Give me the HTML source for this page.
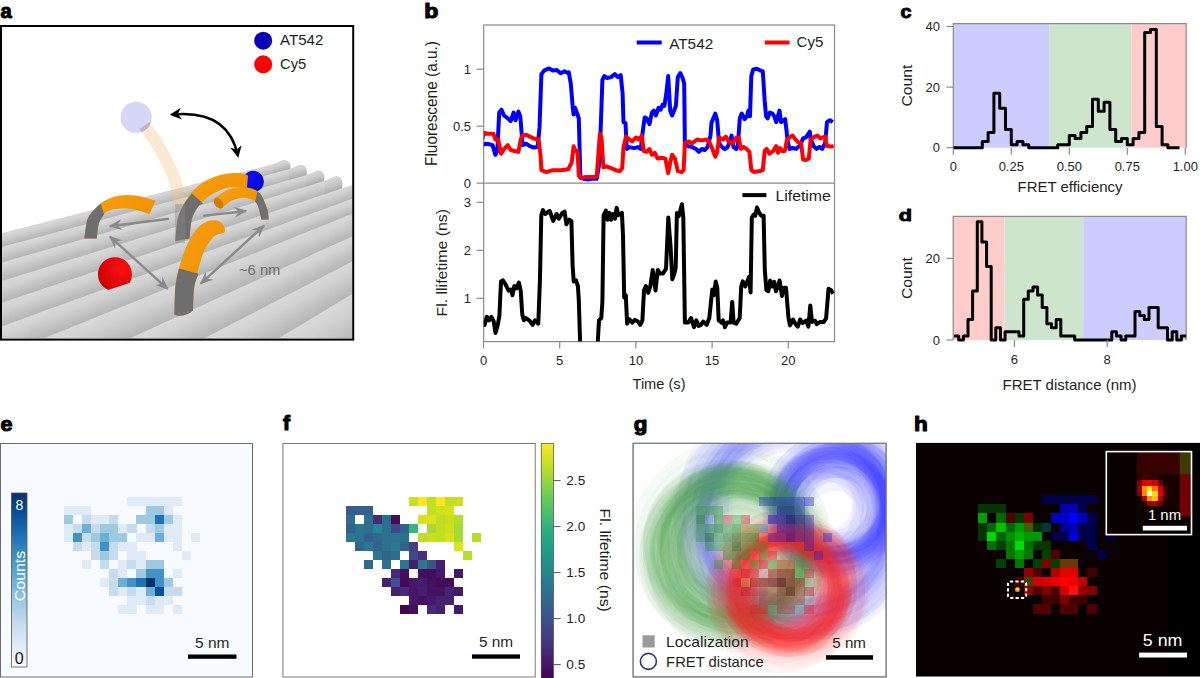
<!DOCTYPE html>
<html><head><meta charset="utf-8"><style>
html,body{margin:0;padding:0;background:#fff;}
body{width:1200px;height:678px;overflow:hidden;}
svg{display:block;font-family:"Liberation Sans",sans-serif;}
</style></head><body>
<svg width="1200" height="678" viewBox="0 0 1200 678">
<rect x="0" y="0" width="1200" height="678" fill="#fff"/>
<defs><clipPath id="ca"><rect x="1.8" y="27" width="350.4" height="311.6"/></clipPath>
<linearGradient id="tubeO" x1="0" y1="0" x2="0" y2="1"><stop offset="0" stop-color="#f5a01a"/><stop offset="1" stop-color="#e08a00"/></linearGradient>
<radialGradient id="sphB" cx="0.4" cy="0.35" r="0.7"><stop offset="0" stop-color="#1010ff"/><stop offset="1" stop-color="#0000c8"/></radialGradient>
<radialGradient id="sphR" cx="0.7" cy="0.35" r="0.8"><stop offset="0" stop-color="#ff1010"/><stop offset="1" stop-color="#c80000"/></radialGradient>
<marker id="ahg" viewBox="0 0 10 10" refX="9" refY="5" markerWidth="5.5" markerHeight="4.6" preserveAspectRatio="none" orient="auto-start-reverse"><path d="M0,0 L10,5 L0,10 L3.4,5 z" fill="#8a8a8a"/></marker>
<marker id="ahk" viewBox="0 0 10 10" refX="8" refY="5" markerWidth="4.5" markerHeight="4.5" orient="auto-start-reverse"><path d="M0,0 L10,5 L0,10 L3,5 z" fill="#000"/></marker>
</defs>
<g clip-path="url(#ca)">
<linearGradient id="cg0_0" gradientUnits="userSpaceOnUse" x1="7.5" y1="231.6" x2="10.8" y2="244.6"><stop offset="0" stop-color="#d9d9d9"/><stop offset="0.3" stop-color="#d2d2d2"/><stop offset="1" stop-color="#b5b5b5"/></linearGradient>
<path d="M-0.5,233.6 L15.5,229.6 L15.5,247.3 L-0.5,251.6 Z" fill="url(#cg0_0)"/>
<linearGradient id="cg0_1" gradientUnits="userSpaceOnUse" x1="22.5" y1="227.8" x2="25.7" y2="240.6"><stop offset="0" stop-color="#d9d9d9"/><stop offset="0.3" stop-color="#d2d2d2"/><stop offset="1" stop-color="#b5b5b5"/></linearGradient>
<path d="M14.5,229.8 L30.5,225.8 L30.5,243.2 L14.5,247.6 Z" fill="url(#cg0_1)"/>
<linearGradient id="cg0_2" gradientUnits="userSpaceOnUse" x1="37.5" y1="224.0" x2="40.7" y2="236.5"><stop offset="0" stop-color="#d9d9d9"/><stop offset="0.3" stop-color="#d2d2d2"/><stop offset="1" stop-color="#b5b5b5"/></linearGradient>
<path d="M29.5,226.0 L45.5,221.9 L45.5,239.2 L29.5,243.5 Z" fill="url(#cg0_2)"/>
<linearGradient id="cg0_3" gradientUnits="userSpaceOnUse" x1="52.5" y1="220.2" x2="55.6" y2="232.5"><stop offset="0" stop-color="#d9d9d9"/><stop offset="0.3" stop-color="#d2d2d2"/><stop offset="1" stop-color="#b5b5b5"/></linearGradient>
<path d="M44.5,222.2 L60.5,218.1 L60.5,235.1 L44.5,239.4 Z" fill="url(#cg0_3)"/>
<linearGradient id="cg0_4" gradientUnits="userSpaceOnUse" x1="67.5" y1="216.4" x2="70.6" y2="228.4"><stop offset="0" stop-color="#d9d9d9"/><stop offset="0.3" stop-color="#d2d2d2"/><stop offset="1" stop-color="#b5b5b5"/></linearGradient>
<path d="M59.5,218.4 L75.5,214.3 L75.5,231.0 L59.5,235.4 Z" fill="url(#cg0_4)"/>
<linearGradient id="cg0_5" gradientUnits="userSpaceOnUse" x1="82.5" y1="212.5" x2="85.5" y2="224.4"><stop offset="0" stop-color="#d9d9d9"/><stop offset="0.3" stop-color="#d2d2d2"/><stop offset="1" stop-color="#b5b5b5"/></linearGradient>
<path d="M74.5,214.6 L90.5,210.5 L90.5,227.0 L74.5,231.3 Z" fill="url(#cg0_5)"/>
<linearGradient id="cg0_6" gradientUnits="userSpaceOnUse" x1="97.5" y1="208.7" x2="100.4" y2="220.3"><stop offset="0" stop-color="#d9d9d9"/><stop offset="0.3" stop-color="#d2d2d2"/><stop offset="1" stop-color="#b5b5b5"/></linearGradient>
<path d="M89.5,210.8 L105.5,206.7 L105.5,222.9 L89.5,227.2 Z" fill="url(#cg0_6)"/>
<linearGradient id="cg0_7" gradientUnits="userSpaceOnUse" x1="112.5" y1="204.9" x2="115.4" y2="216.3"><stop offset="0" stop-color="#d9d9d9"/><stop offset="0.3" stop-color="#d2d2d2"/><stop offset="1" stop-color="#b5b5b5"/></linearGradient>
<path d="M104.5,207.0 L120.5,202.9 L120.5,218.8 L104.5,223.2 Z" fill="url(#cg0_7)"/>
<linearGradient id="cg0_8" gradientUnits="userSpaceOnUse" x1="127.5" y1="201.1" x2="130.3" y2="212.2"><stop offset="0" stop-color="#d9d9d9"/><stop offset="0.3" stop-color="#d2d2d2"/><stop offset="1" stop-color="#b5b5b5"/></linearGradient>
<path d="M119.5,203.1 L135.5,199.1 L135.5,214.8 L119.5,219.1 Z" fill="url(#cg0_8)"/>
<linearGradient id="cg0_9" gradientUnits="userSpaceOnUse" x1="142.5" y1="197.3" x2="145.3" y2="208.2"><stop offset="0" stop-color="#d9d9d9"/><stop offset="0.3" stop-color="#d2d2d2"/><stop offset="1" stop-color="#b5b5b5"/></linearGradient>
<path d="M134.5,199.3 L150.5,195.3 L150.5,210.7 L134.5,215.1 Z" fill="url(#cg0_9)"/>
<linearGradient id="cg0_10" gradientUnits="userSpaceOnUse" x1="157.5" y1="193.5" x2="160.2" y2="204.1"><stop offset="0" stop-color="#d9d9d9"/><stop offset="0.3" stop-color="#d2d2d2"/><stop offset="1" stop-color="#b5b5b5"/></linearGradient>
<path d="M149.5,195.5 L165.5,191.5 L165.5,206.6 L149.5,211.0 Z" fill="url(#cg0_10)"/>
<linearGradient id="cg0_11" gradientUnits="userSpaceOnUse" x1="172.5" y1="189.7" x2="175.1" y2="200.1"><stop offset="0" stop-color="#d9d9d9"/><stop offset="0.3" stop-color="#d2d2d2"/><stop offset="1" stop-color="#b5b5b5"/></linearGradient>
<path d="M164.5,191.7 L180.5,187.7 L180.5,202.6 L164.5,206.9 Z" fill="url(#cg0_11)"/>
<linearGradient id="cg0_12" gradientUnits="userSpaceOnUse" x1="187.5" y1="185.9" x2="190.1" y2="196.0"><stop offset="0" stop-color="#d9d9d9"/><stop offset="0.3" stop-color="#d2d2d2"/><stop offset="1" stop-color="#b5b5b5"/></linearGradient>
<path d="M179.5,187.9 L195.5,183.8 L195.5,198.5 L179.5,202.9 Z" fill="url(#cg0_12)"/>
<linearGradient id="cg0_13" gradientUnits="userSpaceOnUse" x1="202.5" y1="182.1" x2="205.0" y2="192.0"><stop offset="0" stop-color="#d9d9d9"/><stop offset="0.3" stop-color="#d2d2d2"/><stop offset="1" stop-color="#b5b5b5"/></linearGradient>
<path d="M194.5,184.1 L210.5,180.0 L210.5,194.5 L194.5,198.8 Z" fill="url(#cg0_13)"/>
<linearGradient id="cg0_14" gradientUnits="userSpaceOnUse" x1="217.5" y1="178.3" x2="220.0" y2="187.9"><stop offset="0" stop-color="#d9d9d9"/><stop offset="0.3" stop-color="#d2d2d2"/><stop offset="1" stop-color="#b5b5b5"/></linearGradient>
<path d="M209.5,180.3 L225.5,176.2 L225.5,190.4 L209.5,194.7 Z" fill="url(#cg0_14)"/>
<linearGradient id="cg0_15" gradientUnits="userSpaceOnUse" x1="232.5" y1="174.4" x2="234.9" y2="183.9"><stop offset="0" stop-color="#d9d9d9"/><stop offset="0.3" stop-color="#d2d2d2"/><stop offset="1" stop-color="#b5b5b5"/></linearGradient>
<path d="M224.5,176.5 L240.5,172.4 L240.5,186.3 L224.5,190.7 Z" fill="url(#cg0_15)"/>
<linearGradient id="cg0_16" gradientUnits="userSpaceOnUse" x1="247.5" y1="170.6" x2="249.8" y2="179.8"><stop offset="0" stop-color="#d9d9d9"/><stop offset="0.3" stop-color="#d2d2d2"/><stop offset="1" stop-color="#b5b5b5"/></linearGradient>
<path d="M239.5,172.7 L255.5,168.6 L255.5,182.3 L239.5,186.6 Z" fill="url(#cg0_16)"/>
<linearGradient id="cg0_17" gradientUnits="userSpaceOnUse" x1="262.5" y1="166.8" x2="264.8" y2="175.8"><stop offset="0" stop-color="#d9d9d9"/><stop offset="0.3" stop-color="#d2d2d2"/><stop offset="1" stop-color="#b5b5b5"/></linearGradient>
<path d="M254.5,168.9 L270.5,164.8 L270.5,178.2 L254.5,182.5 Z" fill="url(#cg0_17)"/>
<linearGradient id="cg0_18" gradientUnits="userSpaceOnUse" x1="271.5" y1="164.5" x2="273.7" y2="173.4"><stop offset="0" stop-color="#d9d9d9"/><stop offset="0.3" stop-color="#d2d2d2"/><stop offset="1" stop-color="#b5b5b5"/></linearGradient>
<path d="M269.5,165.0 L273.5,164.0 L273.5,177.4 L269.5,178.5 Z" fill="url(#cg0_18)"/>
<linearGradient id="cgc0" gradientUnits="userSpaceOnUse" x1="283.0" y1="161.6" x2="285.2" y2="170.3"><stop offset="0" stop-color="#d6d6d6"/><stop offset="0.3" stop-color="#cecece"/><stop offset="1" stop-color="#adadad"/></linearGradient>
<path d="M272.5,164.3 L283.0,160.1 C288.0,159.1 292.0,163.6 290.0,169.9 L290.0,173.9 L272.5,178.7 Z" fill="url(#cgc0)"/>
<linearGradient id="cg1_0" gradientUnits="userSpaceOnUse" x1="7.5" y1="245.5" x2="11.4" y2="259.8"><stop offset="0" stop-color="#d9d9d9"/><stop offset="0.3" stop-color="#d2d2d2"/><stop offset="1" stop-color="#b5b5b5"/></linearGradient>
<path d="M-0.5,247.6 L15.5,243.3 L15.5,262.6 L-0.5,267.1 Z" fill="url(#cg1_0)"/>
<linearGradient id="cg1_1" gradientUnits="userSpaceOnUse" x1="22.5" y1="241.4" x2="26.3" y2="255.5"><stop offset="0" stop-color="#d9d9d9"/><stop offset="0.3" stop-color="#d2d2d2"/><stop offset="1" stop-color="#b5b5b5"/></linearGradient>
<path d="M14.5,243.6 L30.5,239.2 L30.5,258.2 L14.5,262.8 Z" fill="url(#cg1_1)"/>
<linearGradient id="cg1_2" gradientUnits="userSpaceOnUse" x1="37.5" y1="237.3" x2="41.3" y2="251.2"><stop offset="0" stop-color="#d9d9d9"/><stop offset="0.3" stop-color="#d2d2d2"/><stop offset="1" stop-color="#b5b5b5"/></linearGradient>
<path d="M29.5,239.5 L45.5,235.2 L45.5,253.9 L29.5,258.5 Z" fill="url(#cg1_2)"/>
<linearGradient id="cg1_3" gradientUnits="userSpaceOnUse" x1="52.5" y1="233.3" x2="56.2" y2="246.9"><stop offset="0" stop-color="#d9d9d9"/><stop offset="0.3" stop-color="#d2d2d2"/><stop offset="1" stop-color="#b5b5b5"/></linearGradient>
<path d="M44.5,235.4 L60.5,231.1 L60.5,249.6 L44.5,254.2 Z" fill="url(#cg1_3)"/>
<linearGradient id="cg1_4" gradientUnits="userSpaceOnUse" x1="67.5" y1="229.2" x2="71.1" y2="242.6"><stop offset="0" stop-color="#d9d9d9"/><stop offset="0.3" stop-color="#d2d2d2"/><stop offset="1" stop-color="#b5b5b5"/></linearGradient>
<path d="M59.5,231.4 L75.5,227.0 L75.5,245.3 L59.5,249.9 Z" fill="url(#cg1_4)"/>
<linearGradient id="cg1_5" gradientUnits="userSpaceOnUse" x1="82.5" y1="225.1" x2="86.1" y2="238.4"><stop offset="0" stop-color="#d9d9d9"/><stop offset="0.3" stop-color="#d2d2d2"/><stop offset="1" stop-color="#b5b5b5"/></linearGradient>
<path d="M74.5,227.3 L90.5,223.0 L90.5,241.0 L74.5,245.6 Z" fill="url(#cg1_5)"/>
<linearGradient id="cg1_6" gradientUnits="userSpaceOnUse" x1="97.5" y1="221.1" x2="101.0" y2="234.1"><stop offset="0" stop-color="#d9d9d9"/><stop offset="0.3" stop-color="#d2d2d2"/><stop offset="1" stop-color="#b5b5b5"/></linearGradient>
<path d="M89.5,223.2 L105.5,218.9 L105.5,236.7 L89.5,241.3 Z" fill="url(#cg1_6)"/>
<linearGradient id="cg1_7" gradientUnits="userSpaceOnUse" x1="112.5" y1="217.0" x2="116.0" y2="229.8"><stop offset="0" stop-color="#d9d9d9"/><stop offset="0.3" stop-color="#d2d2d2"/><stop offset="1" stop-color="#b5b5b5"/></linearGradient>
<path d="M104.5,219.2 L120.5,214.8 L120.5,232.4 L104.5,237.0 Z" fill="url(#cg1_7)"/>
<linearGradient id="cg1_8" gradientUnits="userSpaceOnUse" x1="127.5" y1="212.9" x2="130.9" y2="225.5"><stop offset="0" stop-color="#d9d9d9"/><stop offset="0.3" stop-color="#d2d2d2"/><stop offset="1" stop-color="#b5b5b5"/></linearGradient>
<path d="M119.5,215.1 L135.5,210.8 L135.5,228.1 L119.5,232.7 Z" fill="url(#cg1_8)"/>
<linearGradient id="cg1_9" gradientUnits="userSpaceOnUse" x1="142.5" y1="208.9" x2="145.8" y2="221.2"><stop offset="0" stop-color="#d9d9d9"/><stop offset="0.3" stop-color="#d2d2d2"/><stop offset="1" stop-color="#b5b5b5"/></linearGradient>
<path d="M134.5,211.1 L150.5,206.7 L150.5,223.8 L134.5,228.4 Z" fill="url(#cg1_9)"/>
<linearGradient id="cg1_10" gradientUnits="userSpaceOnUse" x1="157.5" y1="204.8" x2="160.8" y2="216.9"><stop offset="0" stop-color="#d9d9d9"/><stop offset="0.3" stop-color="#d2d2d2"/><stop offset="1" stop-color="#b5b5b5"/></linearGradient>
<path d="M149.5,207.0 L165.5,202.6 L165.5,219.5 L149.5,224.1 Z" fill="url(#cg1_10)"/>
<linearGradient id="cg1_11" gradientUnits="userSpaceOnUse" x1="172.5" y1="200.8" x2="175.7" y2="212.6"><stop offset="0" stop-color="#d9d9d9"/><stop offset="0.3" stop-color="#d2d2d2"/><stop offset="1" stop-color="#b5b5b5"/></linearGradient>
<path d="M164.5,202.9 L180.5,198.6 L180.5,215.2 L164.5,219.8 Z" fill="url(#cg1_11)"/>
<linearGradient id="cg1_12" gradientUnits="userSpaceOnUse" x1="187.5" y1="196.7" x2="190.7" y2="208.3"><stop offset="0" stop-color="#d9d9d9"/><stop offset="0.3" stop-color="#d2d2d2"/><stop offset="1" stop-color="#b5b5b5"/></linearGradient>
<path d="M179.5,198.9 L195.5,194.5 L195.5,210.9 L179.5,215.5 Z" fill="url(#cg1_12)"/>
<linearGradient id="cg1_13" gradientUnits="userSpaceOnUse" x1="202.5" y1="192.6" x2="205.6" y2="204.0"><stop offset="0" stop-color="#d9d9d9"/><stop offset="0.3" stop-color="#d2d2d2"/><stop offset="1" stop-color="#b5b5b5"/></linearGradient>
<path d="M194.5,194.8 L210.5,190.5 L210.5,206.6 L194.5,211.2 Z" fill="url(#cg1_13)"/>
<linearGradient id="cg1_14" gradientUnits="userSpaceOnUse" x1="217.5" y1="188.6" x2="220.5" y2="199.8"><stop offset="0" stop-color="#d9d9d9"/><stop offset="0.3" stop-color="#d2d2d2"/><stop offset="1" stop-color="#b5b5b5"/></linearGradient>
<path d="M209.5,190.7 L225.5,186.4 L225.5,202.3 L209.5,206.9 Z" fill="url(#cg1_14)"/>
<linearGradient id="cg1_15" gradientUnits="userSpaceOnUse" x1="232.5" y1="184.5" x2="235.5" y2="195.5"><stop offset="0" stop-color="#d9d9d9"/><stop offset="0.3" stop-color="#d2d2d2"/><stop offset="1" stop-color="#b5b5b5"/></linearGradient>
<path d="M224.5,186.7 L240.5,182.3 L240.5,198.0 L224.5,202.6 Z" fill="url(#cg1_15)"/>
<linearGradient id="cg1_16" gradientUnits="userSpaceOnUse" x1="247.5" y1="180.4" x2="250.4" y2="191.2"><stop offset="0" stop-color="#d9d9d9"/><stop offset="0.3" stop-color="#d2d2d2"/><stop offset="1" stop-color="#b5b5b5"/></linearGradient>
<path d="M239.5,182.6 L255.5,178.3 L255.5,193.7 L239.5,198.3 Z" fill="url(#cg1_16)"/>
<linearGradient id="cg1_17" gradientUnits="userSpaceOnUse" x1="262.5" y1="176.4" x2="265.4" y2="186.9"><stop offset="0" stop-color="#d9d9d9"/><stop offset="0.3" stop-color="#d2d2d2"/><stop offset="1" stop-color="#b5b5b5"/></linearGradient>
<path d="M254.5,178.5 L270.5,174.2 L270.5,189.4 L254.5,194.0 Z" fill="url(#cg1_17)"/>
<linearGradient id="cg1_18" gradientUnits="userSpaceOnUse" x1="277.5" y1="172.3" x2="280.3" y2="182.6"><stop offset="0" stop-color="#d9d9d9"/><stop offset="0.3" stop-color="#d2d2d2"/><stop offset="1" stop-color="#b5b5b5"/></linearGradient>
<path d="M269.5,174.5 L285.5,170.1 L285.5,185.1 L269.5,189.7 Z" fill="url(#cg1_18)"/>
<linearGradient id="cg1_19" gradientUnits="userSpaceOnUse" x1="287.2" y1="169.7" x2="290.0" y2="179.8"><stop offset="0" stop-color="#d9d9d9"/><stop offset="0.3" stop-color="#d2d2d2"/><stop offset="1" stop-color="#b5b5b5"/></linearGradient>
<path d="M284.5,170.4 L290.0,168.9 L290.0,183.8 L284.5,185.3 Z" fill="url(#cg1_19)"/>
<linearGradient id="cgc1" gradientUnits="userSpaceOnUse" x1="299.5" y1="166.3" x2="302.2" y2="176.3"><stop offset="0" stop-color="#d6d6d6"/><stop offset="0.3" stop-color="#cecece"/><stop offset="1" stop-color="#adadad"/></linearGradient>
<path d="M289.0,169.2 L299.5,164.8 C304.5,163.8 308.5,168.3 306.5,176.0 L306.5,180.0 L289.0,185.1 Z" fill="url(#cgc1)"/>
<linearGradient id="cg2_0" gradientUnits="userSpaceOnUse" x1="7.5" y1="260.8" x2="12.4" y2="277.8"><stop offset="0" stop-color="#d9d9d9"/><stop offset="0.3" stop-color="#d2d2d2"/><stop offset="1" stop-color="#b5b5b5"/></linearGradient>
<path d="M-0.5,263.1 L15.5,258.6 L15.5,280.7 L-0.5,285.7 Z" fill="url(#cg2_0)"/>
<linearGradient id="cg2_1" gradientUnits="userSpaceOnUse" x1="22.5" y1="256.5" x2="27.3" y2="273.2"><stop offset="0" stop-color="#d9d9d9"/><stop offset="0.3" stop-color="#d2d2d2"/><stop offset="1" stop-color="#b5b5b5"/></linearGradient>
<path d="M14.5,258.8 L30.5,254.2 L30.5,276.0 L14.5,281.0 Z" fill="url(#cg2_1)"/>
<linearGradient id="cg2_2" gradientUnits="userSpaceOnUse" x1="37.5" y1="252.2" x2="42.2" y2="268.5"><stop offset="0" stop-color="#d9d9d9"/><stop offset="0.3" stop-color="#d2d2d2"/><stop offset="1" stop-color="#b5b5b5"/></linearGradient>
<path d="M29.5,254.5 L45.5,249.9 L45.5,271.4 L29.5,276.4 Z" fill="url(#cg2_2)"/>
<linearGradient id="cg2_3" gradientUnits="userSpaceOnUse" x1="52.5" y1="247.9" x2="57.1" y2="263.9"><stop offset="0" stop-color="#d9d9d9"/><stop offset="0.3" stop-color="#d2d2d2"/><stop offset="1" stop-color="#b5b5b5"/></linearGradient>
<path d="M44.5,250.2 L60.5,245.6 L60.5,266.7 L44.5,271.7 Z" fill="url(#cg2_3)"/>
<linearGradient id="cg2_4" gradientUnits="userSpaceOnUse" x1="67.5" y1="243.6" x2="72.0" y2="259.3"><stop offset="0" stop-color="#d9d9d9"/><stop offset="0.3" stop-color="#d2d2d2"/><stop offset="1" stop-color="#b5b5b5"/></linearGradient>
<path d="M59.5,245.9 L75.5,241.3 L75.5,262.1 L59.5,267.1 Z" fill="url(#cg2_4)"/>
<linearGradient id="cg2_5" gradientUnits="userSpaceOnUse" x1="82.5" y1="239.3" x2="86.9" y2="254.7"><stop offset="0" stop-color="#d9d9d9"/><stop offset="0.3" stop-color="#d2d2d2"/><stop offset="1" stop-color="#b5b5b5"/></linearGradient>
<path d="M74.5,241.6 L90.5,237.0 L90.5,257.4 L74.5,262.4 Z" fill="url(#cg2_5)"/>
<linearGradient id="cg2_6" gradientUnits="userSpaceOnUse" x1="97.5" y1="235.0" x2="101.8" y2="250.0"><stop offset="0" stop-color="#d9d9d9"/><stop offset="0.3" stop-color="#d2d2d2"/><stop offset="1" stop-color="#b5b5b5"/></linearGradient>
<path d="M89.5,237.3 L105.5,232.7 L105.5,252.8 L89.5,257.8 Z" fill="url(#cg2_6)"/>
<linearGradient id="cg2_7" gradientUnits="userSpaceOnUse" x1="112.5" y1="230.7" x2="116.7" y2="245.4"><stop offset="0" stop-color="#d9d9d9"/><stop offset="0.3" stop-color="#d2d2d2"/><stop offset="1" stop-color="#b5b5b5"/></linearGradient>
<path d="M104.5,233.0 L120.5,228.4 L120.5,248.1 L104.5,253.1 Z" fill="url(#cg2_7)"/>
<linearGradient id="cg2_8" gradientUnits="userSpaceOnUse" x1="127.5" y1="226.4" x2="131.6" y2="240.8"><stop offset="0" stop-color="#d9d9d9"/><stop offset="0.3" stop-color="#d2d2d2"/><stop offset="1" stop-color="#b5b5b5"/></linearGradient>
<path d="M119.5,228.7 L135.5,224.1 L135.5,243.5 L119.5,248.5 Z" fill="url(#cg2_8)"/>
<linearGradient id="cg2_9" gradientUnits="userSpaceOnUse" x1="142.5" y1="222.1" x2="146.5" y2="236.2"><stop offset="0" stop-color="#d9d9d9"/><stop offset="0.3" stop-color="#d2d2d2"/><stop offset="1" stop-color="#b5b5b5"/></linearGradient>
<path d="M134.5,224.4 L150.5,219.8 L150.5,238.8 L134.5,243.8 Z" fill="url(#cg2_9)"/>
<linearGradient id="cg2_10" gradientUnits="userSpaceOnUse" x1="157.5" y1="217.8" x2="161.4" y2="231.5"><stop offset="0" stop-color="#d9d9d9"/><stop offset="0.3" stop-color="#d2d2d2"/><stop offset="1" stop-color="#b5b5b5"/></linearGradient>
<path d="M149.5,220.1 L165.5,215.5 L165.5,234.2 L149.5,239.2 Z" fill="url(#cg2_10)"/>
<linearGradient id="cg2_11" gradientUnits="userSpaceOnUse" x1="172.5" y1="213.5" x2="176.4" y2="226.9"><stop offset="0" stop-color="#d9d9d9"/><stop offset="0.3" stop-color="#d2d2d2"/><stop offset="1" stop-color="#b5b5b5"/></linearGradient>
<path d="M164.5,215.8 L180.5,211.2 L180.5,229.5 L164.5,234.5 Z" fill="url(#cg2_11)"/>
<linearGradient id="cg2_12" gradientUnits="userSpaceOnUse" x1="187.5" y1="209.2" x2="191.3" y2="222.3"><stop offset="0" stop-color="#d9d9d9"/><stop offset="0.3" stop-color="#d2d2d2"/><stop offset="1" stop-color="#b5b5b5"/></linearGradient>
<path d="M179.5,211.5 L195.5,206.9 L195.5,224.9 L179.5,229.9 Z" fill="url(#cg2_12)"/>
<linearGradient id="cg2_13" gradientUnits="userSpaceOnUse" x1="202.5" y1="204.9" x2="206.2" y2="217.7"><stop offset="0" stop-color="#d9d9d9"/><stop offset="0.3" stop-color="#d2d2d2"/><stop offset="1" stop-color="#b5b5b5"/></linearGradient>
<path d="M194.5,207.2 L210.5,202.6 L210.5,220.2 L194.5,225.2 Z" fill="url(#cg2_13)"/>
<linearGradient id="cg2_14" gradientUnits="userSpaceOnUse" x1="217.5" y1="200.6" x2="221.1" y2="213.0"><stop offset="0" stop-color="#d9d9d9"/><stop offset="0.3" stop-color="#d2d2d2"/><stop offset="1" stop-color="#b5b5b5"/></linearGradient>
<path d="M209.5,202.9 L225.5,198.3 L225.5,215.6 L209.5,220.6 Z" fill="url(#cg2_14)"/>
<linearGradient id="cg2_15" gradientUnits="userSpaceOnUse" x1="232.5" y1="196.3" x2="236.0" y2="208.4"><stop offset="0" stop-color="#d9d9d9"/><stop offset="0.3" stop-color="#d2d2d2"/><stop offset="1" stop-color="#b5b5b5"/></linearGradient>
<path d="M224.5,198.6 L240.5,194.0 L240.5,210.9 L224.5,215.9 Z" fill="url(#cg2_15)"/>
<linearGradient id="cg2_16" gradientUnits="userSpaceOnUse" x1="247.5" y1="192.0" x2="250.9" y2="203.8"><stop offset="0" stop-color="#d9d9d9"/><stop offset="0.3" stop-color="#d2d2d2"/><stop offset="1" stop-color="#b5b5b5"/></linearGradient>
<path d="M239.5,194.3 L255.5,189.7 L255.5,206.3 L239.5,211.3 Z" fill="url(#cg2_16)"/>
<linearGradient id="cg2_17" gradientUnits="userSpaceOnUse" x1="262.5" y1="187.7" x2="265.8" y2="199.2"><stop offset="0" stop-color="#d9d9d9"/><stop offset="0.3" stop-color="#d2d2d2"/><stop offset="1" stop-color="#b5b5b5"/></linearGradient>
<path d="M254.5,190.0 L270.5,185.4 L270.5,201.6 L254.5,206.6 Z" fill="url(#cg2_17)"/>
<linearGradient id="cg2_18" gradientUnits="userSpaceOnUse" x1="277.5" y1="183.4" x2="280.7" y2="194.6"><stop offset="0" stop-color="#d9d9d9"/><stop offset="0.3" stop-color="#d2d2d2"/><stop offset="1" stop-color="#b5b5b5"/></linearGradient>
<path d="M269.5,185.7 L285.5,181.1 L285.5,197.0 L269.5,202.0 Z" fill="url(#cg2_18)"/>
<linearGradient id="cg2_19" gradientUnits="userSpaceOnUse" x1="292.5" y1="179.1" x2="295.6" y2="189.9"><stop offset="0" stop-color="#d9d9d9"/><stop offset="0.3" stop-color="#d2d2d2"/><stop offset="1" stop-color="#b5b5b5"/></linearGradient>
<path d="M284.5,181.3 L300.5,176.8 L300.5,192.3 L284.5,197.3 Z" fill="url(#cg2_19)"/>
<linearGradient id="cg2_20" gradientUnits="userSpaceOnUse" x1="303.5" y1="175.9" x2="306.6" y2="186.5"><stop offset="0" stop-color="#d9d9d9"/><stop offset="0.3" stop-color="#d2d2d2"/><stop offset="1" stop-color="#b5b5b5"/></linearGradient>
<path d="M299.5,177.0 L307.5,174.7 L307.5,190.2 L299.5,192.7 Z" fill="url(#cg2_20)"/>
<linearGradient id="cgc2" gradientUnits="userSpaceOnUse" x1="317.0" y1="172.0" x2="320.0" y2="182.4"><stop offset="0" stop-color="#d6d6d6"/><stop offset="0.3" stop-color="#cecece"/><stop offset="1" stop-color="#adadad"/></linearGradient>
<path d="M306.5,175.0 L317.0,170.5 C322.0,169.5 326.0,174.0 324.0,182.1 L324.0,186.1 L306.5,191.5 Z" fill="url(#cgc2)"/>
<linearGradient id="cg3_0" gradientUnits="userSpaceOnUse" x1="7.5" y1="279.2" x2="13.6" y2="298.9"><stop offset="0" stop-color="#d9d9d9"/><stop offset="0.3" stop-color="#d2d2d2"/><stop offset="1" stop-color="#b5b5b5"/></linearGradient>
<path d="M-0.5,281.7 L15.5,276.7 L15.5,302.1 L-0.5,307.5 Z" fill="url(#cg3_0)"/>
<linearGradient id="cg3_1" gradientUnits="userSpaceOnUse" x1="22.5" y1="274.5" x2="28.5" y2="293.9"><stop offset="0" stop-color="#d9d9d9"/><stop offset="0.3" stop-color="#d2d2d2"/><stop offset="1" stop-color="#b5b5b5"/></linearGradient>
<path d="M14.5,277.0 L30.5,272.0 L30.5,297.1 L14.5,302.4 Z" fill="url(#cg3_1)"/>
<linearGradient id="cg3_2" gradientUnits="userSpaceOnUse" x1="37.5" y1="269.9" x2="43.4" y2="288.9"><stop offset="0" stop-color="#d9d9d9"/><stop offset="0.3" stop-color="#d2d2d2"/><stop offset="1" stop-color="#b5b5b5"/></linearGradient>
<path d="M29.5,272.4 L45.5,267.4 L45.5,292.0 L29.5,297.4 Z" fill="url(#cg3_2)"/>
<linearGradient id="cg3_3" gradientUnits="userSpaceOnUse" x1="52.5" y1="265.2" x2="58.3" y2="283.9"><stop offset="0" stop-color="#d9d9d9"/><stop offset="0.3" stop-color="#d2d2d2"/><stop offset="1" stop-color="#b5b5b5"/></linearGradient>
<path d="M44.5,267.7 L60.5,262.7 L60.5,287.0 L44.5,292.3 Z" fill="url(#cg3_3)"/>
<linearGradient id="cg3_4" gradientUnits="userSpaceOnUse" x1="67.5" y1="260.6" x2="73.2" y2="278.9"><stop offset="0" stop-color="#d9d9d9"/><stop offset="0.3" stop-color="#d2d2d2"/><stop offset="1" stop-color="#b5b5b5"/></linearGradient>
<path d="M59.5,263.1 L75.5,258.1 L75.5,281.9 L59.5,287.3 Z" fill="url(#cg3_4)"/>
<linearGradient id="cg3_5" gradientUnits="userSpaceOnUse" x1="82.5" y1="255.9" x2="88.1" y2="273.9"><stop offset="0" stop-color="#d9d9d9"/><stop offset="0.3" stop-color="#d2d2d2"/><stop offset="1" stop-color="#b5b5b5"/></linearGradient>
<path d="M74.5,258.4 L90.5,253.4 L90.5,276.9 L74.5,282.3 Z" fill="url(#cg3_5)"/>
<linearGradient id="cg3_6" gradientUnits="userSpaceOnUse" x1="97.5" y1="251.3" x2="102.9" y2="268.9"><stop offset="0" stop-color="#d9d9d9"/><stop offset="0.3" stop-color="#d2d2d2"/><stop offset="1" stop-color="#b5b5b5"/></linearGradient>
<path d="M89.5,253.8 L105.5,248.8 L105.5,271.9 L89.5,277.2 Z" fill="url(#cg3_6)"/>
<linearGradient id="cg3_7" gradientUnits="userSpaceOnUse" x1="112.5" y1="246.6" x2="117.8" y2="263.8"><stop offset="0" stop-color="#d9d9d9"/><stop offset="0.3" stop-color="#d2d2d2"/><stop offset="1" stop-color="#b5b5b5"/></linearGradient>
<path d="M104.5,249.1 L120.5,244.1 L120.5,266.8 L104.5,272.2 Z" fill="url(#cg3_7)"/>
<linearGradient id="cg3_8" gradientUnits="userSpaceOnUse" x1="127.5" y1="242.0" x2="132.7" y2="258.8"><stop offset="0" stop-color="#d9d9d9"/><stop offset="0.3" stop-color="#d2d2d2"/><stop offset="1" stop-color="#b5b5b5"/></linearGradient>
<path d="M119.5,244.5 L135.5,239.5 L135.5,261.8 L119.5,267.1 Z" fill="url(#cg3_8)"/>
<linearGradient id="cg3_9" gradientUnits="userSpaceOnUse" x1="142.5" y1="237.3" x2="147.6" y2="253.8"><stop offset="0" stop-color="#d9d9d9"/><stop offset="0.3" stop-color="#d2d2d2"/><stop offset="1" stop-color="#b5b5b5"/></linearGradient>
<path d="M134.5,239.8 L150.5,234.8 L150.5,256.7 L134.5,262.1 Z" fill="url(#cg3_9)"/>
<linearGradient id="cg3_10" gradientUnits="userSpaceOnUse" x1="157.5" y1="232.7" x2="162.5" y2="248.8"><stop offset="0" stop-color="#d9d9d9"/><stop offset="0.3" stop-color="#d2d2d2"/><stop offset="1" stop-color="#b5b5b5"/></linearGradient>
<path d="M149.5,235.2 L165.5,230.2 L165.5,251.7 L149.5,257.1 Z" fill="url(#cg3_10)"/>
<linearGradient id="cg3_11" gradientUnits="userSpaceOnUse" x1="172.5" y1="228.0" x2="177.4" y2="243.8"><stop offset="0" stop-color="#d9d9d9"/><stop offset="0.3" stop-color="#d2d2d2"/><stop offset="1" stop-color="#b5b5b5"/></linearGradient>
<path d="M164.5,230.5 L180.5,225.5 L180.5,246.7 L164.5,252.0 Z" fill="url(#cg3_11)"/>
<linearGradient id="cg3_12" gradientUnits="userSpaceOnUse" x1="187.5" y1="223.4" x2="192.3" y2="238.8"><stop offset="0" stop-color="#d9d9d9"/><stop offset="0.3" stop-color="#d2d2d2"/><stop offset="1" stop-color="#b5b5b5"/></linearGradient>
<path d="M179.5,225.9 L195.5,220.9 L195.5,241.6 L179.5,247.0 Z" fill="url(#cg3_12)"/>
<linearGradient id="cg3_13" gradientUnits="userSpaceOnUse" x1="202.5" y1="218.7" x2="207.2" y2="233.8"><stop offset="0" stop-color="#d9d9d9"/><stop offset="0.3" stop-color="#d2d2d2"/><stop offset="1" stop-color="#b5b5b5"/></linearGradient>
<path d="M194.5,221.2 L210.5,216.2 L210.5,236.6 L194.5,241.9 Z" fill="url(#cg3_13)"/>
<linearGradient id="cg3_14" gradientUnits="userSpaceOnUse" x1="217.5" y1="214.1" x2="222.1" y2="228.8"><stop offset="0" stop-color="#d9d9d9"/><stop offset="0.3" stop-color="#d2d2d2"/><stop offset="1" stop-color="#b5b5b5"/></linearGradient>
<path d="M209.5,216.6 L225.5,211.6 L225.5,231.5 L209.5,236.9 Z" fill="url(#cg3_14)"/>
<linearGradient id="cg3_15" gradientUnits="userSpaceOnUse" x1="232.5" y1="209.4" x2="237.0" y2="223.8"><stop offset="0" stop-color="#d9d9d9"/><stop offset="0.3" stop-color="#d2d2d2"/><stop offset="1" stop-color="#b5b5b5"/></linearGradient>
<path d="M224.5,211.9 L240.5,206.9 L240.5,226.5 L224.5,231.9 Z" fill="url(#cg3_15)"/>
<linearGradient id="cg3_16" gradientUnits="userSpaceOnUse" x1="247.5" y1="204.8" x2="251.8" y2="218.8"><stop offset="0" stop-color="#d9d9d9"/><stop offset="0.3" stop-color="#d2d2d2"/><stop offset="1" stop-color="#b5b5b5"/></linearGradient>
<path d="M239.5,207.3 L255.5,202.3 L255.5,221.5 L239.5,226.8 Z" fill="url(#cg3_16)"/>
<linearGradient id="cg3_17" gradientUnits="userSpaceOnUse" x1="262.5" y1="200.1" x2="266.7" y2="213.8"><stop offset="0" stop-color="#d9d9d9"/><stop offset="0.3" stop-color="#d2d2d2"/><stop offset="1" stop-color="#b5b5b5"/></linearGradient>
<path d="M254.5,202.6 L270.5,197.6 L270.5,216.4 L254.5,221.8 Z" fill="url(#cg3_17)"/>
<linearGradient id="cg3_18" gradientUnits="userSpaceOnUse" x1="277.5" y1="195.5" x2="281.6" y2="208.8"><stop offset="0" stop-color="#d9d9d9"/><stop offset="0.3" stop-color="#d2d2d2"/><stop offset="1" stop-color="#b5b5b5"/></linearGradient>
<path d="M269.5,198.0 L285.5,193.0 L285.5,211.4 L269.5,216.7 Z" fill="url(#cg3_18)"/>
<linearGradient id="cg3_19" gradientUnits="userSpaceOnUse" x1="292.5" y1="190.8" x2="296.5" y2="203.8"><stop offset="0" stop-color="#d9d9d9"/><stop offset="0.3" stop-color="#d2d2d2"/><stop offset="1" stop-color="#b5b5b5"/></linearGradient>
<path d="M284.5,193.3 L300.5,188.3 L300.5,206.3 L284.5,211.7 Z" fill="url(#cg3_19)"/>
<linearGradient id="cg3_20" gradientUnits="userSpaceOnUse" x1="307.5" y1="186.2" x2="311.4" y2="198.8"><stop offset="0" stop-color="#d9d9d9"/><stop offset="0.3" stop-color="#d2d2d2"/><stop offset="1" stop-color="#b5b5b5"/></linearGradient>
<path d="M299.5,188.7 L315.5,183.7 L315.5,201.3 L299.5,206.7 Z" fill="url(#cg3_20)"/>
<linearGradient id="cg3_21" gradientUnits="userSpaceOnUse" x1="320.0" y1="182.3" x2="323.8" y2="194.6"><stop offset="0" stop-color="#d9d9d9"/><stop offset="0.3" stop-color="#d2d2d2"/><stop offset="1" stop-color="#b5b5b5"/></linearGradient>
<path d="M314.5,184.0 L325.5,180.6 L325.5,197.9 L314.5,201.6 Z" fill="url(#cg3_21)"/>
<linearGradient id="cgc3" gradientUnits="userSpaceOnUse" x1="335.0" y1="177.7" x2="338.7" y2="189.6"><stop offset="0" stop-color="#d6d6d6"/><stop offset="0.3" stop-color="#cecece"/><stop offset="1" stop-color="#adadad"/></linearGradient>
<path d="M324.5,180.9 L335.0,176.2 C340.0,175.2 344.0,179.7 342.0,189.4 L342.0,193.4 L324.5,199.3 Z" fill="url(#cgc3)"/>
<linearGradient id="cg4_0" gradientUnits="userSpaceOnUse" x1="7.5" y1="300.8" x2="14.6" y2="321.9"><stop offset="0" stop-color="#d9d9d9"/><stop offset="0.3" stop-color="#d2d2d2"/><stop offset="1" stop-color="#b5b5b5"/></linearGradient>
<path d="M-0.5,303.5 L15.5,298.1 L15.5,325.4 L-0.5,331.2 Z" fill="url(#cg4_0)"/>
<linearGradient id="cg4_1" gradientUnits="userSpaceOnUse" x1="22.5" y1="295.7" x2="29.5" y2="316.5"><stop offset="0" stop-color="#d9d9d9"/><stop offset="0.3" stop-color="#d2d2d2"/><stop offset="1" stop-color="#b5b5b5"/></linearGradient>
<path d="M14.5,298.4 L30.5,293.1 L30.5,319.9 L14.5,325.7 Z" fill="url(#cg4_1)"/>
<linearGradient id="cg4_2" gradientUnits="userSpaceOnUse" x1="37.5" y1="290.7" x2="44.3" y2="311.1"><stop offset="0" stop-color="#d9d9d9"/><stop offset="0.3" stop-color="#d2d2d2"/><stop offset="1" stop-color="#b5b5b5"/></linearGradient>
<path d="M29.5,293.4 L45.5,288.0 L45.5,314.4 L29.5,320.3 Z" fill="url(#cg4_2)"/>
<linearGradient id="cg4_3" gradientUnits="userSpaceOnUse" x1="52.5" y1="285.7" x2="59.2" y2="305.6"><stop offset="0" stop-color="#d9d9d9"/><stop offset="0.3" stop-color="#d2d2d2"/><stop offset="1" stop-color="#b5b5b5"/></linearGradient>
<path d="M44.5,288.3 L60.5,283.0 L60.5,309.0 L44.5,314.8 Z" fill="url(#cg4_3)"/>
<linearGradient id="cg4_4" gradientUnits="userSpaceOnUse" x1="67.5" y1="280.6" x2="74.1" y2="300.2"><stop offset="0" stop-color="#d9d9d9"/><stop offset="0.3" stop-color="#d2d2d2"/><stop offset="1" stop-color="#b5b5b5"/></linearGradient>
<path d="M59.5,283.3 L75.5,277.9 L75.5,303.5 L59.5,309.3 Z" fill="url(#cg4_4)"/>
<linearGradient id="cg4_5" gradientUnits="userSpaceOnUse" x1="82.5" y1="275.6" x2="89.0" y2="294.8"><stop offset="0" stop-color="#d9d9d9"/><stop offset="0.3" stop-color="#d2d2d2"/><stop offset="1" stop-color="#b5b5b5"/></linearGradient>
<path d="M74.5,278.3 L90.5,272.9 L90.5,298.1 L74.5,303.9 Z" fill="url(#cg4_5)"/>
<linearGradient id="cg4_6" gradientUnits="userSpaceOnUse" x1="97.5" y1="270.5" x2="103.8" y2="289.4"><stop offset="0" stop-color="#d9d9d9"/><stop offset="0.3" stop-color="#d2d2d2"/><stop offset="1" stop-color="#b5b5b5"/></linearGradient>
<path d="M89.5,273.2 L105.5,267.9 L105.5,292.6 L89.5,298.4 Z" fill="url(#cg4_6)"/>
<linearGradient id="cg4_7" gradientUnits="userSpaceOnUse" x1="112.5" y1="265.5" x2="118.7" y2="284.0"><stop offset="0" stop-color="#d9d9d9"/><stop offset="0.3" stop-color="#d2d2d2"/><stop offset="1" stop-color="#b5b5b5"/></linearGradient>
<path d="M104.5,268.2 L120.5,262.8 L120.5,287.1 L104.5,293.0 Z" fill="url(#cg4_7)"/>
<linearGradient id="cg4_8" gradientUnits="userSpaceOnUse" x1="127.5" y1="260.5" x2="133.6" y2="278.5"><stop offset="0" stop-color="#d9d9d9"/><stop offset="0.3" stop-color="#d2d2d2"/><stop offset="1" stop-color="#b5b5b5"/></linearGradient>
<path d="M119.5,263.1 L135.5,257.8 L135.5,281.7 L119.5,287.5 Z" fill="url(#cg4_8)"/>
<linearGradient id="cg4_9" gradientUnits="userSpaceOnUse" x1="142.5" y1="255.4" x2="148.5" y2="273.1"><stop offset="0" stop-color="#d9d9d9"/><stop offset="0.3" stop-color="#d2d2d2"/><stop offset="1" stop-color="#b5b5b5"/></linearGradient>
<path d="M134.5,258.1 L150.5,252.7 L150.5,276.2 L134.5,282.0 Z" fill="url(#cg4_9)"/>
<linearGradient id="cg4_10" gradientUnits="userSpaceOnUse" x1="157.5" y1="250.4" x2="163.3" y2="267.7"><stop offset="0" stop-color="#d9d9d9"/><stop offset="0.3" stop-color="#d2d2d2"/><stop offset="1" stop-color="#b5b5b5"/></linearGradient>
<path d="M149.5,253.1 L165.5,247.7 L165.5,270.8 L149.5,276.6 Z" fill="url(#cg4_10)"/>
<linearGradient id="cg4_11" gradientUnits="userSpaceOnUse" x1="172.5" y1="245.3" x2="178.2" y2="262.3"><stop offset="0" stop-color="#d9d9d9"/><stop offset="0.3" stop-color="#d2d2d2"/><stop offset="1" stop-color="#b5b5b5"/></linearGradient>
<path d="M164.5,248.0 L180.5,242.7 L180.5,265.3 L164.5,271.1 Z" fill="url(#cg4_11)"/>
<linearGradient id="cg4_12" gradientUnits="userSpaceOnUse" x1="187.5" y1="240.3" x2="193.1" y2="256.9"><stop offset="0" stop-color="#d9d9d9"/><stop offset="0.3" stop-color="#d2d2d2"/><stop offset="1" stop-color="#b5b5b5"/></linearGradient>
<path d="M179.5,243.0 L195.5,237.6 L195.5,259.8 L179.5,265.7 Z" fill="url(#cg4_12)"/>
<linearGradient id="cg4_13" gradientUnits="userSpaceOnUse" x1="202.5" y1="235.3" x2="207.9" y2="251.5"><stop offset="0" stop-color="#d9d9d9"/><stop offset="0.3" stop-color="#d2d2d2"/><stop offset="1" stop-color="#b5b5b5"/></linearGradient>
<path d="M194.5,237.9 L210.5,232.6 L210.5,254.4 L194.5,260.2 Z" fill="url(#cg4_13)"/>
<linearGradient id="cg4_14" gradientUnits="userSpaceOnUse" x1="217.5" y1="230.2" x2="222.8" y2="246.0"><stop offset="0" stop-color="#d9d9d9"/><stop offset="0.3" stop-color="#d2d2d2"/><stop offset="1" stop-color="#b5b5b5"/></linearGradient>
<path d="M209.5,232.9 L225.5,227.5 L225.5,248.9 L209.5,254.7 Z" fill="url(#cg4_14)"/>
<linearGradient id="cg4_15" gradientUnits="userSpaceOnUse" x1="232.5" y1="225.2" x2="237.7" y2="240.6"><stop offset="0" stop-color="#d9d9d9"/><stop offset="0.3" stop-color="#d2d2d2"/><stop offset="1" stop-color="#b5b5b5"/></linearGradient>
<path d="M224.5,227.9 L240.5,222.5 L240.5,243.5 L224.5,249.3 Z" fill="url(#cg4_15)"/>
<linearGradient id="cg4_16" gradientUnits="userSpaceOnUse" x1="247.5" y1="220.1" x2="252.6" y2="235.2"><stop offset="0" stop-color="#d9d9d9"/><stop offset="0.3" stop-color="#d2d2d2"/><stop offset="1" stop-color="#b5b5b5"/></linearGradient>
<path d="M239.5,222.8 L255.5,217.5 L255.5,238.0 L239.5,243.8 Z" fill="url(#cg4_16)"/>
<linearGradient id="cg4_17" gradientUnits="userSpaceOnUse" x1="262.5" y1="215.1" x2="267.4" y2="229.8"><stop offset="0" stop-color="#d9d9d9"/><stop offset="0.3" stop-color="#d2d2d2"/><stop offset="1" stop-color="#b5b5b5"/></linearGradient>
<path d="M254.5,217.8 L270.5,212.4 L270.5,232.5 L254.5,238.4 Z" fill="url(#cg4_17)"/>
<linearGradient id="cg4_18" gradientUnits="userSpaceOnUse" x1="277.5" y1="210.1" x2="282.3" y2="224.4"><stop offset="0" stop-color="#d9d9d9"/><stop offset="0.3" stop-color="#d2d2d2"/><stop offset="1" stop-color="#b5b5b5"/></linearGradient>
<path d="M269.5,212.7 L285.5,207.4 L285.5,227.1 L269.5,232.9 Z" fill="url(#cg4_18)"/>
<linearGradient id="cg4_19" gradientUnits="userSpaceOnUse" x1="292.5" y1="205.0" x2="297.2" y2="219.0"><stop offset="0" stop-color="#d9d9d9"/><stop offset="0.3" stop-color="#d2d2d2"/><stop offset="1" stop-color="#b5b5b5"/></linearGradient>
<path d="M284.5,207.7 L300.5,202.3 L300.5,221.6 L284.5,227.4 Z" fill="url(#cg4_19)"/>
<linearGradient id="cg4_20" gradientUnits="userSpaceOnUse" x1="307.5" y1="200.0" x2="312.1" y2="213.5"><stop offset="0" stop-color="#d9d9d9"/><stop offset="0.3" stop-color="#d2d2d2"/><stop offset="1" stop-color="#b5b5b5"/></linearGradient>
<path d="M299.5,202.7 L315.5,197.3 L315.5,216.2 L299.5,222.0 Z" fill="url(#cg4_20)"/>
<linearGradient id="cg4_21" gradientUnits="userSpaceOnUse" x1="322.5" y1="194.9" x2="326.9" y2="208.1"><stop offset="0" stop-color="#d9d9d9"/><stop offset="0.3" stop-color="#d2d2d2"/><stop offset="1" stop-color="#b5b5b5"/></linearGradient>
<path d="M314.5,197.6 L330.5,192.3 L330.5,210.7 L314.5,216.5 Z" fill="url(#cg4_21)"/>
<linearGradient id="cg4_22" gradientUnits="userSpaceOnUse" x1="337.5" y1="189.9" x2="341.8" y2="202.7"><stop offset="0" stop-color="#d9d9d9"/><stop offset="0.3" stop-color="#d2d2d2"/><stop offset="1" stop-color="#b5b5b5"/></linearGradient>
<path d="M329.5,192.6 L345.5,187.2 L345.5,205.2 L329.5,211.1 Z" fill="url(#cg4_22)"/>
<linearGradient id="cg4_23" gradientUnits="userSpaceOnUse" x1="352.5" y1="184.9" x2="356.7" y2="197.3"><stop offset="0" stop-color="#d9d9d9"/><stop offset="0.3" stop-color="#d2d2d2"/><stop offset="1" stop-color="#b5b5b5"/></linearGradient>
<path d="M344.5,187.5 L360.5,182.2 L360.5,199.8 L344.5,205.6 Z" fill="url(#cg4_23)"/>
<linearGradient id="cg5_0" gradientUnits="userSpaceOnUse" x1="7.5" y1="324.3" x2="16.7" y2="349.6"><stop offset="0" stop-color="#d9d9d9"/><stop offset="0.3" stop-color="#d2d2d2"/><stop offset="1" stop-color="#b5b5b5"/></linearGradient>
<path d="M-0.5,327.2 L15.5,321.4 L15.5,353.7 L-0.5,360.2 Z" fill="url(#cg5_0)"/>
<linearGradient id="cg5_1" gradientUnits="userSpaceOnUse" x1="22.5" y1="318.8" x2="31.5" y2="343.6"><stop offset="0" stop-color="#d9d9d9"/><stop offset="0.3" stop-color="#d2d2d2"/><stop offset="1" stop-color="#b5b5b5"/></linearGradient>
<path d="M14.5,321.7 L30.5,315.9 L30.5,347.7 L14.5,354.1 Z" fill="url(#cg5_1)"/>
<linearGradient id="cg5_2" gradientUnits="userSpaceOnUse" x1="37.5" y1="313.4" x2="46.3" y2="337.6"><stop offset="0" stop-color="#d9d9d9"/><stop offset="0.3" stop-color="#d2d2d2"/><stop offset="1" stop-color="#b5b5b5"/></linearGradient>
<path d="M29.5,316.3 L45.5,310.4 L45.5,341.6 L29.5,348.1 Z" fill="url(#cg5_2)"/>
<linearGradient id="cg5_3" gradientUnits="userSpaceOnUse" x1="52.5" y1="307.9" x2="61.1" y2="331.6"><stop offset="0" stop-color="#d9d9d9"/><stop offset="0.3" stop-color="#d2d2d2"/><stop offset="1" stop-color="#b5b5b5"/></linearGradient>
<path d="M44.5,310.8 L60.5,305.0 L60.5,335.6 L44.5,342.0 Z" fill="url(#cg5_3)"/>
<linearGradient id="cg5_4" gradientUnits="userSpaceOnUse" x1="67.5" y1="302.4" x2="76.0" y2="325.7"><stop offset="0" stop-color="#d9d9d9"/><stop offset="0.3" stop-color="#d2d2d2"/><stop offset="1" stop-color="#b5b5b5"/></linearGradient>
<path d="M59.5,305.3 L75.5,299.5 L75.5,329.5 L59.5,336.0 Z" fill="url(#cg5_4)"/>
<linearGradient id="cg5_5" gradientUnits="userSpaceOnUse" x1="82.5" y1="297.0" x2="90.8" y2="319.7"><stop offset="0" stop-color="#d9d9d9"/><stop offset="0.3" stop-color="#d2d2d2"/><stop offset="1" stop-color="#b5b5b5"/></linearGradient>
<path d="M74.5,299.9 L90.5,294.1 L90.5,323.4 L74.5,329.9 Z" fill="url(#cg5_5)"/>
<linearGradient id="cg5_6" gradientUnits="userSpaceOnUse" x1="97.5" y1="291.5" x2="105.6" y2="313.7"><stop offset="0" stop-color="#d9d9d9"/><stop offset="0.3" stop-color="#d2d2d2"/><stop offset="1" stop-color="#b5b5b5"/></linearGradient>
<path d="M89.5,294.4 L105.5,288.6 L105.5,317.4 L89.5,323.8 Z" fill="url(#cg5_6)"/>
<linearGradient id="cg5_7" gradientUnits="userSpaceOnUse" x1="112.5" y1="286.1" x2="120.4" y2="307.7"><stop offset="0" stop-color="#d9d9d9"/><stop offset="0.3" stop-color="#d2d2d2"/><stop offset="1" stop-color="#b5b5b5"/></linearGradient>
<path d="M104.5,289.0 L120.5,283.1 L120.5,311.3 L104.5,317.8 Z" fill="url(#cg5_7)"/>
<linearGradient id="cg5_8" gradientUnits="userSpaceOnUse" x1="127.5" y1="280.6" x2="135.2" y2="301.7"><stop offset="0" stop-color="#d9d9d9"/><stop offset="0.3" stop-color="#d2d2d2"/><stop offset="1" stop-color="#b5b5b5"/></linearGradient>
<path d="M119.5,283.5 L135.5,277.7 L135.5,305.3 L119.5,311.7 Z" fill="url(#cg5_8)"/>
<linearGradient id="cg5_9" gradientUnits="userSpaceOnUse" x1="142.5" y1="275.1" x2="150.0" y2="295.7"><stop offset="0" stop-color="#d9d9d9"/><stop offset="0.3" stop-color="#d2d2d2"/><stop offset="1" stop-color="#b5b5b5"/></linearGradient>
<path d="M134.5,278.0 L150.5,272.2 L150.5,299.2 L134.5,305.7 Z" fill="url(#cg5_9)"/>
<linearGradient id="cg5_10" gradientUnits="userSpaceOnUse" x1="157.5" y1="269.7" x2="164.8" y2="289.7"><stop offset="0" stop-color="#d9d9d9"/><stop offset="0.3" stop-color="#d2d2d2"/><stop offset="1" stop-color="#b5b5b5"/></linearGradient>
<path d="M149.5,272.6 L165.5,266.8 L165.5,293.1 L149.5,299.6 Z" fill="url(#cg5_10)"/>
<linearGradient id="cg5_11" gradientUnits="userSpaceOnUse" x1="172.5" y1="264.2" x2="179.6" y2="283.7"><stop offset="0" stop-color="#d9d9d9"/><stop offset="0.3" stop-color="#d2d2d2"/><stop offset="1" stop-color="#b5b5b5"/></linearGradient>
<path d="M164.5,267.1 L180.5,261.3 L180.5,287.1 L164.5,293.5 Z" fill="url(#cg5_11)"/>
<linearGradient id="cg5_12" gradientUnits="userSpaceOnUse" x1="187.5" y1="258.8" x2="194.4" y2="277.7"><stop offset="0" stop-color="#d9d9d9"/><stop offset="0.3" stop-color="#d2d2d2"/><stop offset="1" stop-color="#b5b5b5"/></linearGradient>
<path d="M179.5,261.7 L195.5,255.8 L195.5,281.0 L179.5,287.5 Z" fill="url(#cg5_12)"/>
<linearGradient id="cg5_13" gradientUnits="userSpaceOnUse" x1="202.5" y1="253.3" x2="209.2" y2="271.7"><stop offset="0" stop-color="#d9d9d9"/><stop offset="0.3" stop-color="#d2d2d2"/><stop offset="1" stop-color="#b5b5b5"/></linearGradient>
<path d="M194.5,256.2 L210.5,250.4 L210.5,275.0 L194.5,281.4 Z" fill="url(#cg5_13)"/>
<linearGradient id="cg5_14" gradientUnits="userSpaceOnUse" x1="217.5" y1="247.8" x2="224.0" y2="265.8"><stop offset="0" stop-color="#d9d9d9"/><stop offset="0.3" stop-color="#d2d2d2"/><stop offset="1" stop-color="#b5b5b5"/></linearGradient>
<path d="M209.5,250.7 L225.5,244.9 L225.5,268.9 L209.5,275.4 Z" fill="url(#cg5_14)"/>
<linearGradient id="cg5_15" gradientUnits="userSpaceOnUse" x1="232.5" y1="242.4" x2="238.8" y2="259.8"><stop offset="0" stop-color="#d9d9d9"/><stop offset="0.3" stop-color="#d2d2d2"/><stop offset="1" stop-color="#b5b5b5"/></linearGradient>
<path d="M224.5,245.3 L240.5,239.5 L240.5,262.8 L224.5,269.3 Z" fill="url(#cg5_15)"/>
<linearGradient id="cg5_16" gradientUnits="userSpaceOnUse" x1="247.5" y1="236.9" x2="253.6" y2="253.8"><stop offset="0" stop-color="#d9d9d9"/><stop offset="0.3" stop-color="#d2d2d2"/><stop offset="1" stop-color="#b5b5b5"/></linearGradient>
<path d="M239.5,239.8 L255.5,234.0 L255.5,256.8 L239.5,263.2 Z" fill="url(#cg5_16)"/>
<linearGradient id="cg5_17" gradientUnits="userSpaceOnUse" x1="262.5" y1="231.4" x2="268.4" y2="247.8"><stop offset="0" stop-color="#d9d9d9"/><stop offset="0.3" stop-color="#d2d2d2"/><stop offset="1" stop-color="#b5b5b5"/></linearGradient>
<path d="M254.5,234.4 L270.5,228.5 L270.5,250.7 L254.5,257.2 Z" fill="url(#cg5_17)"/>
<linearGradient id="cg5_18" gradientUnits="userSpaceOnUse" x1="277.5" y1="226.0" x2="283.3" y2="241.8"><stop offset="0" stop-color="#d9d9d9"/><stop offset="0.3" stop-color="#d2d2d2"/><stop offset="1" stop-color="#b5b5b5"/></linearGradient>
<path d="M269.5,228.9 L285.5,223.1 L285.5,244.7 L269.5,251.1 Z" fill="url(#cg5_18)"/>
<linearGradient id="cg5_19" gradientUnits="userSpaceOnUse" x1="292.5" y1="220.5" x2="298.1" y2="235.8"><stop offset="0" stop-color="#d9d9d9"/><stop offset="0.3" stop-color="#d2d2d2"/><stop offset="1" stop-color="#b5b5b5"/></linearGradient>
<path d="M284.5,223.4 L300.5,217.6 L300.5,238.6 L284.5,245.1 Z" fill="url(#cg5_19)"/>
<linearGradient id="cg5_20" gradientUnits="userSpaceOnUse" x1="307.5" y1="215.1" x2="312.9" y2="229.8"><stop offset="0" stop-color="#d9d9d9"/><stop offset="0.3" stop-color="#d2d2d2"/><stop offset="1" stop-color="#b5b5b5"/></linearGradient>
<path d="M299.5,218.0 L315.5,212.2 L315.5,232.5 L299.5,239.0 Z" fill="url(#cg5_20)"/>
<linearGradient id="cg5_21" gradientUnits="userSpaceOnUse" x1="322.5" y1="209.6" x2="327.7" y2="223.8"><stop offset="0" stop-color="#d9d9d9"/><stop offset="0.3" stop-color="#d2d2d2"/><stop offset="1" stop-color="#b5b5b5"/></linearGradient>
<path d="M314.5,212.5 L330.5,206.7 L330.5,226.5 L314.5,232.9 Z" fill="url(#cg5_21)"/>
<linearGradient id="cg5_22" gradientUnits="userSpaceOnUse" x1="337.5" y1="204.2" x2="342.5" y2="217.8"><stop offset="0" stop-color="#d9d9d9"/><stop offset="0.3" stop-color="#d2d2d2"/><stop offset="1" stop-color="#b5b5b5"/></linearGradient>
<path d="M329.5,207.1 L345.5,201.2 L345.5,220.4 L329.5,226.9 Z" fill="url(#cg5_22)"/>
<linearGradient id="cg5_23" gradientUnits="userSpaceOnUse" x1="352.5" y1="198.7" x2="357.3" y2="211.8"><stop offset="0" stop-color="#d9d9d9"/><stop offset="0.3" stop-color="#d2d2d2"/><stop offset="1" stop-color="#b5b5b5"/></linearGradient>
<path d="M344.5,201.6 L360.5,195.8 L360.5,214.4 L344.5,220.8 Z" fill="url(#cg5_23)"/>
<linearGradient id="cg6_0" gradientUnits="userSpaceOnUse" x1="7.5" y1="353.0" x2="21.9" y2="388.7"><stop offset="0" stop-color="#d9d9d9"/><stop offset="0.3" stop-color="#d2d2d2"/><stop offset="1" stop-color="#b5b5b5"/></linearGradient>
<path d="M-0.5,356.2 L15.5,349.7 L15.5,394.9 L-0.5,402.2 Z" fill="url(#cg6_0)"/>
<linearGradient id="cg6_1" gradientUnits="userSpaceOnUse" x1="22.5" y1="346.9" x2="36.7" y2="382.0"><stop offset="0" stop-color="#d9d9d9"/><stop offset="0.3" stop-color="#d2d2d2"/><stop offset="1" stop-color="#b5b5b5"/></linearGradient>
<path d="M14.5,350.1 L30.5,343.7 L30.5,388.0 L14.5,395.3 Z" fill="url(#cg6_1)"/>
<linearGradient id="cg6_2" gradientUnits="userSpaceOnUse" x1="37.5" y1="340.9" x2="51.4" y2="375.2"><stop offset="0" stop-color="#d9d9d9"/><stop offset="0.3" stop-color="#d2d2d2"/><stop offset="1" stop-color="#b5b5b5"/></linearGradient>
<path d="M29.5,344.1 L45.5,337.6 L45.5,381.1 L29.5,388.5 Z" fill="url(#cg6_2)"/>
<linearGradient id="cg6_3" gradientUnits="userSpaceOnUse" x1="52.5" y1="334.8" x2="66.1" y2="368.4"><stop offset="0" stop-color="#d9d9d9"/><stop offset="0.3" stop-color="#d2d2d2"/><stop offset="1" stop-color="#b5b5b5"/></linearGradient>
<path d="M44.5,338.0 L60.5,331.6 L60.5,374.2 L44.5,381.6 Z" fill="url(#cg6_3)"/>
<linearGradient id="cg6_4" gradientUnits="userSpaceOnUse" x1="67.5" y1="328.7" x2="80.8" y2="361.6"><stop offset="0" stop-color="#d9d9d9"/><stop offset="0.3" stop-color="#d2d2d2"/><stop offset="1" stop-color="#b5b5b5"/></linearGradient>
<path d="M59.5,332.0 L75.5,325.5 L75.5,367.3 L59.5,374.7 Z" fill="url(#cg6_4)"/>
<linearGradient id="cg6_5" gradientUnits="userSpaceOnUse" x1="82.5" y1="322.7" x2="95.5" y2="354.9"><stop offset="0" stop-color="#d9d9d9"/><stop offset="0.3" stop-color="#d2d2d2"/><stop offset="1" stop-color="#b5b5b5"/></linearGradient>
<path d="M74.5,325.9 L90.5,319.4 L90.5,360.5 L74.5,367.8 Z" fill="url(#cg6_5)"/>
<linearGradient id="cg6_6" gradientUnits="userSpaceOnUse" x1="97.5" y1="316.6" x2="110.2" y2="348.1"><stop offset="0" stop-color="#d9d9d9"/><stop offset="0.3" stop-color="#d2d2d2"/><stop offset="1" stop-color="#b5b5b5"/></linearGradient>
<path d="M89.5,319.8 L105.5,313.4 L105.5,353.6 L89.5,360.9 Z" fill="url(#cg6_6)"/>
<linearGradient id="cg6_7" gradientUnits="userSpaceOnUse" x1="112.5" y1="310.6" x2="124.9" y2="341.3"><stop offset="0" stop-color="#d9d9d9"/><stop offset="0.3" stop-color="#d2d2d2"/><stop offset="1" stop-color="#b5b5b5"/></linearGradient>
<path d="M104.5,313.8 L120.5,307.3 L120.5,346.7 L104.5,354.0 Z" fill="url(#cg6_7)"/>
<linearGradient id="cg6_8" gradientUnits="userSpaceOnUse" x1="127.5" y1="304.5" x2="139.7" y2="334.6"><stop offset="0" stop-color="#d9d9d9"/><stop offset="0.3" stop-color="#d2d2d2"/><stop offset="1" stop-color="#b5b5b5"/></linearGradient>
<path d="M119.5,307.7 L135.5,301.3 L135.5,339.8 L119.5,347.1 Z" fill="url(#cg6_8)"/>
<linearGradient id="cg6_9" gradientUnits="userSpaceOnUse" x1="142.5" y1="298.4" x2="154.4" y2="327.8"><stop offset="0" stop-color="#d9d9d9"/><stop offset="0.3" stop-color="#d2d2d2"/><stop offset="1" stop-color="#b5b5b5"/></linearGradient>
<path d="M134.5,301.7 L150.5,295.2 L150.5,332.9 L134.5,340.3 Z" fill="url(#cg6_9)"/>
<linearGradient id="cg6_10" gradientUnits="userSpaceOnUse" x1="157.5" y1="292.4" x2="169.1" y2="321.0"><stop offset="0" stop-color="#d9d9d9"/><stop offset="0.3" stop-color="#d2d2d2"/><stop offset="1" stop-color="#b5b5b5"/></linearGradient>
<path d="M149.5,295.6 L165.5,289.1 L165.5,326.0 L149.5,333.4 Z" fill="url(#cg6_10)"/>
<linearGradient id="cg6_11" gradientUnits="userSpaceOnUse" x1="172.5" y1="286.3" x2="183.8" y2="314.3"><stop offset="0" stop-color="#d9d9d9"/><stop offset="0.3" stop-color="#d2d2d2"/><stop offset="1" stop-color="#b5b5b5"/></linearGradient>
<path d="M164.5,289.5 L180.5,283.1 L180.5,319.2 L164.5,326.5 Z" fill="url(#cg6_11)"/>
<linearGradient id="cg6_12" gradientUnits="userSpaceOnUse" x1="187.5" y1="280.2" x2="198.5" y2="307.5"><stop offset="0" stop-color="#d9d9d9"/><stop offset="0.3" stop-color="#d2d2d2"/><stop offset="1" stop-color="#b5b5b5"/></linearGradient>
<path d="M179.5,283.5 L195.5,277.0 L195.5,312.3 L179.5,319.6 Z" fill="url(#cg6_12)"/>
<linearGradient id="cg6_13" gradientUnits="userSpaceOnUse" x1="202.5" y1="274.2" x2="213.2" y2="300.7"><stop offset="0" stop-color="#d9d9d9"/><stop offset="0.3" stop-color="#d2d2d2"/><stop offset="1" stop-color="#b5b5b5"/></linearGradient>
<path d="M194.5,277.4 L210.5,271.0 L210.5,305.4 L194.5,312.7 Z" fill="url(#cg6_13)"/>
<linearGradient id="cg6_14" gradientUnits="userSpaceOnUse" x1="217.5" y1="268.1" x2="227.9" y2="294.0"><stop offset="0" stop-color="#d9d9d9"/><stop offset="0.3" stop-color="#d2d2d2"/><stop offset="1" stop-color="#b5b5b5"/></linearGradient>
<path d="M209.5,271.4 L225.5,264.9 L225.5,298.5 L209.5,305.8 Z" fill="url(#cg6_14)"/>
<linearGradient id="cg6_15" gradientUnits="userSpaceOnUse" x1="232.5" y1="262.1" x2="242.6" y2="287.2"><stop offset="0" stop-color="#d9d9d9"/><stop offset="0.3" stop-color="#d2d2d2"/><stop offset="1" stop-color="#b5b5b5"/></linearGradient>
<path d="M224.5,265.3 L240.5,258.8 L240.5,291.6 L224.5,299.0 Z" fill="url(#cg6_15)"/>
<linearGradient id="cg6_16" gradientUnits="userSpaceOnUse" x1="247.5" y1="256.0" x2="257.4" y2="280.4"><stop offset="0" stop-color="#d9d9d9"/><stop offset="0.3" stop-color="#d2d2d2"/><stop offset="1" stop-color="#b5b5b5"/></linearGradient>
<path d="M239.5,259.2 L255.5,252.8 L255.5,284.7 L239.5,292.1 Z" fill="url(#cg6_16)"/>
<linearGradient id="cg6_17" gradientUnits="userSpaceOnUse" x1="262.5" y1="249.9" x2="272.1" y2="273.6"><stop offset="0" stop-color="#d9d9d9"/><stop offset="0.3" stop-color="#d2d2d2"/><stop offset="1" stop-color="#b5b5b5"/></linearGradient>
<path d="M254.5,253.2 L270.5,246.7 L270.5,277.8 L254.5,285.2 Z" fill="url(#cg6_17)"/>
<linearGradient id="cg6_18" gradientUnits="userSpaceOnUse" x1="277.5" y1="243.9" x2="286.8" y2="266.9"><stop offset="0" stop-color="#d9d9d9"/><stop offset="0.3" stop-color="#d2d2d2"/><stop offset="1" stop-color="#b5b5b5"/></linearGradient>
<path d="M269.5,247.1 L285.5,240.7 L285.5,271.0 L269.5,278.3 Z" fill="url(#cg6_18)"/>
<linearGradient id="cg6_19" gradientUnits="userSpaceOnUse" x1="292.5" y1="237.8" x2="301.5" y2="260.1"><stop offset="0" stop-color="#d9d9d9"/><stop offset="0.3" stop-color="#d2d2d2"/><stop offset="1" stop-color="#b5b5b5"/></linearGradient>
<path d="M284.5,241.1 L300.5,234.6 L300.5,264.1 L284.5,271.4 Z" fill="url(#cg6_19)"/>
<linearGradient id="cg6_20" gradientUnits="userSpaceOnUse" x1="307.5" y1="231.8" x2="316.2" y2="253.3"><stop offset="0" stop-color="#d9d9d9"/><stop offset="0.3" stop-color="#d2d2d2"/><stop offset="1" stop-color="#b5b5b5"/></linearGradient>
<path d="M299.5,235.0 L315.5,228.5 L315.5,257.2 L299.5,264.5 Z" fill="url(#cg6_20)"/>
<linearGradient id="cg6_21" gradientUnits="userSpaceOnUse" x1="322.5" y1="225.7" x2="330.9" y2="246.6"><stop offset="0" stop-color="#d9d9d9"/><stop offset="0.3" stop-color="#d2d2d2"/><stop offset="1" stop-color="#b5b5b5"/></linearGradient>
<path d="M314.5,228.9 L330.5,222.5 L330.5,250.3 L314.5,257.6 Z" fill="url(#cg6_21)"/>
<linearGradient id="cg6_22" gradientUnits="userSpaceOnUse" x1="337.5" y1="219.6" x2="345.6" y2="239.8"><stop offset="0" stop-color="#d9d9d9"/><stop offset="0.3" stop-color="#d2d2d2"/><stop offset="1" stop-color="#b5b5b5"/></linearGradient>
<path d="M329.5,222.9 L345.5,216.4 L345.5,243.4 L329.5,250.8 Z" fill="url(#cg6_22)"/>
<linearGradient id="cg6_23" gradientUnits="userSpaceOnUse" x1="352.5" y1="213.6" x2="360.4" y2="233.0"><stop offset="0" stop-color="#d9d9d9"/><stop offset="0.3" stop-color="#d2d2d2"/><stop offset="1" stop-color="#b5b5b5"/></linearGradient>
<path d="M344.5,216.8 L360.5,210.4 L360.5,236.5 L344.5,243.9 Z" fill="url(#cg6_23)"/>
<linearGradient id="cg7_0" gradientUnits="userSpaceOnUse" x1="7.5" y1="394.6" x2="24.9" y2="432.4"><stop offset="0" stop-color="#d9d9d9"/><stop offset="0.3" stop-color="#d2d2d2"/><stop offset="1" stop-color="#b5b5b5"/></linearGradient>
<path d="M-0.5,398.2 L15.5,390.9 L15.5,440.3 L-0.5,448.6 Z" fill="url(#cg7_0)"/>
<linearGradient id="cg7_1" gradientUnits="userSpaceOnUse" x1="22.5" y1="387.7" x2="39.5" y2="424.8"><stop offset="0" stop-color="#d9d9d9"/><stop offset="0.3" stop-color="#d2d2d2"/><stop offset="1" stop-color="#b5b5b5"/></linearGradient>
<path d="M14.5,391.3 L30.5,384.0 L30.5,432.5 L14.5,440.8 Z" fill="url(#cg7_1)"/>
<linearGradient id="cg7_2" gradientUnits="userSpaceOnUse" x1="37.5" y1="380.8" x2="54.2" y2="417.2"><stop offset="0" stop-color="#d9d9d9"/><stop offset="0.3" stop-color="#d2d2d2"/><stop offset="1" stop-color="#b5b5b5"/></linearGradient>
<path d="M29.5,384.5 L45.5,377.1 L45.5,424.7 L29.5,433.0 Z" fill="url(#cg7_2)"/>
<linearGradient id="cg7_3" gradientUnits="userSpaceOnUse" x1="52.5" y1="373.9" x2="68.9" y2="409.5"><stop offset="0" stop-color="#d9d9d9"/><stop offset="0.3" stop-color="#d2d2d2"/><stop offset="1" stop-color="#b5b5b5"/></linearGradient>
<path d="M44.5,377.6 L60.5,370.2 L60.5,416.9 L44.5,425.2 Z" fill="url(#cg7_3)"/>
<linearGradient id="cg7_4" gradientUnits="userSpaceOnUse" x1="67.5" y1="367.0" x2="83.5" y2="401.9"><stop offset="0" stop-color="#d9d9d9"/><stop offset="0.3" stop-color="#d2d2d2"/><stop offset="1" stop-color="#b5b5b5"/></linearGradient>
<path d="M59.5,370.7 L75.5,363.3 L75.5,409.1 L59.5,417.4 Z" fill="url(#cg7_4)"/>
<linearGradient id="cg7_5" gradientUnits="userSpaceOnUse" x1="82.5" y1="360.1" x2="98.2" y2="394.3"><stop offset="0" stop-color="#d9d9d9"/><stop offset="0.3" stop-color="#d2d2d2"/><stop offset="1" stop-color="#b5b5b5"/></linearGradient>
<path d="M74.5,363.8 L90.5,356.5 L90.5,401.3 L74.5,409.6 Z" fill="url(#cg7_5)"/>
<linearGradient id="cg7_6" gradientUnits="userSpaceOnUse" x1="97.5" y1="353.2" x2="112.8" y2="386.7"><stop offset="0" stop-color="#d9d9d9"/><stop offset="0.3" stop-color="#d2d2d2"/><stop offset="1" stop-color="#b5b5b5"/></linearGradient>
<path d="M89.5,356.9 L105.5,349.6 L105.5,393.5 L89.5,401.8 Z" fill="url(#cg7_6)"/>
<linearGradient id="cg7_7" gradientUnits="userSpaceOnUse" x1="112.5" y1="346.4" x2="127.5" y2="379.0"><stop offset="0" stop-color="#d9d9d9"/><stop offset="0.3" stop-color="#d2d2d2"/><stop offset="1" stop-color="#b5b5b5"/></linearGradient>
<path d="M104.5,350.0 L120.5,342.7 L120.5,385.8 L104.5,394.1 Z" fill="url(#cg7_7)"/>
<linearGradient id="cg7_8" gradientUnits="userSpaceOnUse" x1="127.5" y1="339.5" x2="142.2" y2="371.4"><stop offset="0" stop-color="#d9d9d9"/><stop offset="0.3" stop-color="#d2d2d2"/><stop offset="1" stop-color="#b5b5b5"/></linearGradient>
<path d="M119.5,343.1 L135.5,335.8 L135.5,378.0 L119.5,386.3 Z" fill="url(#cg7_8)"/>
<linearGradient id="cg7_9" gradientUnits="userSpaceOnUse" x1="142.5" y1="332.6" x2="156.8" y2="363.8"><stop offset="0" stop-color="#d9d9d9"/><stop offset="0.3" stop-color="#d2d2d2"/><stop offset="1" stop-color="#b5b5b5"/></linearGradient>
<path d="M134.5,336.3 L150.5,328.9 L150.5,370.2 L134.5,378.5 Z" fill="url(#cg7_9)"/>
<linearGradient id="cg7_10" gradientUnits="userSpaceOnUse" x1="157.5" y1="325.7" x2="171.5" y2="356.1"><stop offset="0" stop-color="#d9d9d9"/><stop offset="0.3" stop-color="#d2d2d2"/><stop offset="1" stop-color="#b5b5b5"/></linearGradient>
<path d="M149.5,329.4 L165.5,322.0 L165.5,362.4 L149.5,370.7 Z" fill="url(#cg7_10)"/>
<linearGradient id="cg7_11" gradientUnits="userSpaceOnUse" x1="172.5" y1="318.8" x2="186.1" y2="348.5"><stop offset="0" stop-color="#d9d9d9"/><stop offset="0.3" stop-color="#d2d2d2"/><stop offset="1" stop-color="#b5b5b5"/></linearGradient>
<path d="M164.5,322.5 L180.5,315.2 L180.5,354.6 L164.5,362.9 Z" fill="url(#cg7_11)"/>
<linearGradient id="cg7_12" gradientUnits="userSpaceOnUse" x1="187.5" y1="311.9" x2="200.8" y2="340.9"><stop offset="0" stop-color="#d9d9d9"/><stop offset="0.3" stop-color="#d2d2d2"/><stop offset="1" stop-color="#b5b5b5"/></linearGradient>
<path d="M179.5,315.6 L195.5,308.3 L195.5,346.8 L179.5,355.1 Z" fill="url(#cg7_12)"/>
<linearGradient id="cg7_13" gradientUnits="userSpaceOnUse" x1="202.5" y1="305.1" x2="215.4" y2="333.3"><stop offset="0" stop-color="#d9d9d9"/><stop offset="0.3" stop-color="#d2d2d2"/><stop offset="1" stop-color="#b5b5b5"/></linearGradient>
<path d="M194.5,308.7 L210.5,301.4 L210.5,339.1 L194.5,347.4 Z" fill="url(#cg7_13)"/>
<linearGradient id="cg7_14" gradientUnits="userSpaceOnUse" x1="217.5" y1="298.2" x2="230.1" y2="325.6"><stop offset="0" stop-color="#d9d9d9"/><stop offset="0.3" stop-color="#d2d2d2"/><stop offset="1" stop-color="#b5b5b5"/></linearGradient>
<path d="M209.5,301.8 L225.5,294.5 L225.5,331.3 L209.5,339.6 Z" fill="url(#cg7_14)"/>
<linearGradient id="cg7_15" gradientUnits="userSpaceOnUse" x1="232.5" y1="291.3" x2="244.8" y2="318.0"><stop offset="0" stop-color="#d9d9d9"/><stop offset="0.3" stop-color="#d2d2d2"/><stop offset="1" stop-color="#b5b5b5"/></linearGradient>
<path d="M224.5,295.0 L240.5,287.6 L240.5,323.5 L224.5,331.8 Z" fill="url(#cg7_15)"/>
<linearGradient id="cg7_16" gradientUnits="userSpaceOnUse" x1="247.5" y1="284.4" x2="259.4" y2="310.4"><stop offset="0" stop-color="#d9d9d9"/><stop offset="0.3" stop-color="#d2d2d2"/><stop offset="1" stop-color="#b5b5b5"/></linearGradient>
<path d="M239.5,288.1 L255.5,280.7 L255.5,315.7 L239.5,324.0 Z" fill="url(#cg7_16)"/>
<linearGradient id="cg7_17" gradientUnits="userSpaceOnUse" x1="262.5" y1="277.5" x2="274.1" y2="302.7"><stop offset="0" stop-color="#d9d9d9"/><stop offset="0.3" stop-color="#d2d2d2"/><stop offset="1" stop-color="#b5b5b5"/></linearGradient>
<path d="M254.5,281.2 L270.5,273.8 L270.5,307.9 L254.5,316.2 Z" fill="url(#cg7_17)"/>
<linearGradient id="cg7_18" gradientUnits="userSpaceOnUse" x1="277.5" y1="270.6" x2="288.7" y2="295.1"><stop offset="0" stop-color="#d9d9d9"/><stop offset="0.3" stop-color="#d2d2d2"/><stop offset="1" stop-color="#b5b5b5"/></linearGradient>
<path d="M269.5,274.3 L285.5,267.0 L285.5,300.1 L269.5,308.4 Z" fill="url(#cg7_18)"/>
<linearGradient id="cg7_19" gradientUnits="userSpaceOnUse" x1="292.5" y1="263.7" x2="303.4" y2="287.5"><stop offset="0" stop-color="#d9d9d9"/><stop offset="0.3" stop-color="#d2d2d2"/><stop offset="1" stop-color="#b5b5b5"/></linearGradient>
<path d="M284.5,267.4 L300.5,260.1 L300.5,292.3 L284.5,300.6 Z" fill="url(#cg7_19)"/>
<linearGradient id="cg7_20" gradientUnits="userSpaceOnUse" x1="307.5" y1="256.9" x2="318.1" y2="279.9"><stop offset="0" stop-color="#d9d9d9"/><stop offset="0.3" stop-color="#d2d2d2"/><stop offset="1" stop-color="#b5b5b5"/></linearGradient>
<path d="M299.5,260.5 L315.5,253.2 L315.5,284.6 L299.5,292.9 Z" fill="url(#cg7_20)"/>
<linearGradient id="cg7_21" gradientUnits="userSpaceOnUse" x1="322.5" y1="250.0" x2="332.7" y2="272.2"><stop offset="0" stop-color="#d9d9d9"/><stop offset="0.3" stop-color="#d2d2d2"/><stop offset="1" stop-color="#b5b5b5"/></linearGradient>
<path d="M314.5,253.6 L330.5,246.3 L330.5,276.8 L314.5,285.1 Z" fill="url(#cg7_21)"/>
<linearGradient id="cg7_22" gradientUnits="userSpaceOnUse" x1="337.5" y1="243.1" x2="347.4" y2="264.6"><stop offset="0" stop-color="#d9d9d9"/><stop offset="0.3" stop-color="#d2d2d2"/><stop offset="1" stop-color="#b5b5b5"/></linearGradient>
<path d="M329.5,246.8 L345.5,239.4 L345.5,269.0 L329.5,277.3 Z" fill="url(#cg7_22)"/>
<linearGradient id="cg7_23" gradientUnits="userSpaceOnUse" x1="352.5" y1="236.2" x2="362.0" y2="257.0"><stop offset="0" stop-color="#d9d9d9"/><stop offset="0.3" stop-color="#d2d2d2"/><stop offset="1" stop-color="#b5b5b5"/></linearGradient>
<path d="M344.5,239.9 L360.5,232.5 L360.5,261.2 L344.5,269.5 Z" fill="url(#cg7_23)"/>
<linearGradient id="cg8_0" gradientUnits="userSpaceOnUse" x1="7.5" y1="440.4" x2="32.5" y2="488.5"><stop offset="0" stop-color="#d9d9d9"/><stop offset="0.3" stop-color="#d2d2d2"/><stop offset="1" stop-color="#b5b5b5"/></linearGradient>
<path d="M-0.5,444.6 L15.5,436.3 L15.5,500.7 L-0.5,510.3 Z" fill="url(#cg8_0)"/>
<linearGradient id="cg8_1" gradientUnits="userSpaceOnUse" x1="22.5" y1="432.6" x2="47.0" y2="479.8"><stop offset="0" stop-color="#d9d9d9"/><stop offset="0.3" stop-color="#d2d2d2"/><stop offset="1" stop-color="#b5b5b5"/></linearGradient>
<path d="M14.5,436.8 L30.5,428.5 L30.5,491.6 L14.5,501.3 Z" fill="url(#cg8_1)"/>
<linearGradient id="cg8_2" gradientUnits="userSpaceOnUse" x1="37.5" y1="424.8" x2="61.5" y2="471.0"><stop offset="0" stop-color="#d9d9d9"/><stop offset="0.3" stop-color="#d2d2d2"/><stop offset="1" stop-color="#b5b5b5"/></linearGradient>
<path d="M29.5,429.0 L45.5,420.7 L45.5,482.6 L29.5,492.2 Z" fill="url(#cg8_2)"/>
<linearGradient id="cg8_3" gradientUnits="userSpaceOnUse" x1="52.5" y1="417.1" x2="75.9" y2="462.2"><stop offset="0" stop-color="#d9d9d9"/><stop offset="0.3" stop-color="#d2d2d2"/><stop offset="1" stop-color="#b5b5b5"/></linearGradient>
<path d="M44.5,421.2 L60.5,412.9 L60.5,473.6 L44.5,483.2 Z" fill="url(#cg8_3)"/>
<linearGradient id="cg8_4" gradientUnits="userSpaceOnUse" x1="67.5" y1="409.3" x2="90.4" y2="453.5"><stop offset="0" stop-color="#d9d9d9"/><stop offset="0.3" stop-color="#d2d2d2"/><stop offset="1" stop-color="#b5b5b5"/></linearGradient>
<path d="M59.5,413.4 L75.5,405.1 L75.5,464.5 L59.5,474.2 Z" fill="url(#cg8_4)"/>
<linearGradient id="cg8_5" gradientUnits="userSpaceOnUse" x1="82.5" y1="401.5" x2="104.9" y2="444.7"><stop offset="0" stop-color="#d9d9d9"/><stop offset="0.3" stop-color="#d2d2d2"/><stop offset="1" stop-color="#b5b5b5"/></linearGradient>
<path d="M74.5,405.6 L90.5,397.3 L90.5,455.5 L74.5,465.2 Z" fill="url(#cg8_5)"/>
<linearGradient id="cg8_6" gradientUnits="userSpaceOnUse" x1="97.5" y1="393.7" x2="119.4" y2="435.9"><stop offset="0" stop-color="#d9d9d9"/><stop offset="0.3" stop-color="#d2d2d2"/><stop offset="1" stop-color="#b5b5b5"/></linearGradient>
<path d="M89.5,397.8 L105.5,389.5 L105.5,446.5 L89.5,456.1 Z" fill="url(#cg8_6)"/>
<linearGradient id="cg8_7" gradientUnits="userSpaceOnUse" x1="112.5" y1="385.9" x2="133.9" y2="427.2"><stop offset="0" stop-color="#d9d9d9"/><stop offset="0.3" stop-color="#d2d2d2"/><stop offset="1" stop-color="#b5b5b5"/></linearGradient>
<path d="M104.5,390.1 L120.5,381.8 L120.5,437.5 L104.5,447.1 Z" fill="url(#cg8_7)"/>
<linearGradient id="cg8_8" gradientUnits="userSpaceOnUse" x1="127.5" y1="378.1" x2="148.4" y2="418.4"><stop offset="0" stop-color="#d9d9d9"/><stop offset="0.3" stop-color="#d2d2d2"/><stop offset="1" stop-color="#b5b5b5"/></linearGradient>
<path d="M119.5,382.3 L135.5,374.0 L135.5,428.4 L119.5,438.1 Z" fill="url(#cg8_8)"/>
<linearGradient id="cg8_9" gradientUnits="userSpaceOnUse" x1="142.5" y1="370.3" x2="162.9" y2="409.6"><stop offset="0" stop-color="#d9d9d9"/><stop offset="0.3" stop-color="#d2d2d2"/><stop offset="1" stop-color="#b5b5b5"/></linearGradient>
<path d="M134.5,374.5 L150.5,366.2 L150.5,419.4 L134.5,429.0 Z" fill="url(#cg8_9)"/>
<linearGradient id="cg8_10" gradientUnits="userSpaceOnUse" x1="157.5" y1="362.6" x2="177.4" y2="400.9"><stop offset="0" stop-color="#d9d9d9"/><stop offset="0.3" stop-color="#d2d2d2"/><stop offset="1" stop-color="#b5b5b5"/></linearGradient>
<path d="M149.5,366.7 L165.5,358.4 L165.5,410.4 L149.5,420.0 Z" fill="url(#cg8_10)"/>
<linearGradient id="cg8_11" gradientUnits="userSpaceOnUse" x1="172.5" y1="354.8" x2="191.9" y2="392.1"><stop offset="0" stop-color="#d9d9d9"/><stop offset="0.3" stop-color="#d2d2d2"/><stop offset="1" stop-color="#b5b5b5"/></linearGradient>
<path d="M164.5,358.9 L180.5,350.6 L180.5,401.3 L164.5,411.0 Z" fill="url(#cg8_11)"/>
<linearGradient id="cg8_12" gradientUnits="userSpaceOnUse" x1="187.5" y1="347.0" x2="206.4" y2="383.3"><stop offset="0" stop-color="#d9d9d9"/><stop offset="0.3" stop-color="#d2d2d2"/><stop offset="1" stop-color="#b5b5b5"/></linearGradient>
<path d="M179.5,351.1 L195.5,342.8 L195.5,392.3 L179.5,401.9 Z" fill="url(#cg8_12)"/>
<linearGradient id="cg8_13" gradientUnits="userSpaceOnUse" x1="202.5" y1="339.2" x2="220.9" y2="374.6"><stop offset="0" stop-color="#d9d9d9"/><stop offset="0.3" stop-color="#d2d2d2"/><stop offset="1" stop-color="#b5b5b5"/></linearGradient>
<path d="M194.5,343.4 L210.5,335.1 L210.5,383.3 L194.5,392.9 Z" fill="url(#cg8_13)"/>
<linearGradient id="cg8_14" gradientUnits="userSpaceOnUse" x1="217.5" y1="331.4" x2="235.3" y2="365.8"><stop offset="0" stop-color="#d9d9d9"/><stop offset="0.3" stop-color="#d2d2d2"/><stop offset="1" stop-color="#b5b5b5"/></linearGradient>
<path d="M209.5,335.6 L225.5,327.3 L225.5,374.2 L209.5,383.9 Z" fill="url(#cg8_14)"/>
<linearGradient id="cg8_15" gradientUnits="userSpaceOnUse" x1="232.5" y1="323.6" x2="249.8" y2="357.0"><stop offset="0" stop-color="#d9d9d9"/><stop offset="0.3" stop-color="#d2d2d2"/><stop offset="1" stop-color="#b5b5b5"/></linearGradient>
<path d="M224.5,327.8 L240.5,319.5 L240.5,365.2 L224.5,374.9 Z" fill="url(#cg8_15)"/>
<linearGradient id="cg8_16" gradientUnits="userSpaceOnUse" x1="247.5" y1="315.8" x2="264.3" y2="348.3"><stop offset="0" stop-color="#d9d9d9"/><stop offset="0.3" stop-color="#d2d2d2"/><stop offset="1" stop-color="#b5b5b5"/></linearGradient>
<path d="M239.5,320.0 L255.5,311.7 L255.5,356.2 L239.5,365.8 Z" fill="url(#cg8_16)"/>
<linearGradient id="cg8_17" gradientUnits="userSpaceOnUse" x1="262.5" y1="308.1" x2="278.8" y2="339.5"><stop offset="0" stop-color="#d9d9d9"/><stop offset="0.3" stop-color="#d2d2d2"/><stop offset="1" stop-color="#b5b5b5"/></linearGradient>
<path d="M254.5,312.2 L270.5,303.9 L270.5,347.2 L254.5,356.8 Z" fill="url(#cg8_17)"/>
<linearGradient id="cg8_18" gradientUnits="userSpaceOnUse" x1="277.5" y1="300.3" x2="293.3" y2="330.7"><stop offset="0" stop-color="#d9d9d9"/><stop offset="0.3" stop-color="#d2d2d2"/><stop offset="1" stop-color="#b5b5b5"/></linearGradient>
<path d="M269.5,304.4 L285.5,296.1 L285.5,338.1 L269.5,347.8 Z" fill="url(#cg8_18)"/>
<linearGradient id="cg8_19" gradientUnits="userSpaceOnUse" x1="292.5" y1="292.5" x2="307.8" y2="322.0"><stop offset="0" stop-color="#d9d9d9"/><stop offset="0.3" stop-color="#d2d2d2"/><stop offset="1" stop-color="#b5b5b5"/></linearGradient>
<path d="M284.5,296.6 L300.5,288.3 L300.5,329.1 L284.5,338.7 Z" fill="url(#cg8_19)"/>
<linearGradient id="cg8_20" gradientUnits="userSpaceOnUse" x1="307.5" y1="284.7" x2="322.3" y2="313.2"><stop offset="0" stop-color="#d9d9d9"/><stop offset="0.3" stop-color="#d2d2d2"/><stop offset="1" stop-color="#b5b5b5"/></linearGradient>
<path d="M299.5,288.9 L315.5,280.6 L315.5,320.1 L299.5,329.7 Z" fill="url(#cg8_20)"/>
<linearGradient id="cg8_21" gradientUnits="userSpaceOnUse" x1="322.5" y1="276.9" x2="336.8" y2="304.4"><stop offset="0" stop-color="#d9d9d9"/><stop offset="0.3" stop-color="#d2d2d2"/><stop offset="1" stop-color="#b5b5b5"/></linearGradient>
<path d="M314.5,281.1 L330.5,272.8 L330.5,311.0 L314.5,320.7 Z" fill="url(#cg8_21)"/>
<linearGradient id="cg8_22" gradientUnits="userSpaceOnUse" x1="337.5" y1="269.1" x2="351.3" y2="295.7"><stop offset="0" stop-color="#d9d9d9"/><stop offset="0.3" stop-color="#d2d2d2"/><stop offset="1" stop-color="#b5b5b5"/></linearGradient>
<path d="M329.5,273.3 L345.5,265.0 L345.5,302.0 L329.5,311.6 Z" fill="url(#cg8_22)"/>
<linearGradient id="cg8_23" gradientUnits="userSpaceOnUse" x1="352.5" y1="261.4" x2="365.8" y2="286.9"><stop offset="0" stop-color="#d9d9d9"/><stop offset="0.3" stop-color="#d2d2d2"/><stop offset="1" stop-color="#b5b5b5"/></linearGradient>
<path d="M344.5,265.5 L360.5,257.2 L360.5,293.0 L344.5,302.6 Z" fill="url(#cg8_23)"/>
<linearGradient id="cg9_0" gradientUnits="userSpaceOnUse" x1="7.5" y1="501.5" x2="44.3" y2="562.6"><stop offset="0" stop-color="#d9d9d9"/><stop offset="0.3" stop-color="#d2d2d2"/><stop offset="1" stop-color="#b5b5b5"/></linearGradient>
<path d="M-0.5,506.3 L15.5,496.7 L15.5,583.1 L-0.5,594.4 Z" fill="url(#cg9_0)"/>
<linearGradient id="cg9_1" gradientUnits="userSpaceOnUse" x1="22.5" y1="492.5" x2="58.6" y2="552.5"><stop offset="0" stop-color="#d9d9d9"/><stop offset="0.3" stop-color="#d2d2d2"/><stop offset="1" stop-color="#b5b5b5"/></linearGradient>
<path d="M14.5,497.3 L30.5,487.6 L30.5,572.6 L14.5,583.9 Z" fill="url(#cg9_1)"/>
<linearGradient id="cg9_2" gradientUnits="userSpaceOnUse" x1="37.5" y1="483.4" x2="73.0" y2="542.4"><stop offset="0" stop-color="#d9d9d9"/><stop offset="0.3" stop-color="#d2d2d2"/><stop offset="1" stop-color="#b5b5b5"/></linearGradient>
<path d="M29.5,488.2 L45.5,478.6 L45.5,562.1 L29.5,573.4 Z" fill="url(#cg9_2)"/>
<linearGradient id="cg9_3" gradientUnits="userSpaceOnUse" x1="52.5" y1="474.4" x2="87.3" y2="532.3"><stop offset="0" stop-color="#d9d9d9"/><stop offset="0.3" stop-color="#d2d2d2"/><stop offset="1" stop-color="#b5b5b5"/></linearGradient>
<path d="M44.5,479.2 L60.5,469.6 L60.5,551.6 L44.5,562.9 Z" fill="url(#cg9_3)"/>
<linearGradient id="cg9_4" gradientUnits="userSpaceOnUse" x1="67.5" y1="465.4" x2="101.7" y2="522.2"><stop offset="0" stop-color="#d9d9d9"/><stop offset="0.3" stop-color="#d2d2d2"/><stop offset="1" stop-color="#b5b5b5"/></linearGradient>
<path d="M59.5,470.2 L75.5,460.5 L75.5,541.1 L59.5,552.4 Z" fill="url(#cg9_4)"/>
<linearGradient id="cg9_5" gradientUnits="userSpaceOnUse" x1="82.5" y1="456.3" x2="116.0" y2="512.1"><stop offset="0" stop-color="#d9d9d9"/><stop offset="0.3" stop-color="#d2d2d2"/><stop offset="1" stop-color="#b5b5b5"/></linearGradient>
<path d="M74.5,461.2 L90.5,451.5 L90.5,530.6 L74.5,541.9 Z" fill="url(#cg9_5)"/>
<linearGradient id="cg9_6" gradientUnits="userSpaceOnUse" x1="97.5" y1="447.3" x2="130.4" y2="501.9"><stop offset="0" stop-color="#d9d9d9"/><stop offset="0.3" stop-color="#d2d2d2"/><stop offset="1" stop-color="#b5b5b5"/></linearGradient>
<path d="M89.5,452.1 L105.5,442.5 L105.5,520.1 L89.5,531.4 Z" fill="url(#cg9_6)"/>
<linearGradient id="cg9_7" gradientUnits="userSpaceOnUse" x1="112.5" y1="438.3" x2="144.7" y2="491.8"><stop offset="0" stop-color="#d9d9d9"/><stop offset="0.3" stop-color="#d2d2d2"/><stop offset="1" stop-color="#b5b5b5"/></linearGradient>
<path d="M104.5,443.1 L120.5,433.5 L120.5,509.6 L104.5,520.9 Z" fill="url(#cg9_7)"/>
<linearGradient id="cg9_8" gradientUnits="userSpaceOnUse" x1="127.5" y1="429.2" x2="159.1" y2="481.7"><stop offset="0" stop-color="#d9d9d9"/><stop offset="0.3" stop-color="#d2d2d2"/><stop offset="1" stop-color="#b5b5b5"/></linearGradient>
<path d="M119.5,434.1 L135.5,424.4 L135.5,499.1 L119.5,510.4 Z" fill="url(#cg9_8)"/>
<linearGradient id="cg9_9" gradientUnits="userSpaceOnUse" x1="142.5" y1="420.2" x2="173.4" y2="471.6"><stop offset="0" stop-color="#d9d9d9"/><stop offset="0.3" stop-color="#d2d2d2"/><stop offset="1" stop-color="#b5b5b5"/></linearGradient>
<path d="M134.5,425.0 L150.5,415.4 L150.5,488.6 L134.5,499.9 Z" fill="url(#cg9_9)"/>
<linearGradient id="cg9_10" gradientUnits="userSpaceOnUse" x1="157.5" y1="411.2" x2="187.8" y2="461.5"><stop offset="0" stop-color="#d9d9d9"/><stop offset="0.3" stop-color="#d2d2d2"/><stop offset="1" stop-color="#b5b5b5"/></linearGradient>
<path d="M149.5,416.0 L165.5,406.4 L165.5,478.1 L149.5,489.4 Z" fill="url(#cg9_10)"/>
<linearGradient id="cg9_11" gradientUnits="userSpaceOnUse" x1="172.5" y1="402.2" x2="202.1" y2="451.4"><stop offset="0" stop-color="#d9d9d9"/><stop offset="0.3" stop-color="#d2d2d2"/><stop offset="1" stop-color="#b5b5b5"/></linearGradient>
<path d="M164.5,407.0 L180.5,397.3 L180.5,467.6 L164.5,478.9 Z" fill="url(#cg9_11)"/>
<linearGradient id="cg9_12" gradientUnits="userSpaceOnUse" x1="187.5" y1="393.1" x2="216.5" y2="441.3"><stop offset="0" stop-color="#d9d9d9"/><stop offset="0.3" stop-color="#d2d2d2"/><stop offset="1" stop-color="#b5b5b5"/></linearGradient>
<path d="M179.5,397.9 L195.5,388.3 L195.5,457.1 L179.5,468.4 Z" fill="url(#cg9_12)"/>
<linearGradient id="cg9_13" gradientUnits="userSpaceOnUse" x1="202.5" y1="384.1" x2="230.8" y2="431.2"><stop offset="0" stop-color="#d9d9d9"/><stop offset="0.3" stop-color="#d2d2d2"/><stop offset="1" stop-color="#b5b5b5"/></linearGradient>
<path d="M194.5,388.9 L210.5,379.3 L210.5,446.6 L194.5,457.9 Z" fill="url(#cg9_13)"/>
<linearGradient id="cg9_14" gradientUnits="userSpaceOnUse" x1="217.5" y1="375.1" x2="245.2" y2="421.1"><stop offset="0" stop-color="#d9d9d9"/><stop offset="0.3" stop-color="#d2d2d2"/><stop offset="1" stop-color="#b5b5b5"/></linearGradient>
<path d="M209.5,379.9 L225.5,370.2 L225.5,436.1 L209.5,447.4 Z" fill="url(#cg9_14)"/>
<linearGradient id="cg9_15" gradientUnits="userSpaceOnUse" x1="232.5" y1="366.0" x2="259.5" y2="411.0"><stop offset="0" stop-color="#d9d9d9"/><stop offset="0.3" stop-color="#d2d2d2"/><stop offset="1" stop-color="#b5b5b5"/></linearGradient>
<path d="M224.5,370.9 L240.5,361.2 L240.5,425.6 L224.5,436.9 Z" fill="url(#cg9_15)"/>
<linearGradient id="cg9_16" gradientUnits="userSpaceOnUse" x1="247.5" y1="357.0" x2="273.9" y2="400.9"><stop offset="0" stop-color="#d9d9d9"/><stop offset="0.3" stop-color="#d2d2d2"/><stop offset="1" stop-color="#b5b5b5"/></linearGradient>
<path d="M239.5,361.8 L255.5,352.2 L255.5,415.1 L239.5,426.4 Z" fill="url(#cg9_16)"/>
<linearGradient id="cg9_17" gradientUnits="userSpaceOnUse" x1="262.5" y1="348.0" x2="288.2" y2="390.7"><stop offset="0" stop-color="#d9d9d9"/><stop offset="0.3" stop-color="#d2d2d2"/><stop offset="1" stop-color="#b5b5b5"/></linearGradient>
<path d="M254.5,352.8 L270.5,343.2 L270.5,404.6 L254.5,415.9 Z" fill="url(#cg9_17)"/>
<linearGradient id="cg9_18" gradientUnits="userSpaceOnUse" x1="277.5" y1="338.9" x2="302.6" y2="380.6"><stop offset="0" stop-color="#d9d9d9"/><stop offset="0.3" stop-color="#d2d2d2"/><stop offset="1" stop-color="#b5b5b5"/></linearGradient>
<path d="M269.5,343.8 L285.5,334.1 L285.5,394.1 L269.5,405.4 Z" fill="url(#cg9_18)"/>
<linearGradient id="cg9_19" gradientUnits="userSpaceOnUse" x1="292.5" y1="329.9" x2="317.0" y2="370.5"><stop offset="0" stop-color="#d9d9d9"/><stop offset="0.3" stop-color="#d2d2d2"/><stop offset="1" stop-color="#b5b5b5"/></linearGradient>
<path d="M284.5,334.7 L300.5,325.1 L300.5,383.6 L284.5,394.9 Z" fill="url(#cg9_19)"/>
<linearGradient id="cg9_20" gradientUnits="userSpaceOnUse" x1="307.5" y1="320.9" x2="331.3" y2="360.4"><stop offset="0" stop-color="#d9d9d9"/><stop offset="0.3" stop-color="#d2d2d2"/><stop offset="1" stop-color="#b5b5b5"/></linearGradient>
<path d="M299.5,325.7 L315.5,316.1 L315.5,373.1 L299.5,384.4 Z" fill="url(#cg9_20)"/>
<linearGradient id="cg9_21" gradientUnits="userSpaceOnUse" x1="322.5" y1="311.9" x2="345.7" y2="350.3"><stop offset="0" stop-color="#d9d9d9"/><stop offset="0.3" stop-color="#d2d2d2"/><stop offset="1" stop-color="#b5b5b5"/></linearGradient>
<path d="M314.5,316.7 L330.5,307.0 L330.5,362.6 L314.5,373.9 Z" fill="url(#cg9_21)"/>
<linearGradient id="cg9_22" gradientUnits="userSpaceOnUse" x1="337.5" y1="302.8" x2="360.0" y2="340.2"><stop offset="0" stop-color="#d9d9d9"/><stop offset="0.3" stop-color="#d2d2d2"/><stop offset="1" stop-color="#b5b5b5"/></linearGradient>
<path d="M329.5,307.6 L345.5,298.0 L345.5,352.1 L329.5,363.4 Z" fill="url(#cg9_22)"/>
<linearGradient id="cg9_23" gradientUnits="userSpaceOnUse" x1="352.5" y1="293.8" x2="374.4" y2="330.1"><stop offset="0" stop-color="#d9d9d9"/><stop offset="0.3" stop-color="#d2d2d2"/><stop offset="1" stop-color="#b5b5b5"/></linearGradient>
<path d="M344.5,298.6 L360.5,289.0 L360.5,341.6 L344.5,352.9 Z" fill="url(#cg9_23)"/>
<linearGradient id="cg10_0" gradientUnits="userSpaceOnUse" x1="7.5" y1="584.8" x2="58.8" y2="658.1"><stop offset="0" stop-color="#d9d9d9"/><stop offset="0.3" stop-color="#d2d2d2"/><stop offset="1" stop-color="#b5b5b5"/></linearGradient>
<path d="M-0.5,590.4 L15.5,579.1 L15.5,691.6 L-0.5,704.4 Z" fill="url(#cg10_0)"/>
<linearGradient id="cg10_1" gradientUnits="userSpaceOnUse" x1="22.5" y1="574.2" x2="73.1" y2="646.6"><stop offset="0" stop-color="#d9d9d9"/><stop offset="0.3" stop-color="#d2d2d2"/><stop offset="1" stop-color="#b5b5b5"/></linearGradient>
<path d="M14.5,579.9 L30.5,568.6 L30.5,679.6 L14.5,692.4 Z" fill="url(#cg10_1)"/>
<linearGradient id="cg10_2" gradientUnits="userSpaceOnUse" x1="37.5" y1="563.8" x2="87.4" y2="635.1"><stop offset="0" stop-color="#d9d9d9"/><stop offset="0.3" stop-color="#d2d2d2"/><stop offset="1" stop-color="#b5b5b5"/></linearGradient>
<path d="M29.5,569.4 L45.5,558.1 L45.5,667.6 L29.5,680.4 Z" fill="url(#cg10_2)"/>
<linearGradient id="cg10_3" gradientUnits="userSpaceOnUse" x1="52.5" y1="553.2" x2="101.7" y2="623.6"><stop offset="0" stop-color="#d9d9d9"/><stop offset="0.3" stop-color="#d2d2d2"/><stop offset="1" stop-color="#b5b5b5"/></linearGradient>
<path d="M44.5,558.9 L60.5,547.6 L60.5,655.6 L44.5,668.4 Z" fill="url(#cg10_3)"/>
<linearGradient id="cg10_4" gradientUnits="userSpaceOnUse" x1="67.5" y1="542.8" x2="116.0" y2="612.0"><stop offset="0" stop-color="#d9d9d9"/><stop offset="0.3" stop-color="#d2d2d2"/><stop offset="1" stop-color="#b5b5b5"/></linearGradient>
<path d="M59.5,548.4 L75.5,537.1 L75.5,643.6 L59.5,656.4 Z" fill="url(#cg10_4)"/>
<linearGradient id="cg10_5" gradientUnits="userSpaceOnUse" x1="82.5" y1="532.2" x2="130.3" y2="600.5"><stop offset="0" stop-color="#d9d9d9"/><stop offset="0.3" stop-color="#d2d2d2"/><stop offset="1" stop-color="#b5b5b5"/></linearGradient>
<path d="M74.5,537.9 L90.5,526.6 L90.5,631.6 L74.5,644.4 Z" fill="url(#cg10_5)"/>
<linearGradient id="cg10_6" gradientUnits="userSpaceOnUse" x1="97.5" y1="521.8" x2="144.6" y2="589.0"><stop offset="0" stop-color="#d9d9d9"/><stop offset="0.3" stop-color="#d2d2d2"/><stop offset="1" stop-color="#b5b5b5"/></linearGradient>
<path d="M89.5,527.4 L105.5,516.1 L105.5,619.6 L89.5,632.4 Z" fill="url(#cg10_6)"/>
<linearGradient id="cg10_7" gradientUnits="userSpaceOnUse" x1="112.5" y1="511.2" x2="158.9" y2="577.5"><stop offset="0" stop-color="#d9d9d9"/><stop offset="0.3" stop-color="#d2d2d2"/><stop offset="1" stop-color="#b5b5b5"/></linearGradient>
<path d="M104.5,516.9 L120.5,505.6 L120.5,607.6 L104.5,620.4 Z" fill="url(#cg10_7)"/>
<linearGradient id="cg10_8" gradientUnits="userSpaceOnUse" x1="127.5" y1="500.8" x2="173.2" y2="566.0"><stop offset="0" stop-color="#d9d9d9"/><stop offset="0.3" stop-color="#d2d2d2"/><stop offset="1" stop-color="#b5b5b5"/></linearGradient>
<path d="M119.5,506.4 L135.5,495.1 L135.5,595.6 L119.5,608.4 Z" fill="url(#cg10_8)"/>
<linearGradient id="cg10_9" gradientUnits="userSpaceOnUse" x1="142.5" y1="490.2" x2="187.5" y2="554.5"><stop offset="0" stop-color="#d9d9d9"/><stop offset="0.3" stop-color="#d2d2d2"/><stop offset="1" stop-color="#b5b5b5"/></linearGradient>
<path d="M134.5,495.9 L150.5,484.6 L150.5,583.6 L134.5,596.4 Z" fill="url(#cg10_9)"/>
<linearGradient id="cg10_10" gradientUnits="userSpaceOnUse" x1="157.5" y1="479.8" x2="201.8" y2="543.0"><stop offset="0" stop-color="#d9d9d9"/><stop offset="0.3" stop-color="#d2d2d2"/><stop offset="1" stop-color="#b5b5b5"/></linearGradient>
<path d="M149.5,485.4 L165.5,474.1 L165.5,571.6 L149.5,584.4 Z" fill="url(#cg10_10)"/>
<linearGradient id="cg10_11" gradientUnits="userSpaceOnUse" x1="172.5" y1="469.2" x2="216.1" y2="531.5"><stop offset="0" stop-color="#d9d9d9"/><stop offset="0.3" stop-color="#d2d2d2"/><stop offset="1" stop-color="#b5b5b5"/></linearGradient>
<path d="M164.5,474.9 L180.5,463.6 L180.5,559.6 L164.5,572.4 Z" fill="url(#cg10_11)"/>
<linearGradient id="cg10_12" gradientUnits="userSpaceOnUse" x1="187.5" y1="458.8" x2="230.4" y2="520.0"><stop offset="0" stop-color="#d9d9d9"/><stop offset="0.3" stop-color="#d2d2d2"/><stop offset="1" stop-color="#b5b5b5"/></linearGradient>
<path d="M179.5,464.4 L195.5,453.1 L195.5,547.6 L179.5,560.4 Z" fill="url(#cg10_12)"/>
<linearGradient id="cg10_13" gradientUnits="userSpaceOnUse" x1="202.5" y1="448.2" x2="244.7" y2="508.5"><stop offset="0" stop-color="#d9d9d9"/><stop offset="0.3" stop-color="#d2d2d2"/><stop offset="1" stop-color="#b5b5b5"/></linearGradient>
<path d="M194.5,453.9 L210.5,442.6 L210.5,535.6 L194.5,548.4 Z" fill="url(#cg10_13)"/>
<linearGradient id="cg10_14" gradientUnits="userSpaceOnUse" x1="217.5" y1="437.8" x2="259.0" y2="497.0"><stop offset="0" stop-color="#d9d9d9"/><stop offset="0.3" stop-color="#d2d2d2"/><stop offset="1" stop-color="#b5b5b5"/></linearGradient>
<path d="M209.5,443.4 L225.5,432.1 L225.5,523.6 L209.5,536.4 Z" fill="url(#cg10_14)"/>
<linearGradient id="cg10_15" gradientUnits="userSpaceOnUse" x1="232.5" y1="427.2" x2="273.3" y2="485.5"><stop offset="0" stop-color="#d9d9d9"/><stop offset="0.3" stop-color="#d2d2d2"/><stop offset="1" stop-color="#b5b5b5"/></linearGradient>
<path d="M224.5,432.9 L240.5,421.6 L240.5,511.6 L224.5,524.4 Z" fill="url(#cg10_15)"/>
<linearGradient id="cg10_16" gradientUnits="userSpaceOnUse" x1="247.5" y1="416.8" x2="287.6" y2="474.0"><stop offset="0" stop-color="#d9d9d9"/><stop offset="0.3" stop-color="#d2d2d2"/><stop offset="1" stop-color="#b5b5b5"/></linearGradient>
<path d="M239.5,422.4 L255.5,411.1 L255.5,499.6 L239.5,512.4 Z" fill="url(#cg10_16)"/>
<linearGradient id="cg10_17" gradientUnits="userSpaceOnUse" x1="262.5" y1="406.2" x2="301.8" y2="462.5"><stop offset="0" stop-color="#d9d9d9"/><stop offset="0.3" stop-color="#d2d2d2"/><stop offset="1" stop-color="#b5b5b5"/></linearGradient>
<path d="M254.5,411.9 L270.5,400.6 L270.5,487.6 L254.5,500.4 Z" fill="url(#cg10_17)"/>
<linearGradient id="cg10_18" gradientUnits="userSpaceOnUse" x1="277.5" y1="395.8" x2="316.1" y2="451.0"><stop offset="0" stop-color="#d9d9d9"/><stop offset="0.3" stop-color="#d2d2d2"/><stop offset="1" stop-color="#b5b5b5"/></linearGradient>
<path d="M269.5,401.4 L285.5,390.1 L285.5,475.6 L269.5,488.4 Z" fill="url(#cg10_18)"/>
<linearGradient id="cg10_19" gradientUnits="userSpaceOnUse" x1="292.5" y1="385.2" x2="330.4" y2="439.4"><stop offset="0" stop-color="#d9d9d9"/><stop offset="0.3" stop-color="#d2d2d2"/><stop offset="1" stop-color="#b5b5b5"/></linearGradient>
<path d="M284.5,390.9 L300.5,379.6 L300.5,463.6 L284.5,476.4 Z" fill="url(#cg10_19)"/>
<linearGradient id="cg10_20" gradientUnits="userSpaceOnUse" x1="307.5" y1="374.8" x2="344.7" y2="427.9"><stop offset="0" stop-color="#d9d9d9"/><stop offset="0.3" stop-color="#d2d2d2"/><stop offset="1" stop-color="#b5b5b5"/></linearGradient>
<path d="M299.5,380.4 L315.5,369.1 L315.5,451.6 L299.5,464.4 Z" fill="url(#cg10_20)"/>
<linearGradient id="cg10_21" gradientUnits="userSpaceOnUse" x1="322.5" y1="364.2" x2="359.0" y2="416.4"><stop offset="0" stop-color="#d9d9d9"/><stop offset="0.3" stop-color="#d2d2d2"/><stop offset="1" stop-color="#b5b5b5"/></linearGradient>
<path d="M314.5,369.9 L330.5,358.6 L330.5,439.6 L314.5,452.4 Z" fill="url(#cg10_21)"/>
<linearGradient id="cg10_22" gradientUnits="userSpaceOnUse" x1="337.5" y1="353.8" x2="373.3" y2="404.9"><stop offset="0" stop-color="#d9d9d9"/><stop offset="0.3" stop-color="#d2d2d2"/><stop offset="1" stop-color="#b5b5b5"/></linearGradient>
<path d="M329.5,359.4 L345.5,348.1 L345.5,427.6 L329.5,440.4 Z" fill="url(#cg10_22)"/>
<linearGradient id="cg10_23" gradientUnits="userSpaceOnUse" x1="352.5" y1="343.2" x2="387.6" y2="393.4"><stop offset="0" stop-color="#d9d9d9"/><stop offset="0.3" stop-color="#d2d2d2"/><stop offset="1" stop-color="#b5b5b5"/></linearGradient>
<path d="M344.5,348.9 L360.5,337.6 L360.5,415.6 L344.5,428.4 Z" fill="url(#cg10_23)"/>
</g>
<rect x="1" y="26" width="352.2" height="313.6" fill="none" stroke="#000" stroke-width="2"/>
<text transform="translate(0.50 18.00) scale(0.958 1.000)" x="0" y="0" font-size="21" font-weight="bold" fill="#000" stroke="#000" stroke-width="1.1" stroke-linejoin="round">a</text>
<circle cx="263.2" cy="40.7" r="9" fill="#0a00b8"/>
<circle cx="263.2" cy="64.3" r="9" fill="#ff0000"/>
<text x="280" y="45.4" font-size="15" text-anchor="start" font-weight="normal" fill="#231f20" textLength="43.3" lengthAdjust="spacingAndGlyphs">AT542</text>
<text x="280" y="68.9" font-size="15" text-anchor="start" font-weight="normal" fill="#231f20" textLength="26.3" lengthAdjust="spacingAndGlyphs">Cy5</text>
<defs>
<linearGradient id="gO" x1="0" y1="0" x2="1" y2="1"><stop offset="0" stop-color="#f7a21b"/><stop offset="0.6" stop-color="#f39200"/><stop offset="1" stop-color="#d67f00"/></linearGradient>
<linearGradient id="gG" x1="0" y1="0" x2="1" y2="0"><stop offset="0" stop-color="#6a6a6a"/><stop offset="0.5" stop-color="#7a7a7a"/><stop offset="1" stop-color="#656565"/></linearGradient>
</defs>
<circle cx="136.1" cy="117.4" r="15.6" fill="#d6d6f6"/>
<path d="M144.6,125.5 C152,136 158,145 163,154 C169,165 174.5,176 176.7,186 C178,192 178.7,197 178.7,206" fill="none" stroke="#f0c080" stroke-opacity="0.35" stroke-width="12.5"/>
<path d="M180,204 L180,243" fill="none" stroke="#888" stroke-opacity="0.25" stroke-width="10"/>
<clipPath id="ghs"><circle cx="136.1" cy="117.4" r="15.6"/></clipPath>
<path d="M144.6,125.5 C152,136 158,145 163,154" fill="none" stroke="#a08090" stroke-opacity="0.35" stroke-width="12.5" clip-path="url(#ghs)"/>
<path d="M84.4,238.5 C84.9,235.3 85.8,224.1 87.5,219.2 C89.2,214.3 91.9,212.0 94.8,208.9 C97.7,205.8 101.0,202.8 105.1,200.6 C109.2,198.4 114.3,196.3 119.5,195.5 C124.7,194.7 130.0,194.7 136.0,195.5 C142.0,196.3 152.3,199.8 155.6,200.6 L149.4,214.0 C146.5,213.2 137.6,209.8 131.9,208.9 C126.2,208.1 119.9,208.2 115.4,208.9 C110.9,209.6 107.8,210.6 105.1,213.0 C102.3,215.4 100.3,219.1 98.9,223.3 C97.5,227.6 97.2,236.0 96.8,238.5 Z" fill="url(#gO)"/>
<path d="M84.4,238.5 C84.9,235.3 85.8,224.1 87.5,219.2 C89.2,214.3 92.5,211.4 94.8,208.9 C97.0,206.4 100.0,204.8 101.0,204.0 L104.0,214.5 C103.2,216.0 100.1,219.3 98.9,223.3 C97.7,227.3 97.2,236.0 96.8,238.5 Z" fill="#6e6e6e"/>
<circle cx="253.3" cy="181.4" r="10.6" fill="url(#sphB)"/>
<path d="M175.3,241.0 C175.7,237.3 176.3,225.0 177.7,219.0 C179.1,213.0 181.0,209.5 183.6,204.8 C186.2,200.1 189.1,194.8 193.0,190.7 C196.9,186.6 202.1,182.8 207.2,180.0 C212.3,177.2 218.2,175.4 223.7,174.2 C229.2,173.0 236.1,172.8 240.2,173.0 C244.2,173.2 246.7,175.1 248.0,175.5 L247.0,187.5 C244.7,187.4 237.9,186.6 233.2,187.1 C228.5,187.6 223.3,188.9 219.0,190.7 C214.7,192.5 210.7,195.1 207.2,197.8 C203.7,200.6 200.4,203.7 197.8,207.2 C195.2,210.7 193.3,213.8 191.9,219.0 C190.5,224.2 189.9,235.2 189.5,238.5 Z" fill="url(#gO)"/>
<path d="M175.3,241.0 C175.7,237.3 176.3,225.0 177.7,219.0 C179.1,213.0 181.2,209.1 183.6,204.8 C186.0,200.6 190.6,195.4 192.0,193.5 L203.0,203.5 C202.1,204.1 199.7,204.6 197.8,207.2 C196.0,209.8 193.3,213.8 191.9,219.0 C190.5,224.2 189.9,235.2 189.5,238.5 Z" fill="#6e6e6e"/>
<path d="M180,204 L180,243" fill="none" stroke="#999" stroke-opacity="0.25" stroke-width="10"/>
<path d="M215.5,197.8 C217.7,196.4 223.9,191.3 228.4,189.5 C232.9,187.7 238.3,187.1 242.6,187.1 C246.9,187.1 251.2,188.1 254.4,189.5 C257.6,190.9 259.3,192.1 261.5,195.4 C263.7,198.8 266.2,205.6 267.4,209.6 C268.6,213.6 268.4,217.8 268.6,219.5 L261.5,219.5 C260.9,217.2 259.4,209.2 258.0,206.0 C256.6,202.8 255.8,201.5 253.2,200.1 C250.6,198.7 246.3,197.6 242.6,197.8 C238.9,198.0 234.3,199.5 230.8,201.3 C227.3,203.1 223.0,207.2 221.4,208.4 Z" fill="url(#gO)"/>
<path d="M257.5,191.5 C258.2,192.2 259.9,192.4 261.5,195.4 C263.1,198.4 266.2,205.6 267.4,209.6 C268.6,213.6 268.4,217.8 268.6,219.5 L261.5,219.5 C260.9,217.2 259.1,208.9 258.0,206.0 C256.9,203.1 255.5,202.5 255.0,201.8 Z" fill="#707070"/>
<ellipse cx="218.6" cy="203.2" rx="4" ry="6" transform="rotate(-40 218.6 203.2)" fill="#d07a00"/>
<line x1="169.1" y1="218.8" x2="110" y2="226.2" stroke="#8a8a8a" stroke-width="2.4" marker-end="url(#ahg)"/>
<line x1="110" y1="236.6" x2="167.5" y2="288.8" stroke="#8a8a8a" stroke-width="2.4" marker-start="url(#ahg)" marker-end="url(#ahg)"/>
<line x1="203.2" y1="215.9" x2="246" y2="211" stroke="#8a8a8a" stroke-width="2.4" marker-end="url(#ahg)"/>
<line x1="200.8" y1="283.6" x2="264" y2="225.6" stroke="#8a8a8a" stroke-width="2.4" marker-start="url(#ahg)" marker-end="url(#ahg)"/>
<clipPath id="redcut"><path d="M90,240 L140,240 L140,279.5 L108,290 L90,296 Z"/></clipPath>
<circle cx="114.9" cy="274.2" r="17" fill="url(#sphR)" clip-path="url(#redcut)"/>
<path d="M174.4,314.5 C174.6,310.0 174.6,295.0 175.3,287.4 C176.1,279.8 177.1,275.3 178.9,268.6 C180.7,261.9 183.2,253.6 186.0,247.3 C188.8,241.0 192.3,234.9 195.4,230.8 C198.5,226.7 201.7,224.2 204.8,222.5 C208.0,220.8 211.5,220.2 214.3,220.3 C217.1,220.4 219.7,221.4 221.5,222.8 C223.3,224.2 224.4,228.0 225.0,229.0 L222.0,233.2 C221.1,233.5 218.5,233.6 216.6,234.8 C214.7,236.0 212.8,237.3 210.7,240.2 C208.5,243.1 205.8,246.9 203.7,252.0 C201.5,257.1 199.4,265.0 197.8,270.9 C196.2,276.8 195.0,280.8 194.2,287.4 C193.4,294.0 193.2,306.6 193.0,310.5 Z" fill="url(#gO)"/>
<path d="M225,229 C225.5,232 224,233 222,233.2" fill="#f39200"/>
<path d="M174.4,314.5 C174.6,310.0 174.6,295.0 175.3,287.4 C176.1,279.8 178.3,271.7 178.9,268.6 L198.6,273.8 C197.9,276.1 195.1,281.3 194.2,287.4 C193.3,293.5 193.2,306.6 193.0,310.5 Z" fill="#6e6e6e"/>
<path d="M174.4,314.5 C180,317.5 188,315 193,310.5 Z" fill="#6e6e6e"/>
<path d="M172,114.6 Q228,109 237.8,155.5" fill="none" stroke="#000" stroke-width="2.6" marker-start="url(#ahk)" marker-end="url(#ahk)"/>
<text x="239" y="275.3" font-size="14" text-anchor="start" font-weight="normal" fill="#6d6d6d" textLength="41.4" lengthAdjust="spacingAndGlyphs">~6 nm</text>
<defs><clipPath id="cbt"><rect x="483.7" y="25" width="350.8" height="158.2"/></clipPath><clipPath id="cbb"><rect x="483.7" y="183.2" width="350.8" height="158.4"/></clipPath></defs>
<rect x="483.7" y="25" width="350.8" height="316.6" fill="none" stroke="#8a8a8a" stroke-width="1.2"/>
<line x1="483.7" y1="183.2" x2="834.5" y2="183.2" stroke="#8a8a8a" stroke-width="1.2"/>
<polyline points="482.3,145.2 485.8,143.7 489.6,144.3 492.5,145.2 495.4,154.8 497.3,151.0 499.2,112.6 501.5,109.7 504.0,115.5 507.8,118.3 510.7,121.2 513.6,112.6 515.5,120.3 518.4,111.6 520.3,116.4 522.6,145.2 526.1,143.7 529.9,146.2 533.7,147.5 537.6,147.1 539.5,127.9 541.4,74.2 544.3,70.4 549.1,68.4 552.9,70.4 556.8,70.0 560.6,73.2 564.5,71.3 568.3,73.2 568.8,72.3 570.8,83.8 572.7,106.8 573.6,114.5 575.0,107.8 577.5,114.5 578.8,118.3 580.4,177.8 584.2,178.8 588.0,179.4 591.9,178.8 596.7,178.8 599.5,162.5 602.4,80.0 604.3,76.1 607.2,78.0 611.1,77.1 614.9,74.2 617.8,77.1 620.7,75.2 622.6,93.4 623.5,122.2 625.5,123.1 626.8,149.0 629.3,147.1 634.1,148.1 637.9,147.1 640.8,149.0 642.7,131.8 644.7,117.4 646.6,118.3 649.5,124.1 651.9,112.6 653.8,110.7 655.8,115.5 658.6,107.8 660.6,109.7 662.5,104.9 664.4,105.9 666.3,93.4 668.2,76.1 670.2,110.7 672.1,115.5 674.0,110.7 675.9,105.9 677.8,77.1 680.3,73.2 682.6,78.0 684.2,83.8 684.9,145.2 688.4,146.2 692.2,147.1 696.1,149.0 698.9,151.9 701.8,149.0 704.7,150.0 707.6,147.1 710.5,135.6 711.4,123.1 715.3,113.5 717.2,120.3 719.1,143.3 722.0,147.1 724.9,149.0 727.7,147.1 731.6,135.6 733.5,147.1 736.4,149.0 737.9,145.1 739.8,118.3 741.7,113.5 744.6,119.2 746.9,116.3 748.4,110.6 750.0,116.3 751.3,76.1 753.2,69.4 757.0,68.8 759.9,70.3 762.8,71.3 764.7,101.0 766.1,116.3 767.6,118.3 769.9,112.5 772.4,113.5 774.3,116.3 776.2,122.1 779.5,110.6 781.0,122.1 783.9,120.2 785.2,119.2 787.7,141.3 789.6,148.9 792.5,148.0 796.3,148.9 800.2,145.1 803.1,138.4 805.9,137.4 809.8,131.7 810.7,139.4 813.6,146.1 816.5,148.9 819.4,147.0 822.2,148.9 825.1,143.2 827.0,122.1 829.9,120.2 832.8,122.1" fill="none" stroke="#0000ff" stroke-width="4.0" stroke-linejoin="round" stroke-linecap="butt" clip-path="url(#cbt)"/>
<polyline points="482.3,139.5 483.8,132.7 487.7,133.7 493.4,133.7 495.4,139.5 498.2,139.5 501.1,153.8 504.0,149.0 507.8,145.2 510.7,150.0 514.5,151.0 518.4,151.9 520.7,139.5 522.2,135.6 526.1,134.7 529.9,136.6 533.7,138.5 538.5,139.5 540.5,154.8 541.4,170.2 546.2,172.1 552.9,170.2 560.6,170.2 568.3,169.2 571.7,162.5 573.6,146.2 575.6,151.0 577.5,151.0 578.8,175.9 581.3,177.8 586.1,176.9 591.9,176.9 596.7,176.9 598.6,151.0 599.9,133.7 601.5,137.5 603.4,167.3 606.3,166.3 611.1,168.2 615.9,170.2 619.7,171.1 622.2,168.2 623.5,147.1 626.0,136.6 629.3,139.5 632.2,141.4 636.0,137.5 638.9,139.5 641.8,135.6 643.7,151.0 646.6,151.9 649.5,149.0 651.9,154.8 654.8,152.9 657.7,158.6 661.5,157.7 665.4,158.6 668.2,173.0 670.2,162.5 672.1,154.8 675.0,158.6 677.8,171.1 681.7,172.1 683.6,170.2 684.9,143.3 688.4,141.4 692.2,143.3 697.0,139.5 701.8,140.4 706.6,139.5 709.5,142.3 712.4,149.0 715.3,156.7 717.2,151.9 719.1,137.5 722.9,139.5 725.8,136.6 728.7,141.4 732.5,143.3 736.4,137.5 738.8,137.4 740.8,148.9 743.6,147.0 746.5,148.9 749.4,151.8 751.3,170.0 754.2,172.0 759.9,171.0 762.8,170.0 764.7,150.9 766.6,148.9 769.5,153.7 773.3,150.9 776.2,146.1 778.1,152.8 780.1,148.0 782.0,150.9 784.8,150.9 786.8,140.3 789.6,137.4 792.5,135.5 795.4,139.4 798.3,142.2 801.1,143.2 803.1,159.5 805.9,160.1 808.8,158.5 810.7,139.4 813.6,137.4 817.4,135.5 820.3,138.4 825.1,136.5 827.0,146.1 830.9,146.6 833.7,146.1" fill="none" stroke="#ff0000" stroke-width="4.0" stroke-linejoin="round" stroke-linecap="butt" clip-path="url(#cbt)"/>
<polyline points="482.3,320.3 484.6,324.9 486.9,316.9 489.1,320.3 491.4,316.9 493.7,321.5 495.5,332.9 497.8,324.9 499.4,315.7 501.0,281.4 502.9,280.3 505.1,283.7 508.6,290.6 510.9,289.5 512.5,295.2 514.3,286.0 516.6,288.3 518.9,282.6 520.7,290.6 522.3,314.6 523.9,320.3 525.7,318.0 529.2,320.3 532.6,324.9 534.9,320.3 538.3,323.7 539.9,281.4 541.3,215.1 542.9,210.1 545.2,214.0 549.7,211.0 553.2,220.9 556.6,214.0 558.9,218.6 562.3,212.9 564.6,211.7 566.4,224.3 569.2,219.7 571.4,220.9 572.6,265.4 573.7,281.4 576.0,280.3 577.9,286.0 578.8,300.0 580.2,345.0" fill="none" stroke="#000" stroke-width="4.0" stroke-linejoin="round" stroke-linecap="butt" clip-path="url(#cbb)"/>
<polyline points="597.6,345.0 599.0,320.3 601.3,318.0 602.4,302.0 603.6,215.1 605.9,210.6 607.5,219.7 609.3,212.9 611.1,219.7 612.7,214.0 615.0,218.6 616.6,207.8 618.4,215.1 621.9,212.9 623.0,235.7 624.2,297.5 625.8,295.2 627.1,323.7 629.4,319.2 632.2,322.6 634.9,319.9 637.9,321.5 640.2,324.9 642.4,320.3 644.0,290.6 645.9,286.0 648.2,292.9 650.4,286.0 652.7,270.0 655.5,290.6 657.8,270.0 660.0,273.4 663.0,273.4 666.0,268.9 668.3,217.4 670.6,247.2 672.3,279.2 674.1,274.6 675.7,267.7 676.9,212.9 678.7,216.3 680.3,210.6 681.9,204.2 683.3,217.4 684.9,322.6 688.3,322.6 691.0,318.0 694.0,327.2 696.3,320.3 698.6,326.0 700.9,324.9 703.1,321.5 706.6,324.9 709.3,318.0 712.3,289.5 713.9,295.2 715.7,281.4 717.3,288.3 718.7,320.3 721.4,322.6 723.0,320.3 724.9,327.2 727.2,322.6 730.6,322.6 732.2,302.0 733.6,322.6 736.3,323.7 739.7,318.0 741.2,286.5 742.8,281.3 745.2,286.5 747.6,280.6 749.0,277.0 750.6,292.4 751.8,218.0 753.7,214.5 755.3,215.7 757.0,207.4 758.9,212.1 761.2,215.7 763.6,215.7 764.8,270.0 766.4,290.0 768.3,291.2 770.2,280.6 772.3,286.5 774.2,281.8 775.9,291.2 777.8,286.5 779.6,280.6 782.0,295.9 783.7,287.7 786.0,287.7 788.4,317.2 790.0,325.4 793.1,319.5 795.5,324.2 797.8,326.6 800.2,319.5 802.5,323.0 806.1,320.7 808.4,326.6 810.3,305.4 812.0,321.9 815.0,320.7 816.7,324.2 820.2,321.9 823.8,321.9 826.1,318.3 828.5,288.8 830.9,290.0 833.2,293.6" fill="none" stroke="#000" stroke-width="4.0" stroke-linejoin="round" stroke-linecap="butt" clip-path="url(#cbb)"/>
<line x1="476.6" y1="69.19999999999999" x2="483.7" y2="69.19999999999999" stroke="#8a8a8a" stroke-width="1.2"/>
<text x="471" y="73.69999999999999" font-size="13" text-anchor="end" font-weight="normal" fill="#231f20">1</text>
<line x1="476.6" y1="126.19999999999999" x2="483.7" y2="126.19999999999999" stroke="#8a8a8a" stroke-width="1.2"/>
<text x="471" y="130.7" font-size="13" text-anchor="end" font-weight="normal" fill="#231f20">0.5</text>
<line x1="476.6" y1="183.2" x2="483.7" y2="183.2" stroke="#8a8a8a" stroke-width="1.2"/>
<text x="471" y="187.7" font-size="13" text-anchor="end" font-weight="normal" fill="#231f20">0</text>
<line x1="476.6" y1="298.3" x2="483.7" y2="298.3" stroke="#8a8a8a" stroke-width="1.2"/>
<text x="471" y="302.8" font-size="13" text-anchor="end" font-weight="normal" fill="#231f20">1</text>
<line x1="476.6" y1="250.3" x2="483.7" y2="250.3" stroke="#8a8a8a" stroke-width="1.2"/>
<text x="471" y="254.8" font-size="13" text-anchor="end" font-weight="normal" fill="#231f20">2</text>
<line x1="476.6" y1="202.3" x2="483.7" y2="202.3" stroke="#8a8a8a" stroke-width="1.2"/>
<text x="471" y="206.8" font-size="13" text-anchor="end" font-weight="normal" fill="#231f20">3</text>
<line x1="483.5" y1="341.6" x2="483.5" y2="348.4" stroke="#8a8a8a" stroke-width="1.2"/>
<text x="483.5" y="364.6" font-size="13" text-anchor="middle" font-weight="normal" fill="#231f20">0</text>
<line x1="559.7" y1="341.6" x2="559.7" y2="348.4" stroke="#8a8a8a" stroke-width="1.2"/>
<text x="559.7" y="364.6" font-size="13" text-anchor="middle" font-weight="normal" fill="#231f20">5</text>
<line x1="635.9" y1="341.6" x2="635.9" y2="348.4" stroke="#8a8a8a" stroke-width="1.2"/>
<text x="635.9" y="364.6" font-size="13" text-anchor="middle" font-weight="normal" fill="#231f20">10</text>
<line x1="712.1" y1="341.6" x2="712.1" y2="348.4" stroke="#8a8a8a" stroke-width="1.2"/>
<text x="712.1" y="364.6" font-size="13" text-anchor="middle" font-weight="normal" fill="#231f20">15</text>
<line x1="788.3" y1="341.6" x2="788.3" y2="348.4" stroke="#8a8a8a" stroke-width="1.2"/>
<text x="788.3" y="364.6" font-size="13" text-anchor="middle" font-weight="normal" fill="#231f20">20</text>
<text x="659" y="388.5" font-size="15" text-anchor="middle" font-weight="normal" fill="#231f20" textLength="53" lengthAdjust="spacingAndGlyphs">Time (s)</text>
<text x="437.2" y="103.5" font-size="15.8" text-anchor="middle" font-weight="normal" fill="#231f20" textLength="125" lengthAdjust="spacingAndGlyphs" transform="rotate(-90 437.2 103.5)">Fluorescene (a.u.)</text>
<text x="446.6" y="262.7" font-size="15.5" text-anchor="middle" font-weight="normal" fill="#231f20" textLength="107.5" lengthAdjust="spacingAndGlyphs" transform="rotate(-90 446.6 262.7)">Fl. llifetime (ns)</text>
<line x1="636.7" y1="42.5" x2="661.7" y2="42.5" stroke="#0000ff" stroke-width="4"/>
<text x="669.2" y="49.2" font-size="15" text-anchor="start" font-weight="normal" fill="#231f20" textLength="44" lengthAdjust="spacingAndGlyphs">AT542</text>
<line x1="764.7" y1="42.5" x2="789.5" y2="42.5" stroke="#ff0000" stroke-width="4"/>
<text x="796.6" y="47.4" font-size="15" text-anchor="start" font-weight="normal" fill="#231f20" textLength="26.8" lengthAdjust="spacingAndGlyphs">Cy5</text>
<line x1="742.4" y1="195.1" x2="766.4" y2="195.1" stroke="#000" stroke-width="4"/>
<text x="775.4" y="201" font-size="15" text-anchor="start" font-weight="normal" fill="#231f20" textLength="55.5" lengthAdjust="spacingAndGlyphs">Lifetime</text>
<text transform="translate(424.20 17.65) scale(1.100 0.953)" x="0" y="0" font-size="21" font-weight="bold" fill="#000" stroke="#000" stroke-width="1.1" stroke-linejoin="round">b</text>
<rect x="953.3" y="23.7" width="95.79999999999995" height="123.99999999999999" fill="#ccccff"/>
<rect x="1049.1" y="23.7" width="82.20000000000005" height="123.99999999999999" fill="#cce5cc"/>
<rect x="1131.3" y="23.7" width="54.90000000000009" height="123.99999999999999" fill="#ffcccc"/>
<path d="M953.3,147.7 V23.7 H1186.2 V147.7" fill="none" stroke="#8a8a8a" stroke-width="1.2"/>
<polyline points="953.3,147.7 959.1,147.7 959.1,147.7 964.9,147.7 964.9,147.7 970.7,147.7 970.7,147.7 976.5,147.7 976.5,147.7 982.3,147.7 982.3,141.6 988.1,141.6 988.1,132.5 993.9,132.5 993.9,93.2 999.7,93.2 999.7,108.3 1005.5,108.3 1005.5,129.5 1011.3,129.5 1011.3,144.7 1017.1,144.7 1017.1,141.6 1022.9,141.6 1022.9,144.7 1028.7,144.7 1028.7,147.7 1034.5,147.7 1034.5,147.7 1040.3,147.7 1040.3,147.7 1046.1,147.7 1046.1,147.7 1051.9,147.7 1051.9,147.7 1057.7,147.7 1057.7,144.7 1063.5,144.7 1063.5,144.7 1069.3,144.7 1069.3,135.6 1075.1,135.6 1075.1,138.6 1080.9,138.6 1080.9,132.5 1086.7,132.5 1086.7,126.5 1092.5,126.5 1092.5,99.2 1098.3,99.2 1098.3,111.3 1104.1,111.3 1104.1,102.2 1109.9,102.2 1109.9,129.5 1115.7,129.5 1115.7,141.6 1121.5,141.6 1121.5,138.6 1127.3,138.6 1127.3,144.7 1133.1,144.7 1133.1,138.6 1138.9,138.6 1138.9,132.5 1144.7,132.5 1144.7,32.6 1150.5,32.6 1150.5,29.5 1156.3,29.5 1156.3,126.5 1162.1,126.5 1162.1,144.7 1167.9,144.7 1167.9,147.7 1173.7,147.7 1173.7,147.7 1179.5,147.7" fill="none" stroke="#000" stroke-width="3.0" stroke-linejoin="round" stroke-linecap="butt"/>
<line x1="946.4" y1="147.7" x2="953.3" y2="147.7" stroke="#8a8a8a" stroke-width="1.2"/>
<text x="940" y="152.29999999999998" font-size="13" text-anchor="end" font-weight="normal" fill="#231f20">0</text>
<line x1="946.4" y1="87.1" x2="953.3" y2="87.1" stroke="#8a8a8a" stroke-width="1.2"/>
<text x="940" y="91.69999999999999" font-size="13" text-anchor="end" font-weight="normal" fill="#231f20">20</text>
<line x1="946.4" y1="26.5" x2="953.3" y2="26.5" stroke="#8a8a8a" stroke-width="1.2"/>
<text x="940" y="31.1" font-size="13" text-anchor="end" font-weight="normal" fill="#231f20">40</text>
<line x1="953.3" y1="147.7" x2="953.3" y2="154.8" stroke="#8a8a8a" stroke-width="1.2"/>
<text x="953.3" y="171" font-size="13" text-anchor="middle" font-weight="normal" fill="#231f20">0</text>
<line x1="1011.3" y1="147.7" x2="1011.3" y2="154.8" stroke="#8a8a8a" stroke-width="1.2"/>
<text x="1011.3" y="171" font-size="13" text-anchor="middle" font-weight="normal" fill="#231f20">0.25</text>
<line x1="1069.3" y1="147.7" x2="1069.3" y2="154.8" stroke="#8a8a8a" stroke-width="1.2"/>
<text x="1069.3" y="171" font-size="13" text-anchor="middle" font-weight="normal" fill="#231f20">0.50</text>
<line x1="1127.3" y1="147.7" x2="1127.3" y2="154.8" stroke="#8a8a8a" stroke-width="1.2"/>
<text x="1127.3" y="171" font-size="13" text-anchor="middle" font-weight="normal" fill="#231f20">0.75</text>
<line x1="1185.3" y1="147.7" x2="1185.3" y2="154.8" stroke="#8a8a8a" stroke-width="1.2"/>
<text x="1185.3" y="171" font-size="13" text-anchor="middle" font-weight="normal" fill="#231f20">1.00</text>
<text x="1070" y="192" font-size="15" text-anchor="middle" font-weight="normal" fill="#231f20" textLength="105" lengthAdjust="spacingAndGlyphs">FRET efficiency</text>
<text x="911.5" y="85.5" font-size="15" text-anchor="middle" font-weight="normal" fill="#231f20" textLength="42" lengthAdjust="spacingAndGlyphs" transform="rotate(-90 911.5 85.5)">Count</text>
<text transform="translate(900.60 18.33) scale(0.942 0.867)" x="0" y="0" font-size="21" font-weight="bold" fill="#000" stroke="#000" stroke-width="1.1" stroke-linejoin="round">c</text>
<rect x="953.2" y="216.3" width="51.299999999999955" height="123.69999999999999" fill="#ffcccc"/>
<rect x="1004.5" y="216.3" width="78.70000000000005" height="123.69999999999999" fill="#cce5cc"/>
<rect x="1083.2" y="216.3" width="103.0" height="123.69999999999999" fill="#ccccff"/>
<path d="M953.2,340.0 V216.3 H1186.2 V340.0" fill="none" stroke="#8a8a8a" stroke-width="1.2"/>
<polyline points="954.1,335.9 958.7,335.9 958.7,340.0 963.4,340.0 963.4,335.9 968.0,335.9 968.0,319.6 972.6,319.6 972.6,291.0 977.3,291.0 977.3,221.7 981.9,221.7 981.9,242.1 986.6,242.1 986.6,266.6 991.2,266.6 991.2,340.0 995.8,340.0 995.8,327.8 1000.5,327.8 1000.5,340.0 1005.1,340.0 1005.1,331.8 1009.8,331.8 1009.8,331.8 1014.4,331.8 1014.4,331.8 1019.0,331.8 1019.0,335.9 1023.7,335.9 1023.7,299.2 1028.3,299.2 1028.3,291.0 1033.0,291.0 1033.0,287.0 1037.6,287.0 1037.6,295.1 1042.2,295.1 1042.2,307.4 1046.9,307.4 1046.9,323.7 1051.5,323.7 1051.5,327.8 1056.2,327.8 1056.2,319.6 1060.8,319.6 1060.8,335.9 1065.4,335.9 1065.4,335.9 1070.1,335.9 1070.1,335.9 1074.7,335.9 1074.7,340.0 1079.4,340.0 1079.4,340.0 1084.0,340.0 1084.0,340.0 1088.6,340.0 1088.6,340.0 1093.3,340.0 1093.3,340.0 1097.9,340.0 1097.9,340.0 1102.6,340.0 1102.6,340.0 1107.2,340.0 1107.2,340.0 1111.8,340.0 1111.8,331.8 1116.5,331.8 1116.5,335.9 1121.1,335.9 1121.1,340.0 1125.8,340.0 1125.8,335.9 1130.4,335.9 1130.4,335.9 1135.0,335.9 1135.0,311.4 1139.7,311.4 1139.7,315.5 1144.3,315.5 1144.3,319.6 1149.0,319.6 1149.0,307.4 1153.6,307.4 1153.6,307.4 1158.2,307.4 1158.2,327.8 1162.9,327.8 1162.9,327.8 1167.5,327.8 1167.5,340.0 1172.2,340.0 1172.2,331.8 1176.8,331.8 1176.8,340.0 1181.4,340.0 1181.4,335.9 1186.1,335.9" fill="none" stroke="#000" stroke-width="3.0" stroke-linejoin="round" stroke-linecap="butt"/>
<line x1="946.4" y1="340.0" x2="953.2" y2="340.0" stroke="#8a8a8a" stroke-width="1.2"/>
<text x="940" y="344.6" font-size="13" text-anchor="end" font-weight="normal" fill="#231f20">0</text>
<line x1="946.4" y1="258.4" x2="953.2" y2="258.4" stroke="#8a8a8a" stroke-width="1.2"/>
<text x="940" y="263.0" font-size="13" text-anchor="end" font-weight="normal" fill="#231f20">20</text>
<line x1="1014.4" y1="340.0" x2="1014.4" y2="347" stroke="#8a8a8a" stroke-width="1.2"/>
<text x="1014.4" y="364" font-size="13" text-anchor="middle" font-weight="normal" fill="#231f20">6</text>
<line x1="1107.2" y1="340.0" x2="1107.2" y2="347" stroke="#8a8a8a" stroke-width="1.2"/>
<text x="1107.2" y="364" font-size="13" text-anchor="middle" font-weight="normal" fill="#231f20">8</text>
<text x="1069.5" y="389.5" font-size="15" text-anchor="middle" font-weight="normal" fill="#231f20" textLength="134" lengthAdjust="spacingAndGlyphs">FRET distance (nm)</text>
<text x="912" y="278" font-size="15" text-anchor="middle" font-weight="normal" fill="#231f20" textLength="42" lengthAdjust="spacingAndGlyphs" transform="rotate(-90 912 278)">Count</text>
<text transform="translate(898.70 221.40) scale(1.033 0.800)" x="0" y="0" font-size="21" font-weight="bold" fill="#000" stroke="#000" stroke-width="1.1" stroke-linejoin="round">d</text>
<rect x="0.5" y="443.5" width="252" height="233.5" fill="#f7fbff" stroke="#6b6b6b" stroke-width="1"/>
<g shape-rendering="crispEdges">
<rect x="127.40" y="497.00" width="9.10" height="9.05" fill="#deebf7"/>
<rect x="136.45" y="497.00" width="9.10" height="9.05" fill="#deebf7"/>
<rect x="145.50" y="497.00" width="9.10" height="9.05" fill="#deebf7"/>
<rect x="154.55" y="497.00" width="9.10" height="9.05" fill="#deebf7"/>
<rect x="163.60" y="497.00" width="9.10" height="9.05" fill="#deebf7"/>
<rect x="172.65" y="497.00" width="9.10" height="9.05" fill="#deebf7"/>
<rect x="64.05" y="506.00" width="9.10" height="9.05" fill="#deebf7"/>
<rect x="73.10" y="506.00" width="9.10" height="9.05" fill="#deebf7"/>
<rect x="82.15" y="506.00" width="9.10" height="9.05" fill="#deebf7"/>
<rect x="145.50" y="506.00" width="9.10" height="9.05" fill="#9ecae1"/>
<rect x="154.55" y="506.00" width="9.10" height="9.05" fill="#9ecae1"/>
<rect x="163.60" y="506.00" width="9.10" height="9.05" fill="#deebf7"/>
<rect x="64.05" y="515.00" width="9.10" height="9.05" fill="#9ecae1"/>
<rect x="82.15" y="515.00" width="9.10" height="9.05" fill="#c6dbef"/>
<rect x="91.20" y="515.00" width="9.10" height="9.05" fill="#deebf7"/>
<rect x="100.25" y="515.00" width="9.10" height="9.05" fill="#deebf7"/>
<rect x="109.30" y="515.00" width="9.10" height="9.05" fill="#c6dbef"/>
<rect x="136.45" y="515.00" width="9.10" height="9.05" fill="#9ecae1"/>
<rect x="145.50" y="515.00" width="9.10" height="9.05" fill="#9ecae1"/>
<rect x="154.55" y="515.00" width="9.10" height="9.05" fill="#2171b5"/>
<rect x="163.60" y="515.00" width="9.10" height="9.05" fill="#9ecae1"/>
<rect x="172.65" y="515.00" width="9.10" height="9.05" fill="#deebf7"/>
<rect x="64.05" y="524.00" width="9.10" height="9.05" fill="#deebf7"/>
<rect x="73.10" y="524.00" width="9.10" height="9.05" fill="#c6dbef"/>
<rect x="82.15" y="524.00" width="9.10" height="9.05" fill="#6baed6"/>
<rect x="91.20" y="524.00" width="9.10" height="9.05" fill="#c6dbef"/>
<rect x="100.25" y="524.00" width="9.10" height="9.05" fill="#9ecae1"/>
<rect x="109.30" y="524.00" width="9.10" height="9.05" fill="#9ecae1"/>
<rect x="118.35" y="524.00" width="9.10" height="9.05" fill="#deebf7"/>
<rect x="127.40" y="524.00" width="9.10" height="9.05" fill="#c6dbef"/>
<rect x="145.50" y="524.00" width="9.10" height="9.05" fill="#c6dbef"/>
<rect x="154.55" y="524.00" width="9.10" height="9.05" fill="#9ecae1"/>
<rect x="163.60" y="524.00" width="9.10" height="9.05" fill="#deebf7"/>
<rect x="172.65" y="524.00" width="9.10" height="9.05" fill="#deebf7"/>
<rect x="64.05" y="533.00" width="9.10" height="9.05" fill="#deebf7"/>
<rect x="73.10" y="533.00" width="9.10" height="9.05" fill="#4292c6"/>
<rect x="82.15" y="533.00" width="9.10" height="9.05" fill="#c6dbef"/>
<rect x="91.20" y="533.00" width="9.10" height="9.05" fill="#9ecae1"/>
<rect x="100.25" y="533.00" width="9.10" height="9.05" fill="#6baed6"/>
<rect x="109.30" y="533.00" width="9.10" height="9.05" fill="#9ecae1"/>
<rect x="118.35" y="533.00" width="9.10" height="9.05" fill="#9ecae1"/>
<rect x="136.45" y="533.00" width="9.10" height="9.05" fill="#deebf7"/>
<rect x="145.50" y="533.00" width="9.10" height="9.05" fill="#deebf7"/>
<rect x="154.55" y="533.00" width="9.10" height="9.05" fill="#6baed6"/>
<rect x="163.60" y="533.00" width="9.10" height="9.05" fill="#deebf7"/>
<rect x="172.65" y="533.00" width="9.10" height="9.05" fill="#deebf7"/>
<rect x="190.75" y="533.00" width="9.10" height="9.05" fill="#deebf7"/>
<rect x="73.10" y="542.00" width="9.10" height="9.05" fill="#c6dbef"/>
<rect x="82.15" y="542.00" width="9.10" height="9.05" fill="#deebf7"/>
<rect x="91.20" y="542.00" width="9.10" height="9.05" fill="#c6dbef"/>
<rect x="100.25" y="542.00" width="9.10" height="9.05" fill="#4292c6"/>
<rect x="109.30" y="542.00" width="9.10" height="9.05" fill="#c6dbef"/>
<rect x="118.35" y="542.00" width="9.10" height="9.05" fill="#deebf7"/>
<rect x="127.40" y="542.00" width="9.10" height="9.05" fill="#deebf7"/>
<rect x="172.65" y="542.00" width="9.10" height="9.05" fill="#deebf7"/>
<rect x="91.20" y="551.00" width="9.10" height="9.05" fill="#c6dbef"/>
<rect x="100.25" y="551.00" width="9.10" height="9.05" fill="#9ecae1"/>
<rect x="109.30" y="551.00" width="9.10" height="9.05" fill="#c6dbef"/>
<rect x="127.40" y="551.00" width="9.10" height="9.05" fill="#deebf7"/>
<rect x="136.45" y="551.00" width="9.10" height="9.05" fill="#deebf7"/>
<rect x="181.70" y="551.00" width="9.10" height="9.05" fill="#deebf7"/>
<rect x="82.15" y="560.00" width="9.10" height="9.05" fill="#deebf7"/>
<rect x="100.25" y="560.00" width="9.10" height="9.05" fill="#c6dbef"/>
<rect x="118.35" y="560.00" width="9.10" height="9.05" fill="#deebf7"/>
<rect x="127.40" y="560.00" width="9.10" height="9.05" fill="#c6dbef"/>
<rect x="136.45" y="560.00" width="9.10" height="9.05" fill="#deebf7"/>
<rect x="145.50" y="560.00" width="9.10" height="9.05" fill="#9ecae1"/>
<rect x="154.55" y="560.00" width="9.10" height="9.05" fill="#9ecae1"/>
<rect x="109.30" y="569.00" width="9.10" height="9.05" fill="#c6dbef"/>
<rect x="118.35" y="569.00" width="9.10" height="9.05" fill="#deebf7"/>
<rect x="136.45" y="569.00" width="9.10" height="9.05" fill="#9ecae1"/>
<rect x="145.50" y="569.00" width="9.10" height="9.05" fill="#4292c6"/>
<rect x="154.55" y="569.00" width="9.10" height="9.05" fill="#4292c6"/>
<rect x="172.65" y="569.00" width="9.10" height="9.05" fill="#deebf7"/>
<rect x="100.25" y="578.00" width="9.10" height="9.05" fill="#deebf7"/>
<rect x="109.30" y="578.00" width="9.10" height="9.05" fill="#c6dbef"/>
<rect x="118.35" y="578.00" width="9.10" height="9.05" fill="#6baed6"/>
<rect x="127.40" y="578.00" width="9.10" height="9.05" fill="#4292c6"/>
<rect x="136.45" y="578.00" width="9.10" height="9.05" fill="#2171b5"/>
<rect x="145.50" y="578.00" width="9.10" height="9.05" fill="#08306b"/>
<rect x="154.55" y="578.00" width="9.10" height="9.05" fill="#4292c6"/>
<rect x="163.60" y="578.00" width="9.10" height="9.05" fill="#9ecae1"/>
<rect x="109.30" y="587.00" width="9.10" height="9.05" fill="#c6dbef"/>
<rect x="118.35" y="587.00" width="9.10" height="9.05" fill="#deebf7"/>
<rect x="127.40" y="587.00" width="9.10" height="9.05" fill="#c6dbef"/>
<rect x="136.45" y="587.00" width="9.10" height="9.05" fill="#deebf7"/>
<rect x="145.50" y="587.00" width="9.10" height="9.05" fill="#6baed6"/>
<rect x="154.55" y="587.00" width="9.10" height="9.05" fill="#08519c"/>
<rect x="163.60" y="587.00" width="9.10" height="9.05" fill="#c6dbef"/>
<rect x="172.65" y="587.00" width="9.10" height="9.05" fill="#c6dbef"/>
<rect x="127.40" y="596.00" width="9.10" height="9.05" fill="#deebf7"/>
<rect x="136.45" y="596.00" width="9.10" height="9.05" fill="#deebf7"/>
<rect x="145.50" y="596.00" width="9.10" height="9.05" fill="#c6dbef"/>
<rect x="154.55" y="596.00" width="9.10" height="9.05" fill="#deebf7"/>
<rect x="163.60" y="596.00" width="9.10" height="9.05" fill="#deebf7"/>
<rect x="118.35" y="605.00" width="9.10" height="9.05" fill="#deebf7"/>
<rect x="127.40" y="605.00" width="9.10" height="9.05" fill="#deebf7"/>
<rect x="145.50" y="605.00" width="9.10" height="9.05" fill="#deebf7"/>
<rect x="154.55" y="605.00" width="9.10" height="9.05" fill="#deebf7"/>
<rect x="172.65" y="605.00" width="9.10" height="9.05" fill="#deebf7"/>
</g>
<defs><linearGradient id="gBl" x1="0" y1="1" x2="0" y2="0"><stop offset="0.000" stop-color="#f7fbff"/><stop offset="0.125" stop-color="#deebf7"/><stop offset="0.250" stop-color="#c6dbef"/><stop offset="0.375" stop-color="#9ecae1"/><stop offset="0.500" stop-color="#6baed6"/><stop offset="0.625" stop-color="#4292c6"/><stop offset="0.750" stop-color="#2171b5"/><stop offset="0.875" stop-color="#08519c"/><stop offset="1.000" stop-color="#08306b"/></linearGradient></defs>
<rect x="11.5" y="493" width="15.5" height="174" fill="url(#gBl)" stroke="#555" stroke-width="0.8"/>
<text x="19.3" y="509.6" font-size="14" text-anchor="middle" font-weight="normal" fill="#fff">8</text>
<text x="19.3" y="664.4" font-size="16" text-anchor="middle" font-weight="normal" fill="#111">0</text>
<text x="24.5" y="576" font-size="15" text-anchor="middle" font-weight="normal" fill="#fff" textLength="50.4" lengthAdjust="spacingAndGlyphs" transform="rotate(-90 24.5 576)">Counts</text>
<rect x="188" y="654.5" width="48.5" height="4.3" fill="#000"/>
<text x="195" y="647.5" font-size="15" text-anchor="start" font-weight="normal" fill="#231f20" textLength="34.5" lengthAdjust="spacingAndGlyphs">5 nm</text>
<text transform="translate(0.50 430.70) scale(1.025 1.000)" x="0" y="0" font-size="21" font-weight="bold" fill="#000" stroke="#000" stroke-width="1.1" stroke-linejoin="round">e</text>
<rect x="282.9" y="443.5" width="252.3" height="233.5" fill="#fff" stroke="#7a7a7a" stroke-width="1"/>
<g shape-rendering="crispEdges">
<rect x="408.90" y="496.60" width="9.10" height="9.05" fill="#c8e020"/>
<rect x="417.95" y="496.60" width="9.10" height="9.05" fill="#fde725"/>
<rect x="427.00" y="496.60" width="9.10" height="9.05" fill="#bddf26"/>
<rect x="436.05" y="496.60" width="9.10" height="9.05" fill="#fde725"/>
<rect x="445.10" y="496.60" width="9.10" height="9.05" fill="#bddf26"/>
<rect x="454.15" y="496.60" width="9.10" height="9.05" fill="#c8e020"/>
<rect x="345.55" y="505.60" width="9.10" height="9.05" fill="#3b5a8c"/>
<rect x="354.60" y="505.60" width="9.10" height="9.05" fill="#35608d"/>
<rect x="363.65" y="505.60" width="9.10" height="9.05" fill="#35608d"/>
<rect x="427.00" y="505.60" width="9.10" height="9.05" fill="#c2df23"/>
<rect x="436.05" y="505.60" width="9.10" height="9.05" fill="#d0e11c"/>
<rect x="445.10" y="505.60" width="9.10" height="9.05" fill="#d8e219"/>
<rect x="345.55" y="514.60" width="9.10" height="9.05" fill="#2c6e8e"/>
<rect x="363.65" y="514.60" width="9.10" height="9.05" fill="#2c718e"/>
<rect x="372.70" y="514.60" width="9.10" height="9.05" fill="#472a7a"/>
<rect x="381.75" y="514.60" width="9.10" height="9.05" fill="#2c6e8e"/>
<rect x="390.80" y="514.60" width="9.10" height="9.05" fill="#450c5c"/>
<rect x="417.95" y="514.60" width="9.10" height="9.05" fill="#d8e219"/>
<rect x="427.00" y="514.60" width="9.10" height="9.05" fill="#dde318"/>
<rect x="436.05" y="514.60" width="9.10" height="9.05" fill="#bddf26"/>
<rect x="445.10" y="514.60" width="9.10" height="9.05" fill="#c8e020"/>
<rect x="454.15" y="514.60" width="9.10" height="9.05" fill="#b5de2b"/>
<rect x="345.55" y="523.60" width="9.10" height="9.05" fill="#355f8d"/>
<rect x="354.60" y="523.60" width="9.10" height="9.05" fill="#2a768e"/>
<rect x="363.65" y="523.60" width="9.10" height="9.05" fill="#2c6f8e"/>
<rect x="372.70" y="523.60" width="9.10" height="9.05" fill="#24868e"/>
<rect x="381.75" y="523.60" width="9.10" height="9.05" fill="#2b708e"/>
<rect x="390.80" y="523.60" width="9.10" height="9.05" fill="#3e4989"/>
<rect x="399.85" y="523.60" width="9.10" height="9.05" fill="#33628d"/>
<rect x="408.90" y="523.60" width="9.10" height="9.05" fill="#35b779"/>
<rect x="427.00" y="523.60" width="9.10" height="9.05" fill="#a5db36"/>
<rect x="436.05" y="523.60" width="9.10" height="9.05" fill="#c2df23"/>
<rect x="445.10" y="523.60" width="9.10" height="9.05" fill="#d0e11c"/>
<rect x="454.15" y="523.60" width="9.10" height="9.05" fill="#9fda3a"/>
<rect x="345.55" y="532.60" width="9.10" height="9.05" fill="#2a788e"/>
<rect x="354.60" y="532.60" width="9.10" height="9.05" fill="#2c718e"/>
<rect x="363.65" y="532.60" width="9.10" height="9.05" fill="#355f8d"/>
<rect x="372.70" y="532.60" width="9.10" height="9.05" fill="#30688e"/>
<rect x="381.75" y="532.60" width="9.10" height="9.05" fill="#2c718e"/>
<rect x="390.80" y="532.60" width="9.10" height="9.05" fill="#2c718e"/>
<rect x="399.85" y="532.60" width="9.10" height="9.05" fill="#2c718e"/>
<rect x="417.95" y="532.60" width="9.10" height="9.05" fill="#bddf26"/>
<rect x="427.00" y="532.60" width="9.10" height="9.05" fill="#c8e020"/>
<rect x="436.05" y="532.60" width="9.10" height="9.05" fill="#bddf26"/>
<rect x="445.10" y="532.60" width="9.10" height="9.05" fill="#d8e219"/>
<rect x="454.15" y="532.60" width="9.10" height="9.05" fill="#a5db36"/>
<rect x="472.25" y="532.60" width="9.10" height="9.05" fill="#b5de2b"/>
<rect x="354.60" y="541.60" width="9.10" height="9.05" fill="#31678e"/>
<rect x="363.65" y="541.60" width="9.10" height="9.05" fill="#2a788e"/>
<rect x="372.70" y="541.60" width="9.10" height="9.05" fill="#33628d"/>
<rect x="381.75" y="541.60" width="9.10" height="9.05" fill="#2c728e"/>
<rect x="390.80" y="541.60" width="9.10" height="9.05" fill="#2a788e"/>
<rect x="399.85" y="541.60" width="9.10" height="9.05" fill="#33628d"/>
<rect x="408.90" y="541.60" width="9.10" height="9.05" fill="#433e85"/>
<rect x="454.15" y="541.60" width="9.10" height="9.05" fill="#dde318"/>
<rect x="372.70" y="550.60" width="9.10" height="9.05" fill="#2a788e"/>
<rect x="381.75" y="550.60" width="9.10" height="9.05" fill="#33628d"/>
<rect x="390.80" y="550.60" width="9.10" height="9.05" fill="#2c6e8e"/>
<rect x="408.90" y="550.60" width="9.10" height="9.05" fill="#3e4a89"/>
<rect x="417.95" y="550.60" width="9.10" height="9.05" fill="#472f7d"/>
<rect x="463.20" y="550.60" width="9.10" height="9.05" fill="#b5de2b"/>
<rect x="363.65" y="559.60" width="9.10" height="9.05" fill="#2e6a8e"/>
<rect x="381.75" y="559.60" width="9.10" height="9.05" fill="#2c718e"/>
<rect x="399.85" y="559.60" width="9.10" height="9.05" fill="#2a768e"/>
<rect x="408.90" y="559.60" width="9.10" height="9.05" fill="#46206f"/>
<rect x="417.95" y="559.60" width="9.10" height="9.05" fill="#2a788e"/>
<rect x="427.00" y="559.60" width="9.10" height="9.05" fill="#3b528b"/>
<rect x="436.05" y="559.60" width="9.10" height="9.05" fill="#481f70"/>
<rect x="390.80" y="568.60" width="9.10" height="9.05" fill="#48287a"/>
<rect x="399.85" y="568.60" width="9.10" height="9.05" fill="#450f5f"/>
<rect x="417.95" y="568.60" width="9.10" height="9.05" fill="#450e5e"/>
<rect x="427.00" y="568.60" width="9.10" height="9.05" fill="#450c5c"/>
<rect x="436.05" y="568.60" width="9.10" height="9.05" fill="#46186c"/>
<rect x="454.15" y="568.60" width="9.10" height="9.05" fill="#46186c"/>
<rect x="381.75" y="577.60" width="9.10" height="9.05" fill="#46206f"/>
<rect x="390.80" y="577.60" width="9.10" height="9.05" fill="#3b528b"/>
<rect x="399.85" y="577.60" width="9.10" height="9.05" fill="#440a58"/>
<rect x="408.90" y="577.60" width="9.10" height="9.05" fill="#46176b"/>
<rect x="417.95" y="577.60" width="9.10" height="9.05" fill="#461a6d"/>
<rect x="427.00" y="577.60" width="9.10" height="9.05" fill="#45105f"/>
<rect x="436.05" y="577.60" width="9.10" height="9.05" fill="#440b59"/>
<rect x="445.10" y="577.60" width="9.10" height="9.05" fill="#440b59"/>
<rect x="390.80" y="586.60" width="9.10" height="9.05" fill="#46206f"/>
<rect x="399.85" y="586.60" width="9.10" height="9.05" fill="#48287a"/>
<rect x="408.90" y="586.60" width="9.10" height="9.05" fill="#471669"/>
<rect x="417.95" y="586.60" width="9.10" height="9.05" fill="#46206f"/>
<rect x="427.00" y="586.60" width="9.10" height="9.05" fill="#45125f"/>
<rect x="436.05" y="586.60" width="9.10" height="9.05" fill="#45125f"/>
<rect x="445.10" y="586.60" width="9.10" height="9.05" fill="#47226f"/>
<rect x="454.15" y="586.60" width="9.10" height="9.05" fill="#46186c"/>
<rect x="408.90" y="595.60" width="9.10" height="9.05" fill="#46186c"/>
<rect x="417.95" y="595.60" width="9.10" height="9.05" fill="#450e5e"/>
<rect x="427.00" y="595.60" width="9.10" height="9.05" fill="#46176b"/>
<rect x="436.05" y="595.60" width="9.10" height="9.05" fill="#47226f"/>
<rect x="445.10" y="595.60" width="9.10" height="9.05" fill="#47226f"/>
<rect x="399.85" y="604.60" width="9.10" height="9.05" fill="#43024f"/>
<rect x="408.90" y="604.60" width="9.10" height="9.05" fill="#450e5e"/>
<rect x="427.00" y="604.60" width="9.10" height="9.05" fill="#472a7a"/>
<rect x="436.05" y="604.60" width="9.10" height="9.05" fill="#46206f"/>
<rect x="454.15" y="604.60" width="9.10" height="9.05" fill="#46186c"/>
</g>
<defs><linearGradient id="gVi" x1="0" y1="1" x2="0" y2="0"><stop offset="0.00" stop-color="#440154"/><stop offset="0.10" stop-color="#482475"/><stop offset="0.20" stop-color="#414487"/><stop offset="0.30" stop-color="#355f8d"/><stop offset="0.40" stop-color="#2a788e"/><stop offset="0.50" stop-color="#21918c"/><stop offset="0.60" stop-color="#22a884"/><stop offset="0.70" stop-color="#44bf70"/><stop offset="0.80" stop-color="#7ad151"/><stop offset="0.90" stop-color="#bddf26"/><stop offset="1.00" stop-color="#fde725"/></linearGradient></defs>
<rect x="541.2" y="443.6" width="12.2" height="234.5" fill="url(#gVi)" stroke="#333" stroke-width="0.6"/>
<line x1="553.5" y1="480.6" x2="560.6" y2="480.6" stroke="#555" stroke-width="1"/>
<text x="566.3" y="485.40000000000003" font-size="13.6" text-anchor="start" font-weight="normal" fill="#231f20">2.5</text>
<line x1="553.5" y1="526.6" x2="560.6" y2="526.6" stroke="#555" stroke-width="1"/>
<text x="566.3" y="531.4" font-size="13.6" text-anchor="start" font-weight="normal" fill="#231f20">2.0</text>
<line x1="553.5" y1="572.6" x2="560.6" y2="572.6" stroke="#555" stroke-width="1"/>
<text x="566.3" y="577.4" font-size="13.6" text-anchor="start" font-weight="normal" fill="#231f20">1.5</text>
<line x1="553.5" y1="618.6" x2="560.6" y2="618.6" stroke="#555" stroke-width="1"/>
<text x="566.3" y="623.4" font-size="13.6" text-anchor="start" font-weight="normal" fill="#231f20">1.0</text>
<line x1="553.5" y1="664.6" x2="560.6" y2="664.6" stroke="#555" stroke-width="1"/>
<text x="566.3" y="669.4" font-size="13.6" text-anchor="start" font-weight="normal" fill="#231f20">0.5</text>
<text x="599.5" y="560.2" font-size="15" text-anchor="middle" font-weight="normal" fill="#231f20" textLength="103.2" lengthAdjust="spacingAndGlyphs" transform="rotate(90 599.5 560.2)">Fl. lifetime (ns)</text>
<rect x="472" y="654.4" width="48" height="4.3" fill="#000"/>
<text x="478.9" y="647.4" font-size="15" text-anchor="start" font-weight="normal" fill="#231f20" textLength="34.2" lengthAdjust="spacingAndGlyphs">5 nm</text>
<text transform="translate(283.10 430.26) scale(1.012 0.935)" x="0" y="0" font-size="21" font-weight="bold" fill="#000" stroke="#000" stroke-width="1.1" stroke-linejoin="round">f</text>
<defs><clipPath id="ch"><rect x="917.2" y="444.3" width="250.4" height="228.5"/></clipPath></defs>
<rect x="916" y="442.9" width="284" height="233.6" fill="#000"/>
<rect x="917.2" y="444.3" width="250.4" height="228.5" fill="#0b0000"/>
<g shape-rendering="crispEdges" clip-path="url(#ch)">
<rect x="1041.90" y="495.20" width="9.15" height="9.15" fill="#00004a"/>
<rect x="1051.00" y="495.20" width="9.15" height="9.15" fill="#00004a"/>
<rect x="1060.10" y="495.20" width="9.15" height="9.15" fill="#00004a"/>
<rect x="1069.20" y="495.20" width="9.15" height="9.15" fill="#00004a"/>
<rect x="1078.30" y="495.20" width="9.15" height="9.15" fill="#00004a"/>
<rect x="1087.40" y="495.20" width="9.15" height="9.15" fill="#00004a"/>
<rect x="978.20" y="504.30" width="9.15" height="9.15" fill="#033503"/>
<rect x="987.30" y="504.30" width="9.15" height="9.15" fill="#033503"/>
<rect x="996.40" y="504.30" width="9.15" height="9.15" fill="#033503"/>
<rect x="1060.10" y="504.30" width="9.15" height="9.15" fill="#0000b0"/>
<rect x="1069.20" y="504.30" width="9.15" height="9.15" fill="#0000b0"/>
<rect x="1078.30" y="504.30" width="9.15" height="9.15" fill="#00004a"/>
<rect x="978.20" y="513.40" width="9.15" height="9.15" fill="#00a000"/>
<rect x="996.40" y="513.40" width="9.15" height="9.15" fill="#006a00"/>
<rect x="1005.50" y="513.40" width="9.15" height="9.15" fill="#500000"/>
<rect x="1014.60" y="513.40" width="9.15" height="9.15" fill="#003800"/>
<rect x="1023.70" y="513.40" width="9.15" height="9.15" fill="#800000"/>
<rect x="1051.00" y="513.40" width="9.15" height="9.15" fill="#0000c0"/>
<rect x="1060.10" y="513.40" width="9.15" height="9.15" fill="#0000c8"/>
<rect x="1069.20" y="513.40" width="9.15" height="9.15" fill="#0000ff"/>
<rect x="1078.30" y="513.40" width="9.15" height="9.15" fill="#0000c0"/>
<rect x="1087.40" y="513.40" width="9.15" height="9.15" fill="#00004a"/>
<rect x="978.20" y="522.50" width="9.15" height="9.15" fill="#033503"/>
<rect x="987.30" y="522.50" width="9.15" height="9.15" fill="#006800"/>
<rect x="996.40" y="522.50" width="9.15" height="9.15" fill="#00c000"/>
<rect x="1005.50" y="522.50" width="9.15" height="9.15" fill="#006800"/>
<rect x="1014.60" y="522.50" width="9.15" height="9.15" fill="#009800"/>
<rect x="1023.70" y="522.50" width="9.15" height="9.15" fill="#406000"/>
<rect x="1032.80" y="522.50" width="9.15" height="9.15" fill="#003000"/>
<rect x="1041.90" y="522.50" width="9.15" height="9.15" fill="#003838"/>
<rect x="1060.10" y="522.50" width="9.15" height="9.15" fill="#000090"/>
<rect x="1069.20" y="522.50" width="9.15" height="9.15" fill="#0000b0"/>
<rect x="1078.30" y="522.50" width="9.15" height="9.15" fill="#00004a"/>
<rect x="1087.40" y="522.50" width="9.15" height="9.15" fill="#00004a"/>
<rect x="978.20" y="531.60" width="9.15" height="9.15" fill="#033503"/>
<rect x="987.30" y="531.60" width="9.15" height="9.15" fill="#00d800"/>
<rect x="996.40" y="531.60" width="9.15" height="9.15" fill="#006800"/>
<rect x="1005.50" y="531.60" width="9.15" height="9.15" fill="#009000"/>
<rect x="1014.60" y="531.60" width="9.15" height="9.15" fill="#00b000"/>
<rect x="1023.70" y="531.60" width="9.15" height="9.15" fill="#009800"/>
<rect x="1032.80" y="531.60" width="9.15" height="9.15" fill="#009800"/>
<rect x="1051.00" y="531.60" width="9.15" height="9.15" fill="#00004a"/>
<rect x="1060.10" y="531.60" width="9.15" height="9.15" fill="#00004a"/>
<rect x="1069.20" y="531.60" width="9.15" height="9.15" fill="#0000e0"/>
<rect x="1078.30" y="531.60" width="9.15" height="9.15" fill="#00004a"/>
<rect x="1087.40" y="531.60" width="9.15" height="9.15" fill="#00004a"/>
<rect x="1105.60" y="531.60" width="9.15" height="9.15" fill="#000030"/>
<rect x="987.30" y="540.70" width="9.15" height="9.15" fill="#007000"/>
<rect x="996.40" y="540.70" width="9.15" height="9.15" fill="#004000"/>
<rect x="1005.50" y="540.70" width="9.15" height="9.15" fill="#007800"/>
<rect x="1014.60" y="540.70" width="9.15" height="9.15" fill="#00e000"/>
<rect x="1023.70" y="540.70" width="9.15" height="9.15" fill="#007000"/>
<rect x="1032.80" y="540.70" width="9.15" height="9.15" fill="#003800"/>
<rect x="1041.90" y="540.70" width="9.15" height="9.15" fill="#003800"/>
<rect x="1087.40" y="540.70" width="9.15" height="9.15" fill="#00004a"/>
<rect x="1005.50" y="549.80" width="9.15" height="9.15" fill="#007800"/>
<rect x="1014.60" y="549.80" width="9.15" height="9.15" fill="#00a000"/>
<rect x="1023.70" y="549.80" width="9.15" height="9.15" fill="#007800"/>
<rect x="1041.90" y="549.80" width="9.15" height="9.15" fill="#004000"/>
<rect x="1051.00" y="549.80" width="9.15" height="9.15" fill="#500000"/>
<rect x="1096.50" y="549.80" width="9.15" height="9.15" fill="#00004a"/>
<rect x="996.40" y="558.90" width="9.15" height="9.15" fill="#004000"/>
<rect x="1014.60" y="558.90" width="9.15" height="9.15" fill="#007800"/>
<rect x="1032.80" y="558.90" width="9.15" height="9.15" fill="#004000"/>
<rect x="1041.90" y="558.90" width="9.15" height="9.15" fill="#800000"/>
<rect x="1051.00" y="558.90" width="9.15" height="9.15" fill="#004000"/>
<rect x="1060.10" y="558.90" width="9.15" height="9.15" fill="#703800"/>
<rect x="1069.20" y="558.90" width="9.15" height="9.15" fill="#703800"/>
<rect x="1023.70" y="568.00" width="9.15" height="9.15" fill="#900000"/>
<rect x="1032.80" y="568.00" width="9.15" height="9.15" fill="#500000"/>
<rect x="1051.00" y="568.00" width="9.15" height="9.15" fill="#b00000"/>
<rect x="1060.10" y="568.00" width="9.15" height="9.15" fill="#e00000"/>
<rect x="1069.20" y="568.00" width="9.15" height="9.15" fill="#e00000"/>
<rect x="1087.40" y="568.00" width="9.15" height="9.15" fill="#400000"/>
<rect x="1014.60" y="577.10" width="9.15" height="9.15" fill="#400000"/>
<rect x="1023.70" y="577.10" width="9.15" height="9.15" fill="#404000"/>
<rect x="1032.80" y="577.10" width="9.15" height="9.15" fill="#d00000"/>
<rect x="1041.90" y="577.10" width="9.15" height="9.15" fill="#d80000"/>
<rect x="1051.00" y="577.10" width="9.15" height="9.15" fill="#e80000"/>
<rect x="1060.10" y="577.10" width="9.15" height="9.15" fill="#ff0000"/>
<rect x="1069.20" y="577.10" width="9.15" height="9.15" fill="#f00000"/>
<rect x="1078.30" y="577.10" width="9.15" height="9.15" fill="#c00000"/>
<rect x="1023.70" y="586.20" width="9.15" height="9.15" fill="#900000"/>
<rect x="1032.80" y="586.20" width="9.15" height="9.15" fill="#500000"/>
<rect x="1041.90" y="586.20" width="9.15" height="9.15" fill="#800000"/>
<rect x="1051.00" y="586.20" width="9.15" height="9.15" fill="#500000"/>
<rect x="1060.10" y="586.20" width="9.15" height="9.15" fill="#d00000"/>
<rect x="1069.20" y="586.20" width="9.15" height="9.15" fill="#ff1010"/>
<rect x="1078.30" y="586.20" width="9.15" height="9.15" fill="#900000"/>
<rect x="1087.40" y="586.20" width="9.15" height="9.15" fill="#800000"/>
<rect x="1041.90" y="595.30" width="9.15" height="9.15" fill="#400000"/>
<rect x="1051.00" y="595.30" width="9.15" height="9.15" fill="#400000"/>
<rect x="1060.10" y="595.30" width="9.15" height="9.15" fill="#800000"/>
<rect x="1069.20" y="595.30" width="9.15" height="9.15" fill="#400000"/>
<rect x="1078.30" y="595.30" width="9.15" height="9.15" fill="#400000"/>
<rect x="1032.80" y="604.40" width="9.15" height="9.15" fill="#500000"/>
<rect x="1041.90" y="604.40" width="9.15" height="9.15" fill="#500000"/>
<rect x="1060.10" y="604.40" width="9.15" height="9.15" fill="#500000"/>
<rect x="1069.20" y="604.40" width="9.15" height="9.15" fill="#500000"/>
<rect x="1087.40" y="604.40" width="9.15" height="9.15" fill="#500000"/>
</g>
<circle cx="1017.4" cy="589.5" r="2.6" fill="#ff6a00"/><circle cx="1017.6" cy="589.2" r="1.4" fill="#ffee40"/>
<rect x="1008" y="581.5" width="18.2" height="16.5" rx="2" fill="none" stroke="#fff" stroke-width="2" stroke-dasharray="3.2 2.2"/>
<rect x="1106.3" y="451.6" width="85.2" height="83" fill="#0a0000"/>
<rect x="1136.9" y="451.6" width="42.7" height="22.9" fill="#380000"/>
<rect x="1136.9" y="474.5" width="42.7" height="32" fill="#160000"/>
<rect x="1179.6" y="451.6" width="11.9" height="22.9" fill="#3e3a00"/>
<rect x="1179.6" y="474.5" width="11.9" height="42" fill="#700000"/>
<g shape-rendering="crispEdges">
<rect x="1136.9" y="475.2" width="5.2" height="5.2" fill="#300000"/>
<rect x="1142.1" y="475.2" width="5.2" height="5.2" fill="#500000"/>
<rect x="1147.2" y="475.2" width="5.2" height="5.2" fill="#400000"/>
<rect x="1152.4" y="475.2" width="5.2" height="5.2" fill="#300000"/>
<rect x="1136.9" y="480.4" width="5.2" height="5.2" fill="#800000"/>
<rect x="1142.1" y="480.4" width="5.2" height="5.2" fill="#e00000"/>
<rect x="1147.2" y="480.4" width="5.2" height="5.2" fill="#e80000"/>
<rect x="1152.4" y="480.4" width="5.2" height="5.2" fill="#d00000"/>
<rect x="1157.5" y="480.4" width="5.2" height="5.2" fill="#600000"/>
<rect x="1136.9" y="485.5" width="5.2" height="5.2" fill="#a00000"/>
<rect x="1142.1" y="485.5" width="5.2" height="5.2" fill="#ff9000"/>
<rect x="1147.2" y="485.5" width="5.2" height="5.2" fill="#ffe000"/>
<rect x="1152.4" y="485.5" width="5.2" height="5.2" fill="#ff7000"/>
<rect x="1157.5" y="485.5" width="5.2" height="5.2" fill="#d00000"/>
<rect x="1162.7" y="485.5" width="5.2" height="5.2" fill="#400000"/>
<rect x="1136.9" y="490.7" width="5.2" height="5.2" fill="#800000"/>
<rect x="1142.1" y="490.7" width="5.2" height="5.2" fill="#ff8800"/>
<rect x="1147.2" y="490.7" width="5.2" height="5.2" fill="#ffffe0"/>
<rect x="1152.4" y="490.7" width="5.2" height="5.2" fill="#ffd800"/>
<rect x="1157.5" y="490.7" width="5.2" height="5.2" fill="#e00000"/>
<rect x="1162.7" y="490.7" width="5.2" height="5.2" fill="#400000"/>
<rect x="1142.1" y="495.8" width="5.2" height="5.2" fill="#c00000"/>
<rect x="1147.2" y="495.8" width="5.2" height="5.2" fill="#ff9000"/>
<rect x="1152.4" y="495.8" width="5.2" height="5.2" fill="#ffc000"/>
<rect x="1157.5" y="495.8" width="5.2" height="5.2" fill="#c00000"/>
<rect x="1162.7" y="495.8" width="5.2" height="5.2" fill="#300000"/>
<rect x="1147.2" y="501.0" width="5.2" height="5.2" fill="#a00000"/>
<rect x="1152.4" y="501.0" width="5.2" height="5.2" fill="#a00000"/>
<rect x="1157.5" y="501.0" width="5.2" height="5.2" fill="#600000"/>
</g>
<rect x="1106.3" y="451.6" width="85.2" height="83" fill="none" stroke="#fff" stroke-width="1.6"/>
<rect x="1142.8" y="525.8" width="44.2" height="4.7" fill="#fff"/>
<text x="1147.9" y="519.5" font-size="15" text-anchor="start" font-weight="normal" fill="#fff" textLength="33.2" lengthAdjust="spacingAndGlyphs">1 nm</text>
<rect x="1139.1" y="652.6" width="47.9" height="4.9" fill="#fff"/>
<text x="1142.8" y="645.5" font-size="17" text-anchor="start" font-weight="normal" fill="#fff" textLength="39.7" lengthAdjust="spacingAndGlyphs">5 nm</text>
<text transform="translate(914.03 430.63) scale(1.073 0.971)" x="0" y="0" font-size="21" font-weight="bold" fill="#000" stroke="#000" stroke-width="1.1" stroke-linejoin="round">h</text>
<defs><clipPath id="cg"><rect x="633" y="443.2" width="253" height="233.6"/></clipPath></defs>
<rect x="633.1" y="443.3" width="253" height="233.6" fill="#fff" stroke="#7a7a7a" stroke-width="1"/>
<g clip-path="url(#cg)">
<circle cx="735" cy="548" r="58" fill="#3a963a" fill-opacity="0.14"/>
<circle cx="796.0" cy="524.1" r="93.0" fill="none" stroke="#4646ff" stroke-opacity="0.038" stroke-width="12.0"/>
<circle cx="795.5" cy="512.6" r="93.1" fill="none" stroke="#4646ff" stroke-opacity="0.038" stroke-width="12.0"/>
<circle cx="806.9" cy="523.4" r="104.3" fill="none" stroke="#4646ff" stroke-opacity="0.038" stroke-width="12.0"/>
<circle cx="800.0" cy="523.2" r="96.7" fill="none" stroke="#4646ff" stroke-opacity="0.038" stroke-width="12.0"/>
<circle cx="784.7" cy="526.8" r="99.6" fill="none" stroke="#4646ff" stroke-opacity="0.038" stroke-width="12.0"/>
<circle cx="802.0" cy="506.5" r="79.3" fill="none" stroke="#4646ff" stroke-opacity="0.038" stroke-width="12.0"/>
<circle cx="790.9" cy="516.3" r="97.7" fill="none" stroke="#4646ff" stroke-opacity="0.038" stroke-width="12.0"/>
<circle cx="797.6" cy="524.2" r="89.2" fill="none" stroke="#4646ff" stroke-opacity="0.038" stroke-width="12.0"/>
<circle cx="800.5" cy="523.2" r="89.0" fill="none" stroke="#4646ff" stroke-opacity="0.038" stroke-width="12.0"/>
<circle cx="811.7" cy="524.5" r="105.8" fill="none" stroke="#4646ff" stroke-opacity="0.038" stroke-width="12.0"/>
<circle cx="793.0" cy="514.1" r="91.9" fill="none" stroke="#4646ff" stroke-opacity="0.038" stroke-width="12.0"/>
<circle cx="797.1" cy="525.1" r="97.2" fill="none" stroke="#4646ff" stroke-opacity="0.038" stroke-width="12.0"/>
<circle cx="794.4" cy="512.3" r="90.3" fill="none" stroke="#4646ff" stroke-opacity="0.038" stroke-width="12.0"/>
<circle cx="807.8" cy="513.5" r="97.2" fill="none" stroke="#4646ff" stroke-opacity="0.038" stroke-width="12.0"/>
<circle cx="801.4" cy="508.1" r="95.4" fill="none" stroke="#4646ff" stroke-opacity="0.038" stroke-width="12.0"/>
<circle cx="808.4" cy="503.9" r="92.1" fill="none" stroke="#4646ff" stroke-opacity="0.038" stroke-width="12.0"/>
<circle cx="797.2" cy="513.5" r="99.5" fill="none" stroke="#4646ff" stroke-opacity="0.038" stroke-width="12.0"/>
<circle cx="797.5" cy="508.3" r="102.5" fill="none" stroke="#4646ff" stroke-opacity="0.038" stroke-width="12.0"/>
<circle cx="803.4" cy="527.6" r="108.0" fill="none" stroke="#4646ff" stroke-opacity="0.038" stroke-width="12.0"/>
<circle cx="800.9" cy="521.0" r="83.3" fill="none" stroke="#4646ff" stroke-opacity="0.038" stroke-width="12.0"/>
<circle cx="802.9" cy="515.1" r="90.9" fill="none" stroke="#4646ff" stroke-opacity="0.038" stroke-width="12.0"/>
<circle cx="787.9" cy="512.3" r="90.2" fill="none" stroke="#4646ff" stroke-opacity="0.038" stroke-width="12.0"/>
<circle cx="808.3" cy="503.7" r="81.9" fill="none" stroke="#4646ff" stroke-opacity="0.038" stroke-width="12.0"/>
<circle cx="799.9" cy="531.5" r="100.2" fill="none" stroke="#4646ff" stroke-opacity="0.038" stroke-width="12.0"/>
<circle cx="782.8" cy="499.9" r="98.2" fill="none" stroke="#4646ff" stroke-opacity="0.038" stroke-width="12.0"/>
<circle cx="792.1" cy="511.0" r="103.8" fill="none" stroke="#4646ff" stroke-opacity="0.038" stroke-width="12.0"/>
<circle cx="806.8" cy="521.3" r="97.2" fill="none" stroke="#4646ff" stroke-opacity="0.038" stroke-width="12.0"/>
<circle cx="801.5" cy="532.8" r="100.6" fill="none" stroke="#4646ff" stroke-opacity="0.038" stroke-width="12.0"/>
<circle cx="802.1" cy="524.4" r="80.9" fill="none" stroke="#4646ff" stroke-opacity="0.038" stroke-width="12.0"/>
<circle cx="808.3" cy="527.6" r="99.8" fill="none" stroke="#4646ff" stroke-opacity="0.038" stroke-width="12.0"/>
<circle cx="782.2" cy="514.9" r="102.6" fill="none" stroke="#4646ff" stroke-opacity="0.038" stroke-width="12.0"/>
<circle cx="783.5" cy="518.5" r="104.2" fill="none" stroke="#4646ff" stroke-opacity="0.038" stroke-width="12.0"/>
<circle cx="787.5" cy="532.9" r="100.0" fill="none" stroke="#4646ff" stroke-opacity="0.038" stroke-width="12.0"/>
<circle cx="796.8" cy="522.6" r="100.8" fill="none" stroke="#4646ff" stroke-opacity="0.038" stroke-width="12.0"/>
<circle cx="799.0" cy="529.2" r="89.0" fill="none" stroke="#4646ff" stroke-opacity="0.038" stroke-width="12.0"/>
<circle cx="794.7" cy="528.3" r="95.2" fill="none" stroke="#4646ff" stroke-opacity="0.038" stroke-width="12.0"/>
<circle cx="791.0" cy="527.6" r="108.2" fill="none" stroke="#4646ff" stroke-opacity="0.038" stroke-width="12.0"/>
<circle cx="794.4" cy="509.0" r="93.8" fill="none" stroke="#4646ff" stroke-opacity="0.038" stroke-width="12.0"/>
<circle cx="796.8" cy="517.6" r="107.6" fill="none" stroke="#4646ff" stroke-opacity="0.038" stroke-width="12.0"/>
<circle cx="789.8" cy="530.1" r="83.6" fill="none" stroke="#4646ff" stroke-opacity="0.038" stroke-width="12.0"/>
<circle cx="829.1" cy="510.2" r="56.9" fill="none" stroke="#4646ff" stroke-opacity="0.062" stroke-width="12.0"/>
<circle cx="837.3" cy="508.7" r="50.0" fill="none" stroke="#4646ff" stroke-opacity="0.062" stroke-width="12.0"/>
<circle cx="833.8" cy="509.9" r="47.8" fill="none" stroke="#4646ff" stroke-opacity="0.062" stroke-width="12.0"/>
<circle cx="834.4" cy="509.9" r="49.0" fill="none" stroke="#4646ff" stroke-opacity="0.062" stroke-width="12.0"/>
<circle cx="836.8" cy="509.8" r="63.1" fill="none" stroke="#4646ff" stroke-opacity="0.062" stroke-width="12.0"/>
<circle cx="834.6" cy="504.9" r="46.4" fill="none" stroke="#4646ff" stroke-opacity="0.062" stroke-width="12.0"/>
<circle cx="832.9" cy="511.6" r="46.6" fill="none" stroke="#4646ff" stroke-opacity="0.062" stroke-width="12.0"/>
<circle cx="834.9" cy="516.2" r="31.0" fill="none" stroke="#4646ff" stroke-opacity="0.062" stroke-width="12.0"/>
<circle cx="827.4" cy="508.2" r="51.8" fill="none" stroke="#4646ff" stroke-opacity="0.062" stroke-width="12.0"/>
<circle cx="834.2" cy="504.8" r="53.6" fill="none" stroke="#4646ff" stroke-opacity="0.062" stroke-width="12.0"/>
<circle cx="834.4" cy="504.4" r="66.0" fill="none" stroke="#4646ff" stroke-opacity="0.062" stroke-width="12.0"/>
<circle cx="834.8" cy="504.2" r="48.3" fill="none" stroke="#4646ff" stroke-opacity="0.062" stroke-width="12.0"/>
<circle cx="831.9" cy="506.7" r="29.9" fill="none" stroke="#4646ff" stroke-opacity="0.062" stroke-width="12.0"/>
<circle cx="830.6" cy="512.0" r="40.8" fill="none" stroke="#4646ff" stroke-opacity="0.062" stroke-width="12.0"/>
<circle cx="832.7" cy="511.8" r="55.0" fill="none" stroke="#4646ff" stroke-opacity="0.062" stroke-width="12.0"/>
<circle cx="840.5" cy="498.5" r="46.5" fill="none" stroke="#4646ff" stroke-opacity="0.062" stroke-width="12.0"/>
<circle cx="831.3" cy="510.1" r="56.6" fill="none" stroke="#4646ff" stroke-opacity="0.062" stroke-width="12.0"/>
<circle cx="819.6" cy="512.4" r="38.9" fill="none" stroke="#4646ff" stroke-opacity="0.062" stroke-width="12.0"/>
<circle cx="836.4" cy="499.5" r="50.2" fill="none" stroke="#4646ff" stroke-opacity="0.062" stroke-width="12.0"/>
<circle cx="839.0" cy="506.3" r="50.3" fill="none" stroke="#4646ff" stroke-opacity="0.062" stroke-width="12.0"/>
<circle cx="837.0" cy="507.7" r="48.4" fill="none" stroke="#4646ff" stroke-opacity="0.062" stroke-width="12.0"/>
<circle cx="840.7" cy="512.2" r="46.9" fill="none" stroke="#4646ff" stroke-opacity="0.062" stroke-width="12.0"/>
<circle cx="846.7" cy="501.3" r="55.4" fill="none" stroke="#4646ff" stroke-opacity="0.062" stroke-width="12.0"/>
<circle cx="831.7" cy="507.7" r="53.9" fill="none" stroke="#4646ff" stroke-opacity="0.062" stroke-width="12.0"/>
<circle cx="834.1" cy="510.2" r="38.3" fill="none" stroke="#4646ff" stroke-opacity="0.062" stroke-width="12.0"/>
<circle cx="825.5" cy="510.1" r="42.3" fill="none" stroke="#4646ff" stroke-opacity="0.062" stroke-width="12.0"/>
<circle cx="827.9" cy="499.6" r="57.9" fill="none" stroke="#4646ff" stroke-opacity="0.062" stroke-width="12.0"/>
<circle cx="836.7" cy="514.4" r="42.4" fill="none" stroke="#4646ff" stroke-opacity="0.062" stroke-width="12.0"/>
<circle cx="833.0" cy="501.3" r="54.4" fill="none" stroke="#4646ff" stroke-opacity="0.062" stroke-width="12.0"/>
<circle cx="840.9" cy="502.5" r="59.9" fill="none" stroke="#4646ff" stroke-opacity="0.062" stroke-width="12.0"/>
<circle cx="837.9" cy="506.1" r="35.2" fill="none" stroke="#4646ff" stroke-opacity="0.062" stroke-width="12.0"/>
<circle cx="840.0" cy="506.5" r="44.8" fill="none" stroke="#4646ff" stroke-opacity="0.062" stroke-width="12.0"/>
<circle cx="835.0" cy="509.0" r="59.5" fill="none" stroke="#4646ff" stroke-opacity="0.062" stroke-width="12.0"/>
<circle cx="827.9" cy="512.7" r="59.4" fill="none" stroke="#4646ff" stroke-opacity="0.062" stroke-width="12.0"/>
<circle cx="840.3" cy="506.1" r="43.8" fill="none" stroke="#4646ff" stroke-opacity="0.062" stroke-width="12.0"/>
<circle cx="838.1" cy="507.6" r="49.9" fill="none" stroke="#4646ff" stroke-opacity="0.062" stroke-width="12.0"/>
<circle cx="840.1" cy="505.7" r="32.9" fill="none" stroke="#4646ff" stroke-opacity="0.062" stroke-width="12.0"/>
<circle cx="831.1" cy="497.7" r="54.7" fill="none" stroke="#4646ff" stroke-opacity="0.062" stroke-width="12.0"/>
<circle cx="834.6" cy="503.9" r="48.9" fill="none" stroke="#4646ff" stroke-opacity="0.062" stroke-width="12.0"/>
<circle cx="837.2" cy="507.4" r="58.3" fill="none" stroke="#4646ff" stroke-opacity="0.062" stroke-width="12.0"/>
<circle cx="832.7" cy="512.2" r="59.4" fill="none" stroke="#4646ff" stroke-opacity="0.062" stroke-width="12.0"/>
<circle cx="841.0" cy="503.6" r="55.2" fill="none" stroke="#4646ff" stroke-opacity="0.062" stroke-width="12.0"/>
<circle cx="823.6" cy="501.6" r="35.3" fill="none" stroke="#4646ff" stroke-opacity="0.062" stroke-width="12.0"/>
<circle cx="838.3" cy="500.8" r="48.9" fill="none" stroke="#4646ff" stroke-opacity="0.062" stroke-width="12.0"/>
<circle cx="832.0" cy="506.9" r="44.9" fill="none" stroke="#4646ff" stroke-opacity="0.062" stroke-width="12.0"/>
<circle cx="737.6" cy="560.5" r="68.4" fill="none" stroke="#3a963a" stroke-opacity="0.04" stroke-width="12.0"/>
<circle cx="739.7" cy="555.0" r="66.0" fill="none" stroke="#3a963a" stroke-opacity="0.04" stroke-width="12.0"/>
<circle cx="727.2" cy="544.1" r="78.7" fill="none" stroke="#3a963a" stroke-opacity="0.04" stroke-width="12.0"/>
<circle cx="724.5" cy="543.8" r="78.1" fill="none" stroke="#3a963a" stroke-opacity="0.04" stroke-width="12.0"/>
<circle cx="741.5" cy="548.1" r="76.1" fill="none" stroke="#3a963a" stroke-opacity="0.04" stroke-width="12.0"/>
<circle cx="737.2" cy="539.7" r="52.4" fill="none" stroke="#3a963a" stroke-opacity="0.04" stroke-width="12.0"/>
<circle cx="731.5" cy="554.5" r="62.3" fill="none" stroke="#3a963a" stroke-opacity="0.04" stroke-width="12.0"/>
<circle cx="729.7" cy="542.6" r="52.7" fill="none" stroke="#3a963a" stroke-opacity="0.04" stroke-width="12.0"/>
<circle cx="735.2" cy="539.7" r="71.6" fill="none" stroke="#3a963a" stroke-opacity="0.04" stroke-width="12.0"/>
<circle cx="719.5" cy="550.3" r="61.6" fill="none" stroke="#3a963a" stroke-opacity="0.04" stroke-width="12.0"/>
<circle cx="722.4" cy="553.1" r="65.2" fill="none" stroke="#3a963a" stroke-opacity="0.04" stroke-width="12.0"/>
<circle cx="720.4" cy="541.9" r="70.9" fill="none" stroke="#3a963a" stroke-opacity="0.04" stroke-width="12.0"/>
<circle cx="732.8" cy="553.5" r="75.5" fill="none" stroke="#3a963a" stroke-opacity="0.04" stroke-width="12.0"/>
<circle cx="740.7" cy="550.3" r="81.3" fill="none" stroke="#3a963a" stroke-opacity="0.04" stroke-width="12.0"/>
<circle cx="740.6" cy="551.2" r="47.2" fill="none" stroke="#3a963a" stroke-opacity="0.04" stroke-width="12.0"/>
<circle cx="742.3" cy="557.2" r="65.0" fill="none" stroke="#3a963a" stroke-opacity="0.04" stroke-width="12.0"/>
<circle cx="732.7" cy="561.6" r="50.4" fill="none" stroke="#3a963a" stroke-opacity="0.04" stroke-width="12.0"/>
<circle cx="739.3" cy="565.0" r="58.7" fill="none" stroke="#3a963a" stroke-opacity="0.04" stroke-width="12.0"/>
<circle cx="740.8" cy="561.2" r="66.8" fill="none" stroke="#3a963a" stroke-opacity="0.04" stroke-width="12.0"/>
<circle cx="739.9" cy="554.3" r="58.9" fill="none" stroke="#3a963a" stroke-opacity="0.04" stroke-width="12.0"/>
<circle cx="735.4" cy="550.0" r="76.3" fill="none" stroke="#3a963a" stroke-opacity="0.04" stroke-width="12.0"/>
<circle cx="735.8" cy="546.6" r="57.8" fill="none" stroke="#3a963a" stroke-opacity="0.04" stroke-width="12.0"/>
<circle cx="733.5" cy="554.2" r="69.0" fill="none" stroke="#3a963a" stroke-opacity="0.04" stroke-width="12.0"/>
<circle cx="730.0" cy="542.1" r="94.7" fill="none" stroke="#3a963a" stroke-opacity="0.04" stroke-width="12.0"/>
<circle cx="744.0" cy="552.5" r="42.1" fill="none" stroke="#3a963a" stroke-opacity="0.04" stroke-width="12.0"/>
<circle cx="740.4" cy="551.4" r="84.8" fill="none" stroke="#3a963a" stroke-opacity="0.04" stroke-width="12.0"/>
<circle cx="739.0" cy="547.5" r="73.2" fill="none" stroke="#3a963a" stroke-opacity="0.04" stroke-width="12.0"/>
<circle cx="722.4" cy="555.2" r="71.2" fill="none" stroke="#3a963a" stroke-opacity="0.04" stroke-width="12.0"/>
<circle cx="731.1" cy="557.3" r="86.1" fill="none" stroke="#3a963a" stroke-opacity="0.04" stroke-width="12.0"/>
<circle cx="726.2" cy="543.3" r="70.9" fill="none" stroke="#3a963a" stroke-opacity="0.04" stroke-width="12.0"/>
<circle cx="737.3" cy="545.2" r="58.3" fill="none" stroke="#3a963a" stroke-opacity="0.04" stroke-width="12.0"/>
<circle cx="750.8" cy="555.3" r="56.1" fill="none" stroke="#3a963a" stroke-opacity="0.04" stroke-width="12.0"/>
<circle cx="726.6" cy="559.9" r="77.9" fill="none" stroke="#3a963a" stroke-opacity="0.04" stroke-width="12.0"/>
<circle cx="748.7" cy="553.7" r="59.3" fill="none" stroke="#3a963a" stroke-opacity="0.04" stroke-width="12.0"/>
<circle cx="737.8" cy="532.9" r="60.5" fill="none" stroke="#3a963a" stroke-opacity="0.04" stroke-width="12.0"/>
<circle cx="735.6" cy="551.7" r="60.7" fill="none" stroke="#3a963a" stroke-opacity="0.04" stroke-width="12.0"/>
<circle cx="735.1" cy="551.2" r="71.8" fill="none" stroke="#3a963a" stroke-opacity="0.04" stroke-width="12.0"/>
<circle cx="740.5" cy="549.5" r="64.8" fill="none" stroke="#3a963a" stroke-opacity="0.04" stroke-width="12.0"/>
<circle cx="741.5" cy="548.3" r="59.7" fill="none" stroke="#3a963a" stroke-opacity="0.04" stroke-width="12.0"/>
<circle cx="731.6" cy="548.0" r="66.9" fill="none" stroke="#3a963a" stroke-opacity="0.04" stroke-width="12.0"/>
<circle cx="737.1" cy="548.0" r="69.8" fill="none" stroke="#3a963a" stroke-opacity="0.04" stroke-width="12.0"/>
<circle cx="735.1" cy="539.2" r="72.2" fill="none" stroke="#3a963a" stroke-opacity="0.04" stroke-width="12.0"/>
<circle cx="743.4" cy="551.0" r="66.1" fill="none" stroke="#3a963a" stroke-opacity="0.04" stroke-width="12.0"/>
<circle cx="739.1" cy="541.2" r="49.0" fill="none" stroke="#3a963a" stroke-opacity="0.04" stroke-width="12.0"/>
<circle cx="736.4" cy="541.5" r="75.4" fill="none" stroke="#3a963a" stroke-opacity="0.04" stroke-width="12.0"/>
<circle cx="728.4" cy="529.6" r="57.6" fill="none" stroke="#3a963a" stroke-opacity="0.04" stroke-width="12.0"/>
<circle cx="747.0" cy="545.3" r="54.3" fill="none" stroke="#3a963a" stroke-opacity="0.04" stroke-width="12.0"/>
<circle cx="730.7" cy="551.6" r="73.0" fill="none" stroke="#3a963a" stroke-opacity="0.04" stroke-width="12.0"/>
<circle cx="737.2" cy="558.4" r="75.1" fill="none" stroke="#3a963a" stroke-opacity="0.04" stroke-width="12.0"/>
<circle cx="735.9" cy="552.2" r="84.5" fill="none" stroke="#3a963a" stroke-opacity="0.04" stroke-width="12.0"/>
<circle cx="742.8" cy="555.2" r="57.2" fill="none" stroke="#3a963a" stroke-opacity="0.04" stroke-width="12.0"/>
<circle cx="735.0" cy="553.1" r="65.0" fill="none" stroke="#3a963a" stroke-opacity="0.04" stroke-width="12.0"/>
<circle cx="743.5" cy="552.2" r="77.1" fill="none" stroke="#3a963a" stroke-opacity="0.04" stroke-width="12.0"/>
<circle cx="734.5" cy="565.8" r="80.4" fill="none" stroke="#3a963a" stroke-opacity="0.04" stroke-width="12.0"/>
<circle cx="734.5" cy="548.6" r="94.0" fill="none" stroke="#3a963a" stroke-opacity="0.04" stroke-width="12.0"/>
<circle cx="733.6" cy="554.1" r="77.8" fill="none" stroke="#3a963a" stroke-opacity="0.04" stroke-width="12.0"/>
<circle cx="736.0" cy="539.8" r="69.9" fill="none" stroke="#3a963a" stroke-opacity="0.04" stroke-width="12.0"/>
<circle cx="738.5" cy="555.9" r="75.8" fill="none" stroke="#3a963a" stroke-opacity="0.04" stroke-width="12.0"/>
<circle cx="736.2" cy="554.0" r="73.4" fill="none" stroke="#3a963a" stroke-opacity="0.04" stroke-width="12.0"/>
<circle cx="737.4" cy="548.4" r="65.6" fill="none" stroke="#3a963a" stroke-opacity="0.04" stroke-width="12.0"/>
<circle cx="740.8" cy="540.6" r="61.7" fill="none" stroke="#3a963a" stroke-opacity="0.04" stroke-width="12.0"/>
<circle cx="736.0" cy="537.8" r="63.6" fill="none" stroke="#3a963a" stroke-opacity="0.04" stroke-width="12.0"/>
<circle cx="721.9" cy="543.2" r="73.7" fill="none" stroke="#3a963a" stroke-opacity="0.04" stroke-width="12.0"/>
<circle cx="740.0" cy="547.6" r="65.7" fill="none" stroke="#3a963a" stroke-opacity="0.04" stroke-width="12.0"/>
<circle cx="726.1" cy="560.8" r="73.2" fill="none" stroke="#3a963a" stroke-opacity="0.04" stroke-width="12.0"/>
<circle cx="743.7" cy="541.8" r="66.1" fill="none" stroke="#3a963a" stroke-opacity="0.04" stroke-width="12.0"/>
<circle cx="723.3" cy="553.5" r="77.4" fill="none" stroke="#3a963a" stroke-opacity="0.04" stroke-width="12.0"/>
<circle cx="722.7" cy="547.6" r="74.3" fill="none" stroke="#3a963a" stroke-opacity="0.04" stroke-width="12.0"/>
<circle cx="723.7" cy="535.2" r="57.3" fill="none" stroke="#3a963a" stroke-opacity="0.04" stroke-width="12.0"/>
<circle cx="731.6" cy="538.2" r="68.3" fill="none" stroke="#3a963a" stroke-opacity="0.04" stroke-width="12.0"/>
<circle cx="787.7" cy="594.4" r="56.3" fill="none" stroke="#ff2424" stroke-opacity="0.05" stroke-width="12.0"/>
<circle cx="796.5" cy="598.2" r="38.2" fill="none" stroke="#ff2424" stroke-opacity="0.05" stroke-width="12.0"/>
<circle cx="782.5" cy="582.6" r="40.3" fill="none" stroke="#ff2424" stroke-opacity="0.05" stroke-width="12.0"/>
<circle cx="785.4" cy="590.0" r="54.4" fill="none" stroke="#ff2424" stroke-opacity="0.05" stroke-width="12.0"/>
<circle cx="774.9" cy="581.3" r="49.8" fill="none" stroke="#ff2424" stroke-opacity="0.05" stroke-width="12.0"/>
<circle cx="784.6" cy="587.8" r="49.4" fill="none" stroke="#ff2424" stroke-opacity="0.05" stroke-width="12.0"/>
<circle cx="780.7" cy="594.9" r="53.2" fill="none" stroke="#ff2424" stroke-opacity="0.05" stroke-width="12.0"/>
<circle cx="785.4" cy="585.3" r="48.4" fill="none" stroke="#ff2424" stroke-opacity="0.05" stroke-width="12.0"/>
<circle cx="766.9" cy="583.1" r="50.3" fill="none" stroke="#ff2424" stroke-opacity="0.05" stroke-width="12.0"/>
<circle cx="775.5" cy="591.4" r="51.3" fill="none" stroke="#ff2424" stroke-opacity="0.05" stroke-width="12.0"/>
<circle cx="776.4" cy="588.2" r="47.2" fill="none" stroke="#ff2424" stroke-opacity="0.05" stroke-width="12.0"/>
<circle cx="789.2" cy="594.3" r="49.7" fill="none" stroke="#ff2424" stroke-opacity="0.05" stroke-width="12.0"/>
<circle cx="780.0" cy="589.0" r="49.4" fill="none" stroke="#ff2424" stroke-opacity="0.05" stroke-width="12.0"/>
<circle cx="791.1" cy="592.1" r="43.5" fill="none" stroke="#ff2424" stroke-opacity="0.05" stroke-width="12.0"/>
<circle cx="776.5" cy="587.4" r="43.3" fill="none" stroke="#ff2424" stroke-opacity="0.05" stroke-width="12.0"/>
<circle cx="778.2" cy="589.2" r="45.6" fill="none" stroke="#ff2424" stroke-opacity="0.05" stroke-width="12.0"/>
<circle cx="786.7" cy="593.7" r="46.3" fill="none" stroke="#ff2424" stroke-opacity="0.05" stroke-width="12.0"/>
<circle cx="802.3" cy="587.7" r="59.9" fill="none" stroke="#ff2424" stroke-opacity="0.05" stroke-width="12.0"/>
<circle cx="786.9" cy="597.8" r="28.6" fill="none" stroke="#ff2424" stroke-opacity="0.05" stroke-width="12.0"/>
<circle cx="780.7" cy="591.7" r="55.4" fill="none" stroke="#ff2424" stroke-opacity="0.05" stroke-width="12.0"/>
<circle cx="802.4" cy="592.3" r="61.5" fill="none" stroke="#ff2424" stroke-opacity="0.05" stroke-width="12.0"/>
<circle cx="791.4" cy="596.6" r="54.6" fill="none" stroke="#ff2424" stroke-opacity="0.05" stroke-width="12.0"/>
<circle cx="784.9" cy="593.6" r="40.3" fill="none" stroke="#ff2424" stroke-opacity="0.05" stroke-width="12.0"/>
<circle cx="794.3" cy="582.9" r="52.2" fill="none" stroke="#ff2424" stroke-opacity="0.05" stroke-width="12.0"/>
<circle cx="800.8" cy="588.4" r="50.2" fill="none" stroke="#ff2424" stroke-opacity="0.05" stroke-width="12.0"/>
<circle cx="794.1" cy="590.2" r="42.7" fill="none" stroke="#ff2424" stroke-opacity="0.05" stroke-width="12.0"/>
<circle cx="787.8" cy="594.1" r="56.4" fill="none" stroke="#ff2424" stroke-opacity="0.05" stroke-width="12.0"/>
<circle cx="780.6" cy="602.3" r="65.0" fill="none" stroke="#ff2424" stroke-opacity="0.05" stroke-width="12.0"/>
<circle cx="786.1" cy="591.9" r="46.1" fill="none" stroke="#ff2424" stroke-opacity="0.05" stroke-width="12.0"/>
<circle cx="795.9" cy="585.1" r="56.1" fill="none" stroke="#ff2424" stroke-opacity="0.05" stroke-width="12.0"/>
<circle cx="782.6" cy="585.1" r="56.5" fill="none" stroke="#ff2424" stroke-opacity="0.05" stroke-width="12.0"/>
<circle cx="795.3" cy="589.9" r="43.9" fill="none" stroke="#ff2424" stroke-opacity="0.05" stroke-width="12.0"/>
<circle cx="791.7" cy="589.7" r="52.8" fill="none" stroke="#ff2424" stroke-opacity="0.05" stroke-width="12.0"/>
<circle cx="796.7" cy="597.9" r="45.3" fill="none" stroke="#ff2424" stroke-opacity="0.05" stroke-width="12.0"/>
<circle cx="802.0" cy="590.0" r="57.1" fill="none" stroke="#ff2424" stroke-opacity="0.05" stroke-width="12.0"/>
<circle cx="781.5" cy="589.7" r="34.3" fill="none" stroke="#ff2424" stroke-opacity="0.05" stroke-width="12.0"/>
<circle cx="798.5" cy="599.6" r="39.1" fill="none" stroke="#ff2424" stroke-opacity="0.05" stroke-width="12.0"/>
<circle cx="775.5" cy="578.7" r="60.6" fill="none" stroke="#ff2424" stroke-opacity="0.05" stroke-width="12.0"/>
<circle cx="782.8" cy="589.6" r="47.2" fill="none" stroke="#ff2424" stroke-opacity="0.05" stroke-width="12.0"/>
<circle cx="785.2" cy="582.4" r="50.2" fill="none" stroke="#ff2424" stroke-opacity="0.05" stroke-width="12.0"/>
<circle cx="775.9" cy="589.5" r="52.8" fill="none" stroke="#ff2424" stroke-opacity="0.05" stroke-width="12.0"/>
<circle cx="789.3" cy="588.4" r="41.9" fill="none" stroke="#ff2424" stroke-opacity="0.05" stroke-width="12.0"/>
<circle cx="787.1" cy="586.6" r="64.1" fill="none" stroke="#ff2424" stroke-opacity="0.05" stroke-width="12.0"/>
<circle cx="791.4" cy="589.2" r="45.8" fill="none" stroke="#ff2424" stroke-opacity="0.05" stroke-width="12.0"/>
<circle cx="781.1" cy="583.4" r="46.8" fill="none" stroke="#ff2424" stroke-opacity="0.05" stroke-width="12.0"/>
<circle cx="788.1" cy="593.6" r="55.1" fill="none" stroke="#ff2424" stroke-opacity="0.05" stroke-width="12.0"/>
<circle cx="800.7" cy="585.1" r="50.1" fill="none" stroke="#ff2424" stroke-opacity="0.05" stroke-width="12.0"/>
<circle cx="805.6" cy="576.9" r="45.3" fill="none" stroke="#ff2424" stroke-opacity="0.05" stroke-width="12.0"/>
<circle cx="787.2" cy="591.1" r="53.7" fill="none" stroke="#ff2424" stroke-opacity="0.05" stroke-width="12.0"/>
<circle cx="784.3" cy="592.6" r="50.5" fill="none" stroke="#ff2424" stroke-opacity="0.05" stroke-width="12.0"/>
<circle cx="791.4" cy="576.8" r="42.0" fill="none" stroke="#ff2424" stroke-opacity="0.05" stroke-width="12.0"/>
<circle cx="786.0" cy="582.8" r="40.6" fill="none" stroke="#ff2424" stroke-opacity="0.05" stroke-width="12.0"/>
<circle cx="790.4" cy="585.5" r="55.7" fill="none" stroke="#ff2424" stroke-opacity="0.05" stroke-width="12.0"/>
<circle cx="791.2" cy="592.1" r="54.6" fill="none" stroke="#ff2424" stroke-opacity="0.05" stroke-width="12.0"/>
<circle cx="785.3" cy="580.1" r="49.7" fill="none" stroke="#ff2424" stroke-opacity="0.05" stroke-width="12.0"/>
<circle cx="789.2" cy="586.3" r="49.1" fill="none" stroke="#ff2424" stroke-opacity="0.05" stroke-width="12.0"/>
<circle cx="791.2" cy="583.9" r="55.8" fill="none" stroke="#ff2424" stroke-opacity="0.05" stroke-width="12.0"/>
<circle cx="799.0" cy="586.1" r="51.3" fill="none" stroke="#ff2424" stroke-opacity="0.05" stroke-width="12.0"/>
<circle cx="784.9" cy="600.8" r="52.8" fill="none" stroke="#ff2424" stroke-opacity="0.05" stroke-width="12.0"/>
<circle cx="792.3" cy="585.2" r="49.9" fill="none" stroke="#ff2424" stroke-opacity="0.05" stroke-width="12.0"/>
<circle cx="785.9" cy="577.6" r="63.0" fill="none" stroke="#ff2424" stroke-opacity="0.05" stroke-width="12.0"/>
<circle cx="792.3" cy="577.8" r="56.7" fill="none" stroke="#ff2424" stroke-opacity="0.05" stroke-width="12.0"/>
<circle cx="785.1" cy="593.1" r="53.3" fill="none" stroke="#ff2424" stroke-opacity="0.05" stroke-width="12.0"/>
<circle cx="775.5" cy="588.5" r="63.4" fill="none" stroke="#ff2424" stroke-opacity="0.05" stroke-width="12.0"/>
<circle cx="782.0" cy="582.8" r="37.8" fill="none" stroke="#ff2424" stroke-opacity="0.05" stroke-width="12.0"/>
<circle cx="777.5" cy="592.3" r="65.2" fill="none" stroke="#ff2424" stroke-opacity="0.05" stroke-width="12.0"/>
<circle cx="789.0" cy="591.7" r="70.1" fill="none" stroke="#ff2424" stroke-opacity="0.05" stroke-width="12.0"/>
<circle cx="782.4" cy="585.3" r="54.8" fill="none" stroke="#ff2424" stroke-opacity="0.05" stroke-width="12.0"/>
<circle cx="789.8" cy="582.9" r="39.5" fill="none" stroke="#ff2424" stroke-opacity="0.05" stroke-width="12.0"/>
<circle cx="788.0" cy="591.7" r="38.2" fill="none" stroke="#ff2424" stroke-opacity="0.05" stroke-width="12.0"/>
<rect x="759.20" y="496.60" width="9.10" height="9.05" fill="#1c1cd7" fill-opacity="0.35" shape-rendering="crispEdges"/>
<rect x="768.25" y="496.60" width="9.10" height="9.05" fill="#1c1cd7" fill-opacity="0.35" shape-rendering="crispEdges"/>
<rect x="777.30" y="496.60" width="9.10" height="9.05" fill="#1c1cd7" fill-opacity="0.35" shape-rendering="crispEdges"/>
<rect x="786.35" y="496.60" width="9.10" height="9.05" fill="#1c1cd7" fill-opacity="0.35" shape-rendering="crispEdges"/>
<rect x="795.40" y="496.60" width="9.10" height="9.05" fill="#1c1cd7" fill-opacity="0.35" shape-rendering="crispEdges"/>
<rect x="804.45" y="496.60" width="9.10" height="9.05" fill="#1c1cd7" fill-opacity="0.35" shape-rendering="crispEdges"/>
<rect x="695.85" y="505.60" width="9.10" height="9.05" fill="#269e2f" fill-opacity="0.35" shape-rendering="crispEdges"/>
<rect x="704.90" y="505.60" width="9.10" height="9.05" fill="#269e2f" fill-opacity="0.35" shape-rendering="crispEdges"/>
<rect x="713.95" y="505.60" width="9.10" height="9.05" fill="#269e2f" fill-opacity="0.35" shape-rendering="crispEdges"/>
<rect x="777.30" y="505.60" width="9.10" height="9.05" fill="#1818b9" fill-opacity="0.45" shape-rendering="crispEdges"/>
<rect x="786.35" y="505.60" width="9.10" height="9.05" fill="#1818b9" fill-opacity="0.45" shape-rendering="crispEdges"/>
<rect x="795.40" y="505.60" width="9.10" height="9.05" fill="#1c1cd7" fill-opacity="0.35" shape-rendering="crispEdges"/>
<rect x="695.85" y="514.60" width="9.10" height="9.05" fill="#188820" fill-opacity="0.45" shape-rendering="crispEdges"/>
<rect x="713.95" y="514.60" width="9.10" height="9.05" fill="#1a9322" fill-opacity="0.40" shape-rendering="crispEdges"/>
<rect x="723.00" y="514.60" width="9.10" height="9.05" fill="#d71c25" fill-opacity="0.35" shape-rendering="crispEdges"/>
<rect x="732.05" y="514.60" width="9.10" height="9.05" fill="#1c9e25" fill-opacity="0.35" shape-rendering="crispEdges"/>
<rect x="741.10" y="514.60" width="9.10" height="9.05" fill="#c81a22" fill-opacity="0.40" shape-rendering="crispEdges"/>
<rect x="768.25" y="514.60" width="9.10" height="9.05" fill="#1818b9" fill-opacity="0.45" shape-rendering="crispEdges"/>
<rect x="777.30" y="514.60" width="9.10" height="9.05" fill="#1818b9" fill-opacity="0.45" shape-rendering="crispEdges"/>
<rect x="786.35" y="514.60" width="9.10" height="9.05" fill="#12128c" fill-opacity="0.60" shape-rendering="crispEdges"/>
<rect x="795.40" y="514.60" width="9.10" height="9.05" fill="#1818b9" fill-opacity="0.45" shape-rendering="crispEdges"/>
<rect x="804.45" y="514.60" width="9.10" height="9.05" fill="#1c1cd7" fill-opacity="0.35" shape-rendering="crispEdges"/>
<rect x="695.85" y="523.60" width="9.10" height="9.05" fill="#269e2f" fill-opacity="0.35" shape-rendering="crispEdges"/>
<rect x="704.90" y="523.60" width="9.10" height="9.05" fill="#1a9322" fill-opacity="0.40" shape-rendering="crispEdges"/>
<rect x="713.95" y="523.60" width="9.10" height="9.05" fill="#167d1d" fill-opacity="0.50" shape-rendering="crispEdges"/>
<rect x="723.00" y="523.60" width="9.10" height="9.05" fill="#1a9322" fill-opacity="0.40" shape-rendering="crispEdges"/>
<rect x="732.05" y="523.60" width="9.10" height="9.05" fill="#188820" fill-opacity="0.45" shape-rendering="crispEdges"/>
<rect x="741.10" y="523.60" width="9.10" height="9.05" fill="#838820" fill-opacity="0.45" shape-rendering="crispEdges"/>
<rect x="750.15" y="523.60" width="9.10" height="9.05" fill="#1c9e25" fill-opacity="0.35" shape-rendering="crispEdges"/>
<rect x="759.20" y="523.60" width="9.10" height="9.05" fill="#1a93c8" fill-opacity="0.40" shape-rendering="crispEdges"/>
<rect x="777.30" y="523.60" width="9.10" height="9.05" fill="#1a1ac8" fill-opacity="0.40" shape-rendering="crispEdges"/>
<rect x="786.35" y="523.60" width="9.10" height="9.05" fill="#1818b9" fill-opacity="0.45" shape-rendering="crispEdges"/>
<rect x="795.40" y="523.60" width="9.10" height="9.05" fill="#1c1cd7" fill-opacity="0.35" shape-rendering="crispEdges"/>
<rect x="804.45" y="523.60" width="9.10" height="9.05" fill="#1c1cd7" fill-opacity="0.35" shape-rendering="crispEdges"/>
<rect x="695.85" y="532.60" width="9.10" height="9.05" fill="#269e2f" fill-opacity="0.35" shape-rendering="crispEdges"/>
<rect x="704.90" y="532.60" width="9.10" height="9.05" fill="#14721b" fill-opacity="0.55" shape-rendering="crispEdges"/>
<rect x="713.95" y="532.60" width="9.10" height="9.05" fill="#1a9322" fill-opacity="0.40" shape-rendering="crispEdges"/>
<rect x="723.00" y="532.60" width="9.10" height="9.05" fill="#188820" fill-opacity="0.45" shape-rendering="crispEdges"/>
<rect x="732.05" y="532.60" width="9.10" height="9.05" fill="#167d1d" fill-opacity="0.50" shape-rendering="crispEdges"/>
<rect x="741.10" y="532.60" width="9.10" height="9.05" fill="#188820" fill-opacity="0.45" shape-rendering="crispEdges"/>
<rect x="750.15" y="532.60" width="9.10" height="9.05" fill="#188820" fill-opacity="0.45" shape-rendering="crispEdges"/>
<rect x="768.25" y="532.60" width="9.10" height="9.05" fill="#1c1cd7" fill-opacity="0.35" shape-rendering="crispEdges"/>
<rect x="777.30" y="532.60" width="9.10" height="9.05" fill="#1c1cd7" fill-opacity="0.35" shape-rendering="crispEdges"/>
<rect x="786.35" y="532.60" width="9.10" height="9.05" fill="#1616aa" fill-opacity="0.50" shape-rendering="crispEdges"/>
<rect x="795.40" y="532.60" width="9.10" height="9.05" fill="#1c1cd7" fill-opacity="0.35" shape-rendering="crispEdges"/>
<rect x="804.45" y="532.60" width="9.10" height="9.05" fill="#1c1cd7" fill-opacity="0.35" shape-rendering="crispEdges"/>
<rect x="822.55" y="532.60" width="9.10" height="9.05" fill="#1c1cd7" fill-opacity="0.35" shape-rendering="crispEdges"/>
<rect x="704.90" y="541.60" width="9.10" height="9.05" fill="#1a9322" fill-opacity="0.40" shape-rendering="crispEdges"/>
<rect x="713.95" y="541.60" width="9.10" height="9.05" fill="#1c9e25" fill-opacity="0.35" shape-rendering="crispEdges"/>
<rect x="723.00" y="541.60" width="9.10" height="9.05" fill="#1a9322" fill-opacity="0.40" shape-rendering="crispEdges"/>
<rect x="732.05" y="541.60" width="9.10" height="9.05" fill="#14721b" fill-opacity="0.55" shape-rendering="crispEdges"/>
<rect x="741.10" y="541.60" width="9.10" height="9.05" fill="#1a9322" fill-opacity="0.40" shape-rendering="crispEdges"/>
<rect x="750.15" y="541.60" width="9.10" height="9.05" fill="#1c9e25" fill-opacity="0.35" shape-rendering="crispEdges"/>
<rect x="759.20" y="541.60" width="9.10" height="9.05" fill="#1c9e25" fill-opacity="0.35" shape-rendering="crispEdges"/>
<rect x="804.45" y="541.60" width="9.10" height="9.05" fill="#1c1cd7" fill-opacity="0.35" shape-rendering="crispEdges"/>
<rect x="723.00" y="550.60" width="9.10" height="9.05" fill="#1a9322" fill-opacity="0.40" shape-rendering="crispEdges"/>
<rect x="732.05" y="550.60" width="9.10" height="9.05" fill="#188820" fill-opacity="0.45" shape-rendering="crispEdges"/>
<rect x="741.10" y="550.60" width="9.10" height="9.05" fill="#1a9322" fill-opacity="0.40" shape-rendering="crispEdges"/>
<rect x="759.20" y="550.60" width="9.10" height="9.05" fill="#1c9e25" fill-opacity="0.35" shape-rendering="crispEdges"/>
<rect x="768.25" y="550.60" width="9.10" height="9.05" fill="#d71c25" fill-opacity="0.35" shape-rendering="crispEdges"/>
<rect x="813.50" y="550.60" width="9.10" height="9.05" fill="#1c1cd7" fill-opacity="0.35" shape-rendering="crispEdges"/>
<rect x="713.95" y="559.60" width="9.10" height="9.05" fill="#1c9e25" fill-opacity="0.35" shape-rendering="crispEdges"/>
<rect x="732.05" y="559.60" width="9.10" height="9.05" fill="#1a9322" fill-opacity="0.40" shape-rendering="crispEdges"/>
<rect x="750.15" y="559.60" width="9.10" height="9.05" fill="#1c9e25" fill-opacity="0.35" shape-rendering="crispEdges"/>
<rect x="759.20" y="559.60" width="9.10" height="9.05" fill="#c81a22" fill-opacity="0.40" shape-rendering="crispEdges"/>
<rect x="768.25" y="559.60" width="9.10" height="9.05" fill="#1c9e25" fill-opacity="0.35" shape-rendering="crispEdges"/>
<rect x="777.30" y="559.60" width="9.10" height="9.05" fill="#b95020" fill-opacity="0.45" shape-rendering="crispEdges"/>
<rect x="786.35" y="559.60" width="9.10" height="9.05" fill="#b95020" fill-opacity="0.45" shape-rendering="crispEdges"/>
<rect x="741.10" y="568.60" width="9.10" height="9.05" fill="#c81a22" fill-opacity="0.40" shape-rendering="crispEdges"/>
<rect x="750.15" y="568.60" width="9.10" height="9.05" fill="#d71c25" fill-opacity="0.35" shape-rendering="crispEdges"/>
<rect x="768.25" y="568.60" width="9.10" height="9.05" fill="#b91820" fill-opacity="0.45" shape-rendering="crispEdges"/>
<rect x="777.30" y="568.60" width="9.10" height="9.05" fill="#9b141b" fill-opacity="0.55" shape-rendering="crispEdges"/>
<rect x="786.35" y="568.60" width="9.10" height="9.05" fill="#9b141b" fill-opacity="0.55" shape-rendering="crispEdges"/>
<rect x="804.45" y="568.60" width="9.10" height="9.05" fill="#d71c25" fill-opacity="0.35" shape-rendering="crispEdges"/>
<rect x="732.05" y="577.60" width="9.10" height="9.05" fill="#d71c25" fill-opacity="0.35" shape-rendering="crispEdges"/>
<rect x="741.10" y="577.60" width="9.10" height="9.05" fill="#c89322" fill-opacity="0.40" shape-rendering="crispEdges"/>
<rect x="750.15" y="577.60" width="9.10" height="9.05" fill="#aa161d" fill-opacity="0.50" shape-rendering="crispEdges"/>
<rect x="759.20" y="577.60" width="9.10" height="9.05" fill="#9b141b" fill-opacity="0.55" shape-rendering="crispEdges"/>
<rect x="768.25" y="577.60" width="9.10" height="9.05" fill="#8c1218" fill-opacity="0.60" shape-rendering="crispEdges"/>
<rect x="777.30" y="577.60" width="9.10" height="9.05" fill="#6e0e13" fill-opacity="0.70" shape-rendering="crispEdges"/>
<rect x="786.35" y="577.60" width="9.10" height="9.05" fill="#9b141b" fill-opacity="0.55" shape-rendering="crispEdges"/>
<rect x="795.40" y="577.60" width="9.10" height="9.05" fill="#b91820" fill-opacity="0.45" shape-rendering="crispEdges"/>
<rect x="741.10" y="586.60" width="9.10" height="9.05" fill="#c81a22" fill-opacity="0.40" shape-rendering="crispEdges"/>
<rect x="750.15" y="586.60" width="9.10" height="9.05" fill="#d71c25" fill-opacity="0.35" shape-rendering="crispEdges"/>
<rect x="759.20" y="586.60" width="9.10" height="9.05" fill="#c81a22" fill-opacity="0.40" shape-rendering="crispEdges"/>
<rect x="768.25" y="586.60" width="9.10" height="9.05" fill="#d71c25" fill-opacity="0.35" shape-rendering="crispEdges"/>
<rect x="777.30" y="586.60" width="9.10" height="9.05" fill="#aa161d" fill-opacity="0.50" shape-rendering="crispEdges"/>
<rect x="786.35" y="586.60" width="9.10" height="9.05" fill="#7d151c" fill-opacity="0.65" shape-rendering="crispEdges"/>
<rect x="795.40" y="586.60" width="9.10" height="9.05" fill="#c81a22" fill-opacity="0.40" shape-rendering="crispEdges"/>
<rect x="804.45" y="586.60" width="9.10" height="9.05" fill="#c81a22" fill-opacity="0.40" shape-rendering="crispEdges"/>
<rect x="759.20" y="595.60" width="9.10" height="9.05" fill="#d71c25" fill-opacity="0.35" shape-rendering="crispEdges"/>
<rect x="768.25" y="595.60" width="9.10" height="9.05" fill="#d71c25" fill-opacity="0.35" shape-rendering="crispEdges"/>
<rect x="777.30" y="595.60" width="9.10" height="9.05" fill="#c81a22" fill-opacity="0.40" shape-rendering="crispEdges"/>
<rect x="786.35" y="595.60" width="9.10" height="9.05" fill="#d71c25" fill-opacity="0.35" shape-rendering="crispEdges"/>
<rect x="795.40" y="595.60" width="9.10" height="9.05" fill="#d71c25" fill-opacity="0.35" shape-rendering="crispEdges"/>
<rect x="750.15" y="604.60" width="9.10" height="9.05" fill="#d71c25" fill-opacity="0.35" shape-rendering="crispEdges"/>
<rect x="759.20" y="604.60" width="9.10" height="9.05" fill="#d71c25" fill-opacity="0.35" shape-rendering="crispEdges"/>
<rect x="777.30" y="604.60" width="9.10" height="9.05" fill="#d71c25" fill-opacity="0.35" shape-rendering="crispEdges"/>
<rect x="786.35" y="604.60" width="9.10" height="9.05" fill="#d71c25" fill-opacity="0.35" shape-rendering="crispEdges"/>
<rect x="804.45" y="604.60" width="9.10" height="9.05" fill="#d71c25" fill-opacity="0.35" shape-rendering="crispEdges"/>
</g>
<rect x="633.1" y="443.3" width="253" height="233.6" fill="none" stroke="#7a7a7a" stroke-width="1"/>
<rect x="642.5" y="635.3" width="12.2" height="12.2" fill="#9a9a9a"/>
<text x="666.1" y="646.8" font-size="15" text-anchor="start" font-weight="normal" fill="#231f20" textLength="82.6" lengthAdjust="spacingAndGlyphs">Localization</text>
<circle cx="648.4" cy="661.4" r="8" fill="none" stroke="#2a3a6a" stroke-width="1.6"/>
<text x="666.1" y="666.7" font-size="15" text-anchor="start" font-weight="normal" fill="#231f20" textLength="97.6" lengthAdjust="spacingAndGlyphs">FRET distance</text>
<rect x="826" y="655.2" width="47" height="4.5" fill="#000"/>
<text x="832.3" y="648.2" font-size="15" text-anchor="start" font-weight="normal" fill="#231f20" textLength="33.7" lengthAdjust="spacingAndGlyphs">5 nm</text>
<text transform="translate(633.70 430.88) scale(1.067 0.965)" x="0" y="0" font-size="21" font-weight="bold" fill="#000" stroke="#000" stroke-width="1.1" stroke-linejoin="round">g</text>
</svg></body></html>
